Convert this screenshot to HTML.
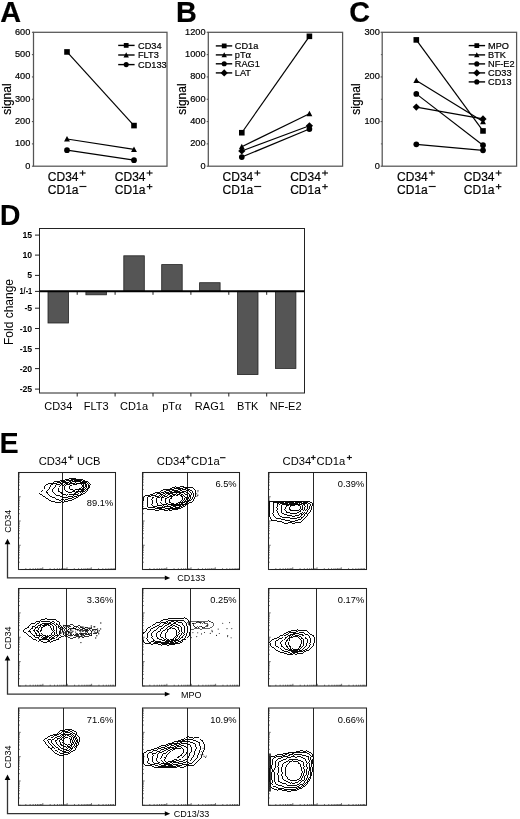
<!DOCTYPE html>
<html><head><meta charset="utf-8"><style>
html,body{margin:0;padding:0;background:#fff;}
body{width:520px;height:819px;overflow:hidden;font-family:"Liberation Sans",sans-serif;}
svg{display:block;filter:grayscale(1);}
svg text.st{stroke:#000;stroke-width:0.2px;paint-order:stroke;}
</style></head><body>
<svg width="520" height="819" viewBox="0 0 520 819">
<rect width="520" height="819" fill="#fff"/>
<text class="st" x="0.3" y="22.2" font-size="28.8" font-weight="bold" font-family="Liberation Sans, sans-serif">A</text>
<rect x="33.5" y="32.3" width="133.50" height="133.90" fill="none" stroke="#555" stroke-width="1.25"/>
<line x1="31.9" y1="166.20" x2="33.5" y2="166.20" stroke="#555" stroke-width="1.1"/>
<text class="st" x="30.3" y="168.60" font-size="9.2" text-anchor="end" font-family="Liberation Sans, sans-serif">0</text>
<line x1="31.9" y1="143.88" x2="33.5" y2="143.88" stroke="#555" stroke-width="1.1"/>
<text class="st" x="30.3" y="146.28" font-size="9.2" text-anchor="end" font-family="Liberation Sans, sans-serif">100</text>
<line x1="31.9" y1="121.57" x2="33.5" y2="121.57" stroke="#555" stroke-width="1.1"/>
<text class="st" x="30.3" y="123.97" font-size="9.2" text-anchor="end" font-family="Liberation Sans, sans-serif">200</text>
<line x1="31.9" y1="99.25" x2="33.5" y2="99.25" stroke="#555" stroke-width="1.1"/>
<text class="st" x="30.3" y="101.65" font-size="9.2" text-anchor="end" font-family="Liberation Sans, sans-serif">300</text>
<line x1="31.9" y1="76.93" x2="33.5" y2="76.93" stroke="#555" stroke-width="1.1"/>
<text class="st" x="30.3" y="79.33" font-size="9.2" text-anchor="end" font-family="Liberation Sans, sans-serif">400</text>
<line x1="31.9" y1="54.62" x2="33.5" y2="54.62" stroke="#555" stroke-width="1.1"/>
<text class="st" x="30.3" y="57.02" font-size="9.2" text-anchor="end" font-family="Liberation Sans, sans-serif">500</text>
<line x1="31.9" y1="32.30" x2="33.5" y2="32.30" stroke="#555" stroke-width="1.1"/>
<text class="st" x="30.3" y="34.70" font-size="9.2" text-anchor="end" font-family="Liberation Sans, sans-serif">600</text>
<text class="st" transform="translate(10.5,99.1) rotate(-90)" font-size="12" text-anchor="middle" font-family="Liberation Sans, sans-serif">signal</text>
<line x1="67.0" y1="51.94" x2="134.0" y2="125.58" stroke="#000" stroke-width="1.2"/>
<line x1="67.0" y1="138.97" x2="134.0" y2="149.46" stroke="#000" stroke-width="1.2"/>
<line x1="67.0" y1="150.13" x2="134.0" y2="160.17" stroke="#000" stroke-width="1.2"/>
<rect x="64.20" y="49.14" width="5.60" height="5.60" fill="#000"/>
<rect x="131.20" y="122.78" width="5.60" height="5.60" fill="#000"/>
<path d="M67.00,135.97 L69.95,141.57 L64.05,141.57Z" fill="#000"/>
<path d="M134.00,146.46 L136.95,152.06 L131.05,152.06Z" fill="#000"/>
<circle cx="67.00" cy="150.13" r="2.85" fill="#000"/>
<circle cx="134.00" cy="160.17" r="2.85" fill="#000"/>
<line x1="118.2" y1="45.4" x2="134.6" y2="45.4" stroke="#000" stroke-width="1.4"/>
<rect x="123.82" y="43.02" width="4.76" height="4.76" fill="#000"/>
<text class="st" x="138.0" y="48.60" font-size="9.2" font-family="Liberation Sans, sans-serif">CD34</text>
<line x1="118.2" y1="55.0" x2="134.6" y2="55.0" stroke="#000" stroke-width="1.4"/>
<path d="M126.20,52.24 L128.91,57.39 L123.49,57.39Z" fill="#000"/>
<text class="st" x="138.0" y="58.20" font-size="9.2" font-family="Liberation Sans, sans-serif">FLT3</text>
<line x1="118.2" y1="64.6" x2="134.6" y2="64.6" stroke="#000" stroke-width="1.4"/>
<circle cx="126.20" cy="64.60" r="2.56" fill="#000"/>
<text class="st" x="138.0" y="67.80" font-size="9.2" font-family="Liberation Sans, sans-serif">CD133</text>
<text class="st" x="47.80" y="180.8" font-size="12" font-family="Liberation Sans, sans-serif">CD34</text>
<rect x="79.60" y="172.43" width="6.00" height="1.15" fill="#111"/><rect x="82.02" y="170.40" width="1.15" height="5.20" fill="#111"/>
<text class="st" x="47.80" y="194.4" font-size="12" font-family="Liberation Sans, sans-serif">CD1a</text>
<rect x="79.40" y="185.93" width="7.00" height="1.15" fill="#111"/>
<text class="st" x="114.80" y="180.8" font-size="12" font-family="Liberation Sans, sans-serif">CD34</text>
<rect x="146.60" y="172.43" width="6.00" height="1.15" fill="#111"/><rect x="149.03" y="170.40" width="1.15" height="5.20" fill="#111"/>
<text class="st" x="114.80" y="194.4" font-size="12" font-family="Liberation Sans, sans-serif">CD1a</text>
<rect x="146.80" y="186.08" width="5.60" height="1.15" fill="#111"/><rect x="149.03" y="184.00" width="1.15" height="5.30" fill="#111"/>
<text class="st" x="175.9" y="22.2" font-size="28.8" font-weight="bold" font-family="Liberation Sans, sans-serif">B</text>
<rect x="208.3" y="32.3" width="134.30" height="133.90" fill="none" stroke="#555" stroke-width="1.25"/>
<line x1="206.70000000000002" y1="166.20" x2="208.3" y2="166.20" stroke="#555" stroke-width="1.1"/>
<text class="st" x="205.5" y="168.60" font-size="9.2" text-anchor="end" font-family="Liberation Sans, sans-serif">0</text>
<line x1="206.70000000000002" y1="143.88" x2="208.3" y2="143.88" stroke="#555" stroke-width="1.1"/>
<text class="st" x="205.5" y="146.28" font-size="9.2" text-anchor="end" font-family="Liberation Sans, sans-serif">200</text>
<line x1="206.70000000000002" y1="121.57" x2="208.3" y2="121.57" stroke="#555" stroke-width="1.1"/>
<text class="st" x="205.5" y="123.97" font-size="9.2" text-anchor="end" font-family="Liberation Sans, sans-serif">400</text>
<line x1="206.70000000000002" y1="99.25" x2="208.3" y2="99.25" stroke="#555" stroke-width="1.1"/>
<text class="st" x="205.5" y="101.65" font-size="9.2" text-anchor="end" font-family="Liberation Sans, sans-serif">600</text>
<line x1="206.70000000000002" y1="76.93" x2="208.3" y2="76.93" stroke="#555" stroke-width="1.1"/>
<text class="st" x="205.5" y="79.33" font-size="9.2" text-anchor="end" font-family="Liberation Sans, sans-serif">800</text>
<line x1="206.70000000000002" y1="54.62" x2="208.3" y2="54.62" stroke="#555" stroke-width="1.1"/>
<text class="st" x="205.5" y="57.02" font-size="9.2" text-anchor="end" font-family="Liberation Sans, sans-serif">1000</text>
<line x1="206.70000000000002" y1="32.30" x2="208.3" y2="32.30" stroke="#555" stroke-width="1.1"/>
<text class="st" x="205.5" y="34.70" font-size="9.2" text-anchor="end" font-family="Liberation Sans, sans-serif">1200</text>
<text class="st" transform="translate(185.6,99.1) rotate(-90)" font-size="12" text-anchor="middle" font-family="Liberation Sans, sans-serif">signal</text>
<line x1="241.8" y1="132.72" x2="309.4" y2="36.32" stroke="#000" stroke-width="1.2"/>
<line x1="241.8" y1="146.67" x2="309.4" y2="113.76" stroke="#000" stroke-width="1.2"/>
<line x1="241.8" y1="151.02" x2="309.4" y2="125.81" stroke="#000" stroke-width="1.2"/>
<line x1="241.8" y1="157.05" x2="309.4" y2="129.04" stroke="#000" stroke-width="1.2"/>
<rect x="239.00" y="129.92" width="5.60" height="5.60" fill="#000"/>
<rect x="306.60" y="33.52" width="5.60" height="5.60" fill="#000"/>
<path d="M241.80,143.67 L244.75,149.27 L238.85,149.27Z" fill="#000"/>
<path d="M309.40,110.76 L312.35,116.36 L306.45,116.36Z" fill="#000"/>
<path d="M241.80,147.42 L245.40,151.02 L241.80,154.62 L238.20,151.02Z" fill="#000"/>
<path d="M309.40,122.21 L313.00,125.81 L309.40,129.41 L305.80,125.81Z" fill="#000"/>
<circle cx="241.80" cy="157.05" r="2.85" fill="#000"/>
<circle cx="309.40" cy="129.04" r="2.85" fill="#000"/>
<line x1="215.8" y1="45.9" x2="232.2" y2="45.9" stroke="#000" stroke-width="1.4"/>
<rect x="221.82" y="43.52" width="4.76" height="4.76" fill="#000"/>
<text class="st" x="234.8" y="49.10" font-size="9.2" font-family="Liberation Sans, sans-serif">CD1a</text>
<line x1="215.8" y1="54.9" x2="232.2" y2="54.9" stroke="#000" stroke-width="1.4"/>
<path d="M224.20,52.14 L226.91,57.29 L221.49,57.29Z" fill="#000"/>
<text class="st" x="234.8" y="58.10" font-size="9.2" font-family="Liberation Sans, sans-serif">pT<tspan font-family="Liberation Serif, serif" font-size="10.5">α</tspan></text>
<line x1="215.8" y1="63.8" x2="232.2" y2="63.8" stroke="#000" stroke-width="1.4"/>
<circle cx="224.20" cy="63.80" r="2.56" fill="#000"/>
<text class="st" x="234.8" y="67.00" font-size="9.2" font-family="Liberation Sans, sans-serif">RAG1</text>
<line x1="215.8" y1="72.9" x2="232.2" y2="72.9" stroke="#000" stroke-width="1.4"/>
<path d="M224.20,69.30 L227.80,72.90 L224.20,76.50 L220.60,72.90Z" fill="#000"/>
<text class="st" x="234.8" y="76.10" font-size="9.2" font-family="Liberation Sans, sans-serif">LAT</text>
<text class="st" x="222.60" y="180.8" font-size="12" font-family="Liberation Sans, sans-serif">CD34</text>
<rect x="254.40" y="172.43" width="6.00" height="1.15" fill="#111"/><rect x="256.83" y="170.40" width="1.15" height="5.20" fill="#111"/>
<text class="st" x="222.60" y="194.4" font-size="12" font-family="Liberation Sans, sans-serif">CD1a</text>
<rect x="254.20" y="185.93" width="7.00" height="1.15" fill="#111"/>
<text class="st" x="290.20" y="180.8" font-size="12" font-family="Liberation Sans, sans-serif">CD34</text>
<rect x="322.00" y="172.43" width="6.00" height="1.15" fill="#111"/><rect x="324.43" y="170.40" width="1.15" height="5.20" fill="#111"/>
<text class="st" x="290.20" y="194.4" font-size="12" font-family="Liberation Sans, sans-serif">CD1a</text>
<rect x="322.20" y="186.08" width="5.60" height="1.15" fill="#111"/><rect x="324.43" y="184.00" width="1.15" height="5.30" fill="#111"/>
<text class="st" x="349.3" y="22.2" font-size="28.8" font-weight="bold" font-family="Liberation Sans, sans-serif">C</text>
<rect x="382.2" y="32.3" width="134.40" height="133.90" fill="none" stroke="#555" stroke-width="1.25"/>
<line x1="380.59999999999997" y1="166.20" x2="382.2" y2="166.20" stroke="#555" stroke-width="1.1"/>
<text class="st" x="379.8" y="168.60" font-size="9.2" text-anchor="end" font-family="Liberation Sans, sans-serif">0</text>
<line x1="380.59999999999997" y1="121.57" x2="382.2" y2="121.57" stroke="#555" stroke-width="1.1"/>
<text class="st" x="379.8" y="123.97" font-size="9.2" text-anchor="end" font-family="Liberation Sans, sans-serif">100</text>
<line x1="380.59999999999997" y1="76.93" x2="382.2" y2="76.93" stroke="#555" stroke-width="1.1"/>
<text class="st" x="379.8" y="79.33" font-size="9.2" text-anchor="end" font-family="Liberation Sans, sans-serif">200</text>
<line x1="380.59999999999997" y1="32.30" x2="382.2" y2="32.30" stroke="#555" stroke-width="1.1"/>
<text class="st" x="379.8" y="34.70" font-size="9.2" text-anchor="end" font-family="Liberation Sans, sans-serif">300</text>
<line x1="380.9" y1="143.88" x2="382.2" y2="143.88" stroke="#555" stroke-width="0.9"/>
<line x1="380.9" y1="99.25" x2="382.2" y2="99.25" stroke="#555" stroke-width="0.9"/>
<line x1="380.9" y1="54.62" x2="382.2" y2="54.62" stroke="#555" stroke-width="0.9"/>
<text class="st" transform="translate(359.6,99.1) rotate(-90)" font-size="12" text-anchor="middle" font-family="Liberation Sans, sans-serif">signal</text>
<line x1="416.3" y1="39.89" x2="483.0" y2="130.94" stroke="#000" stroke-width="1.2"/>
<line x1="416.3" y1="80.50" x2="483.0" y2="121.57" stroke="#000" stroke-width="1.2"/>
<line x1="416.3" y1="93.89" x2="483.0" y2="145.22" stroke="#000" stroke-width="1.2"/>
<line x1="416.3" y1="107.06" x2="483.0" y2="118.89" stroke="#000" stroke-width="1.2"/>
<line x1="416.3" y1="144.33" x2="483.0" y2="150.36" stroke="#000" stroke-width="1.2"/>
<rect x="413.50" y="37.09" width="5.60" height="5.60" fill="#000"/>
<rect x="480.20" y="128.14" width="5.60" height="5.60" fill="#000"/>
<path d="M416.30,77.50 L419.25,83.10 L413.35,83.10Z" fill="#000"/>
<path d="M483.00,118.57 L485.95,124.17 L480.05,124.17Z" fill="#000"/>
<circle cx="416.30" cy="93.89" r="2.85" fill="#000"/>
<circle cx="483.00" cy="145.22" r="2.85" fill="#000"/>
<path d="M416.30,103.46 L419.90,107.06 L416.30,110.66 L412.70,107.06Z" fill="#000"/>
<path d="M483.00,115.29 L486.60,118.89 L483.00,122.49 L479.40,118.89Z" fill="#000"/>
<circle cx="416.30" cy="144.33" r="2.85" fill="#000"/>
<circle cx="483.00" cy="150.36" r="2.85" fill="#000"/>
<line x1="468.7" y1="45.6" x2="485.1" y2="45.6" stroke="#000" stroke-width="1.4"/>
<rect x="474.42" y="43.22" width="4.76" height="4.76" fill="#000"/>
<text class="st" x="488.0" y="48.80" font-size="9.2" font-family="Liberation Sans, sans-serif">MPO</text>
<line x1="468.7" y1="54.9" x2="485.1" y2="54.9" stroke="#000" stroke-width="1.4"/>
<path d="M476.80,52.14 L479.51,57.29 L474.09,57.29Z" fill="#000"/>
<text class="st" x="488.0" y="58.10" font-size="9.2" font-family="Liberation Sans, sans-serif">BTK</text>
<line x1="468.7" y1="63.9" x2="485.1" y2="63.9" stroke="#000" stroke-width="1.4"/>
<circle cx="476.80" cy="63.90" r="2.56" fill="#000"/>
<text class="st" x="488.0" y="67.10" font-size="9.2" font-family="Liberation Sans, sans-serif">NF-E2</text>
<line x1="468.7" y1="72.9" x2="485.1" y2="72.9" stroke="#000" stroke-width="1.4"/>
<path d="M476.80,69.30 L480.40,72.90 L476.80,76.50 L473.20,72.90Z" fill="#000"/>
<text class="st" x="488.0" y="76.10" font-size="9.2" font-family="Liberation Sans, sans-serif">CD33</text>
<line x1="468.7" y1="81.9" x2="485.1" y2="81.9" stroke="#000" stroke-width="1.4"/>
<circle cx="476.80" cy="81.90" r="2.56" fill="#000"/>
<text class="st" x="488.0" y="85.10" font-size="9.2" font-family="Liberation Sans, sans-serif">CD13</text>
<text class="st" x="397.10" y="180.8" font-size="12" font-family="Liberation Sans, sans-serif">CD34</text>
<rect x="428.90" y="172.43" width="6.00" height="1.15" fill="#111"/><rect x="431.33" y="170.40" width="1.15" height="5.20" fill="#111"/>
<text class="st" x="397.10" y="194.4" font-size="12" font-family="Liberation Sans, sans-serif">CD1a</text>
<rect x="428.70" y="185.93" width="7.00" height="1.15" fill="#111"/>
<text class="st" x="463.80" y="180.8" font-size="12" font-family="Liberation Sans, sans-serif">CD34</text>
<rect x="495.60" y="172.43" width="6.00" height="1.15" fill="#111"/><rect x="498.03" y="170.40" width="1.15" height="5.20" fill="#111"/>
<text class="st" x="463.80" y="194.4" font-size="12" font-family="Liberation Sans, sans-serif">CD1a</text>
<rect x="495.80" y="186.08" width="5.60" height="1.15" fill="#111"/><rect x="498.03" y="184.00" width="1.15" height="5.30" fill="#111"/>
<text x="-0.2" y="224.8" font-size="28.8" font-weight="bold" font-family="Liberation Sans, sans-serif">D</text>
<rect x="39.5" y="228.5" width="265.0" height="164.5" fill="none" stroke="#222" stroke-width="1"/>
<line x1="35" y1="235.1" x2="39.5" y2="235.1" stroke="#222" stroke-width="1"/>
<text x="32.2" y="238.10" font-size="8.7" font-weight="bold" text-anchor="end" font-family="Liberation Sans, sans-serif">15</text>
<line x1="35" y1="255.1" x2="39.5" y2="255.1" stroke="#222" stroke-width="1"/>
<text x="32.2" y="258.10" font-size="8.7" font-weight="bold" text-anchor="end" font-family="Liberation Sans, sans-serif">10</text>
<line x1="35" y1="275.4" x2="39.5" y2="275.4" stroke="#222" stroke-width="1"/>
<text x="32.2" y="278.40" font-size="8.7" font-weight="bold" text-anchor="end" font-family="Liberation Sans, sans-serif">5</text>
<line x1="35" y1="291.4" x2="39.5" y2="291.4" stroke="#222" stroke-width="1"/>
<text x="32.2" y="294.40" font-size="8.7" font-weight="bold" text-anchor="end" textLength="12.7" lengthAdjust="spacingAndGlyphs" font-family="Liberation Sans, sans-serif">1/-1</text>
<line x1="35" y1="308.2" x2="39.5" y2="308.2" stroke="#222" stroke-width="1"/>
<text x="32.2" y="311.20" font-size="8.7" font-weight="bold" text-anchor="end" font-family="Liberation Sans, sans-serif">-5</text>
<line x1="35" y1="328.5" x2="39.5" y2="328.5" stroke="#222" stroke-width="1"/>
<text x="32.2" y="331.50" font-size="8.7" font-weight="bold" text-anchor="end" font-family="Liberation Sans, sans-serif">-10</text>
<line x1="35" y1="348.6" x2="39.5" y2="348.6" stroke="#222" stroke-width="1"/>
<text x="32.2" y="351.60" font-size="8.7" font-weight="bold" text-anchor="end" font-family="Liberation Sans, sans-serif">-15</text>
<line x1="35" y1="368.6" x2="39.5" y2="368.6" stroke="#222" stroke-width="1"/>
<text x="32.2" y="371.60" font-size="8.7" font-weight="bold" text-anchor="end" font-family="Liberation Sans, sans-serif">-20</text>
<line x1="35" y1="389.1" x2="39.5" y2="389.1" stroke="#222" stroke-width="1"/>
<text x="32.2" y="392.10" font-size="8.7" font-weight="bold" text-anchor="end" font-family="Liberation Sans, sans-serif">-25</text>
<text transform="translate(13.2,312) rotate(-90)" font-size="12" text-anchor="middle" font-family="Liberation Sans, sans-serif">Fold change</text>
<rect x="48.00" y="291.3" width="20.5" height="31.70" fill="#555" stroke="#222" stroke-width="0.8"/>
<text x="58.25" y="410.2" font-size="11" text-anchor="middle" font-family="Liberation Sans, sans-serif">CD34</text>
<rect x="85.90" y="291.3" width="20.5" height="3.50" fill="#555" stroke="#222" stroke-width="0.8"/>
<text x="96.15" y="410.2" font-size="11" text-anchor="middle" font-family="Liberation Sans, sans-serif">FLT3</text>
<rect x="123.80" y="255.8" width="20.5" height="35.50" fill="#555" stroke="#222" stroke-width="0.8"/>
<text x="134.05" y="410.2" font-size="11" text-anchor="middle" font-family="Liberation Sans, sans-serif">CD1a</text>
<rect x="161.70" y="264.6" width="20.5" height="26.70" fill="#555" stroke="#222" stroke-width="0.8"/>
<text x="171.95" y="410.2" font-size="11" text-anchor="middle" font-family="Liberation Sans, sans-serif">pT<tspan font-family="Liberation Serif, serif" font-size="12.5">α</tspan></text>
<rect x="199.60" y="282.7" width="20.5" height="8.60" fill="#555" stroke="#222" stroke-width="0.8"/>
<text x="209.85" y="410.2" font-size="11" text-anchor="middle" font-family="Liberation Sans, sans-serif">RAG1</text>
<rect x="237.50" y="291.3" width="20.5" height="83.30" fill="#555" stroke="#222" stroke-width="0.8"/>
<text x="247.75" y="410.2" font-size="11" text-anchor="middle" font-family="Liberation Sans, sans-serif">BTK</text>
<rect x="275.40" y="291.3" width="20.5" height="77.10" fill="#555" stroke="#222" stroke-width="0.8"/>
<text x="285.65" y="410.2" font-size="11" text-anchor="middle" font-family="Liberation Sans, sans-serif">NF-E2</text>
<line x1="77.20" y1="291.3" x2="77.20" y2="294.8" stroke="#222" stroke-width="1"/>
<line x1="77.20" y1="393.0" x2="77.20" y2="396.5" stroke="#222" stroke-width="1"/>
<line x1="115.10" y1="291.3" x2="115.10" y2="294.8" stroke="#222" stroke-width="1"/>
<line x1="115.10" y1="393.0" x2="115.10" y2="396.5" stroke="#222" stroke-width="1"/>
<line x1="153.00" y1="291.3" x2="153.00" y2="294.8" stroke="#222" stroke-width="1"/>
<line x1="153.00" y1="393.0" x2="153.00" y2="396.5" stroke="#222" stroke-width="1"/>
<line x1="190.90" y1="291.3" x2="190.90" y2="294.8" stroke="#222" stroke-width="1"/>
<line x1="190.90" y1="393.0" x2="190.90" y2="396.5" stroke="#222" stroke-width="1"/>
<line x1="228.80" y1="291.3" x2="228.80" y2="294.8" stroke="#222" stroke-width="1"/>
<line x1="228.80" y1="393.0" x2="228.80" y2="396.5" stroke="#222" stroke-width="1"/>
<line x1="266.70" y1="291.3" x2="266.70" y2="294.8" stroke="#222" stroke-width="1"/>
<line x1="266.70" y1="393.0" x2="266.70" y2="396.5" stroke="#222" stroke-width="1"/>
<line x1="39.5" y1="291.3" x2="304.5" y2="291.3" stroke="#000" stroke-width="2"/>
<text x="-0.5" y="452.8" font-size="28.8" font-weight="bold" font-family="Liberation Sans, sans-serif">E</text>
<text x="38.7" y="465.4" font-size="11.2" font-family="Liberation Sans, sans-serif">CD34</text>
<rect x="68.00" y="456.68" width="5.40" height="1.15" fill="#111"/><rect x="70.12" y="454.70" width="1.15" height="5.10" fill="#111"/>
<text x="76.9" y="465.4" font-size="11.2" font-family="Liberation Sans, sans-serif">UCB</text>
<text x="156.8" y="465.2" font-size="11.2" font-family="Liberation Sans, sans-serif">CD34</text>
<rect x="185.40" y="456.73" width="5.00" height="1.15" fill="#111"/><rect x="187.33" y="455.00" width="1.15" height="4.60" fill="#111"/>
<text x="191.1" y="465.2" font-size="11.2" font-family="Liberation Sans, sans-serif">CD1a</text>
<rect x="220.00" y="457.12" width="5.50" height="1.15" fill="#111"/>
<text x="282.6" y="465.2" font-size="11.2" font-family="Liberation Sans, sans-serif">CD34</text>
<rect x="310.90" y="456.97" width="4.80" height="1.15" fill="#111"/><rect x="312.72" y="455.20" width="1.15" height="4.70" fill="#111"/>
<text x="316.6" y="465.2" font-size="11.2" font-family="Liberation Sans, sans-serif">CD1a</text>
<rect x="346.90" y="456.97" width="5.00" height="1.15" fill="#111"/><rect x="348.82" y="455.20" width="1.15" height="4.70" fill="#111"/>
<rect x="18.5" y="472.5" width="97.00" height="97.00" fill="none" stroke="#222" stroke-width="1.05"/>
<line x1="62.5" y1="472.5" x2="62.5" y2="569.5" stroke="#1a1a1a" stroke-width="0.95"/>
<text x="113.2" y="506.4" font-size="9.3" text-anchor="end" font-family="Liberation Sans, sans-serif">89.1%</text>
<path d="M18.50,569.50h2.2 M18.50,569.50v-2.2 M18.50,562.20h1.3 M25.80,569.50v-1.3 M18.50,557.93h1.3 M30.07,569.50v-1.3 M18.50,554.90h1.3 M33.10,569.50v-1.3 M18.50,552.55h1.3 M35.45,569.50v-1.3 M18.50,550.63h1.3 M37.37,569.50v-1.3 M18.50,549.01h1.3 M38.99,569.50v-1.3 M18.50,547.60h1.3 M40.40,569.50v-1.3 M18.50,546.36h1.3 M41.64,569.50v-1.3 M18.50,545.25h2.2 M42.75,569.50v-2.2 M18.50,537.95h1.3 M50.05,569.50v-1.3 M18.50,533.68h1.3 M54.32,569.50v-1.3 M18.50,530.65h1.3 M57.35,569.50v-1.3 M18.50,528.30h1.3 M59.70,569.50v-1.3 M18.50,526.38h1.3 M61.62,569.50v-1.3 M18.50,524.76h1.3 M63.24,569.50v-1.3 M18.50,523.35h1.3 M64.65,569.50v-1.3 M18.50,522.11h1.3 M65.89,569.50v-1.3 M18.50,521.00h2.2 M67.00,569.50v-2.2 M18.50,513.70h1.3 M74.30,569.50v-1.3 M18.50,509.43h1.3 M78.57,569.50v-1.3 M18.50,506.40h1.3 M81.60,569.50v-1.3 M18.50,504.05h1.3 M83.95,569.50v-1.3 M18.50,502.13h1.3 M85.87,569.50v-1.3 M18.50,500.51h1.3 M87.49,569.50v-1.3 M18.50,499.10h1.3 M88.90,569.50v-1.3 M18.50,497.86h1.3 M90.14,569.50v-1.3 M18.50,496.75h2.2 M91.25,569.50v-2.2 M18.50,489.45h1.3 M98.55,569.50v-1.3 M18.50,485.18h1.3 M102.82,569.50v-1.3 M18.50,482.15h1.3 M105.85,569.50v-1.3 M18.50,479.80h1.3 M108.20,569.50v-1.3 M18.50,477.88h1.3 M110.12,569.50v-1.3 M18.50,476.26h1.3 M111.74,569.50v-1.3 M18.50,474.85h1.3 M113.15,569.50v-1.3 M18.50,473.61h1.3 M114.39,569.50v-1.3" stroke="#333" stroke-width="0.7" fill="none"/>
<rect x="142.5" y="472.5" width="97.00" height="97.00" fill="none" stroke="#222" stroke-width="1.05"/>
<line x1="187.5" y1="472.5" x2="187.5" y2="569.5" stroke="#1a1a1a" stroke-width="0.95"/>
<text x="236.6" y="487.4" font-size="9.3" text-anchor="end" font-family="Liberation Sans, sans-serif">6.5%</text>
<path d="M142.50,569.50h2.2 M142.50,569.50v-2.2 M142.50,562.20h1.3 M149.80,569.50v-1.3 M142.50,557.93h1.3 M154.07,569.50v-1.3 M142.50,554.90h1.3 M157.10,569.50v-1.3 M142.50,552.55h1.3 M159.45,569.50v-1.3 M142.50,550.63h1.3 M161.37,569.50v-1.3 M142.50,549.01h1.3 M162.99,569.50v-1.3 M142.50,547.60h1.3 M164.40,569.50v-1.3 M142.50,546.36h1.3 M165.64,569.50v-1.3 M142.50,545.25h2.2 M166.75,569.50v-2.2 M142.50,537.95h1.3 M174.05,569.50v-1.3 M142.50,533.68h1.3 M178.32,569.50v-1.3 M142.50,530.65h1.3 M181.35,569.50v-1.3 M142.50,528.30h1.3 M183.70,569.50v-1.3 M142.50,526.38h1.3 M185.62,569.50v-1.3 M142.50,524.76h1.3 M187.24,569.50v-1.3 M142.50,523.35h1.3 M188.65,569.50v-1.3 M142.50,522.11h1.3 M189.89,569.50v-1.3 M142.50,521.00h2.2 M191.00,569.50v-2.2 M142.50,513.70h1.3 M198.30,569.50v-1.3 M142.50,509.43h1.3 M202.57,569.50v-1.3 M142.50,506.40h1.3 M205.60,569.50v-1.3 M142.50,504.05h1.3 M207.95,569.50v-1.3 M142.50,502.13h1.3 M209.87,569.50v-1.3 M142.50,500.51h1.3 M211.49,569.50v-1.3 M142.50,499.10h1.3 M212.90,569.50v-1.3 M142.50,497.86h1.3 M214.14,569.50v-1.3 M142.50,496.75h2.2 M215.25,569.50v-2.2 M142.50,489.45h1.3 M222.55,569.50v-1.3 M142.50,485.18h1.3 M226.82,569.50v-1.3 M142.50,482.15h1.3 M229.85,569.50v-1.3 M142.50,479.80h1.3 M232.20,569.50v-1.3 M142.50,477.88h1.3 M234.12,569.50v-1.3 M142.50,476.26h1.3 M235.74,569.50v-1.3 M142.50,474.85h1.3 M237.15,569.50v-1.3 M142.50,473.61h1.3 M238.39,569.50v-1.3" stroke="#333" stroke-width="0.7" fill="none"/>
<rect x="268.5" y="472.5" width="98.00" height="97.00" fill="none" stroke="#222" stroke-width="1.05"/>
<line x1="313.5" y1="472.5" x2="313.5" y2="569.5" stroke="#1a1a1a" stroke-width="0.95"/>
<text x="364.2" y="487.4" font-size="9.3" text-anchor="end" font-family="Liberation Sans, sans-serif">0.39%</text>
<path d="M268.50,569.50h2.2 M268.50,569.50v-2.2 M268.50,562.20h1.3 M275.80,569.50v-1.3 M268.50,557.93h1.3 M280.07,569.50v-1.3 M268.50,554.90h1.3 M283.10,569.50v-1.3 M268.50,552.55h1.3 M285.45,569.50v-1.3 M268.50,550.63h1.3 M287.37,569.50v-1.3 M268.50,549.01h1.3 M288.99,569.50v-1.3 M268.50,547.60h1.3 M290.40,569.50v-1.3 M268.50,546.36h1.3 M291.64,569.50v-1.3 M268.50,545.25h2.2 M292.75,569.50v-2.2 M268.50,537.95h1.3 M300.05,569.50v-1.3 M268.50,533.68h1.3 M304.32,569.50v-1.3 M268.50,530.65h1.3 M307.35,569.50v-1.3 M268.50,528.30h1.3 M309.70,569.50v-1.3 M268.50,526.38h1.3 M311.62,569.50v-1.3 M268.50,524.76h1.3 M313.24,569.50v-1.3 M268.50,523.35h1.3 M314.65,569.50v-1.3 M268.50,522.11h1.3 M315.89,569.50v-1.3 M268.50,521.00h2.2 M317.00,569.50v-2.2 M268.50,513.70h1.3 M324.30,569.50v-1.3 M268.50,509.43h1.3 M328.57,569.50v-1.3 M268.50,506.40h1.3 M331.60,569.50v-1.3 M268.50,504.05h1.3 M333.95,569.50v-1.3 M268.50,502.13h1.3 M335.87,569.50v-1.3 M268.50,500.51h1.3 M337.49,569.50v-1.3 M268.50,499.10h1.3 M338.90,569.50v-1.3 M268.50,497.86h1.3 M340.14,569.50v-1.3 M268.50,496.75h2.2 M341.25,569.50v-2.2 M268.50,489.45h1.3 M348.55,569.50v-1.3 M268.50,485.18h1.3 M352.82,569.50v-1.3 M268.50,482.15h1.3 M355.85,569.50v-1.3 M268.50,479.80h1.3 M358.20,569.50v-1.3 M268.50,477.88h1.3 M360.12,569.50v-1.3 M268.50,476.26h1.3 M361.74,569.50v-1.3 M268.50,474.85h1.3 M363.15,569.50v-1.3 M268.50,473.61h1.3 M364.39,569.50v-1.3" stroke="#333" stroke-width="0.7" fill="none"/>
<rect x="18.5" y="588.5" width="97.00" height="97.50" fill="none" stroke="#222" stroke-width="1.05"/>
<line x1="66.5" y1="588.5" x2="66.5" y2="686.0" stroke="#1a1a1a" stroke-width="0.95"/>
<text x="113.2" y="603.0" font-size="9.3" text-anchor="end" font-family="Liberation Sans, sans-serif">3.36%</text>
<path d="M18.50,686.00h2.2 M18.50,686.00v-2.2 M18.50,678.66h1.3 M25.84,686.00v-1.3 M18.50,674.37h1.3 M30.13,686.00v-1.3 M18.50,671.32h1.3 M33.18,686.00v-1.3 M18.50,668.96h1.3 M35.54,686.00v-1.3 M18.50,667.03h1.3 M37.47,686.00v-1.3 M18.50,665.40h1.3 M39.10,686.00v-1.3 M18.50,663.99h1.3 M40.51,686.00v-1.3 M18.50,662.74h1.3 M41.76,686.00v-1.3 M18.50,661.62h2.2 M42.88,686.00v-2.2 M18.50,654.29h1.3 M50.21,686.00v-1.3 M18.50,650.00h1.3 M54.50,686.00v-1.3 M18.50,646.95h1.3 M57.55,686.00v-1.3 M18.50,644.59h1.3 M59.91,686.00v-1.3 M18.50,642.66h1.3 M61.84,686.00v-1.3 M18.50,641.03h1.3 M63.47,686.00v-1.3 M18.50,639.61h1.3 M64.89,686.00v-1.3 M18.50,638.37h1.3 M66.13,686.00v-1.3 M18.50,637.25h2.2 M67.25,686.00v-2.2 M18.50,629.91h1.3 M74.59,686.00v-1.3 M18.50,625.62h1.3 M78.88,686.00v-1.3 M18.50,622.57h1.3 M81.93,686.00v-1.3 M18.50,620.21h1.3 M84.29,686.00v-1.3 M18.50,618.28h1.3 M86.22,686.00v-1.3 M18.50,616.65h1.3 M87.85,686.00v-1.3 M18.50,615.24h1.3 M89.26,686.00v-1.3 M18.50,613.99h1.3 M90.51,686.00v-1.3 M18.50,612.88h2.2 M91.62,686.00v-2.2 M18.50,605.54h1.3 M98.96,686.00v-1.3 M18.50,601.25h1.3 M103.25,686.00v-1.3 M18.50,598.20h1.3 M106.30,686.00v-1.3 M18.50,595.84h1.3 M108.66,686.00v-1.3 M18.50,593.91h1.3 M110.59,686.00v-1.3 M18.50,592.28h1.3 M112.22,686.00v-1.3 M18.50,590.86h1.3 M113.64,686.00v-1.3 M18.50,589.62h1.3" stroke="#333" stroke-width="0.7" fill="none"/>
<rect x="142.5" y="588.5" width="97.00" height="97.50" fill="none" stroke="#222" stroke-width="1.05"/>
<line x1="190.5" y1="588.5" x2="190.5" y2="686.0" stroke="#1a1a1a" stroke-width="0.95"/>
<text x="236.6" y="603.0" font-size="9.3" text-anchor="end" font-family="Liberation Sans, sans-serif">0.25%</text>
<path d="M142.50,686.00h2.2 M142.50,686.00v-2.2 M142.50,678.66h1.3 M149.84,686.00v-1.3 M142.50,674.37h1.3 M154.13,686.00v-1.3 M142.50,671.32h1.3 M157.18,686.00v-1.3 M142.50,668.96h1.3 M159.54,686.00v-1.3 M142.50,667.03h1.3 M161.47,686.00v-1.3 M142.50,665.40h1.3 M163.10,686.00v-1.3 M142.50,663.99h1.3 M164.51,686.00v-1.3 M142.50,662.74h1.3 M165.76,686.00v-1.3 M142.50,661.62h2.2 M166.88,686.00v-2.2 M142.50,654.29h1.3 M174.21,686.00v-1.3 M142.50,650.00h1.3 M178.50,686.00v-1.3 M142.50,646.95h1.3 M181.55,686.00v-1.3 M142.50,644.59h1.3 M183.91,686.00v-1.3 M142.50,642.66h1.3 M185.84,686.00v-1.3 M142.50,641.03h1.3 M187.47,686.00v-1.3 M142.50,639.61h1.3 M188.89,686.00v-1.3 M142.50,638.37h1.3 M190.13,686.00v-1.3 M142.50,637.25h2.2 M191.25,686.00v-2.2 M142.50,629.91h1.3 M198.59,686.00v-1.3 M142.50,625.62h1.3 M202.88,686.00v-1.3 M142.50,622.57h1.3 M205.93,686.00v-1.3 M142.50,620.21h1.3 M208.29,686.00v-1.3 M142.50,618.28h1.3 M210.22,686.00v-1.3 M142.50,616.65h1.3 M211.85,686.00v-1.3 M142.50,615.24h1.3 M213.26,686.00v-1.3 M142.50,613.99h1.3 M214.51,686.00v-1.3 M142.50,612.88h2.2 M215.62,686.00v-2.2 M142.50,605.54h1.3 M222.96,686.00v-1.3 M142.50,601.25h1.3 M227.25,686.00v-1.3 M142.50,598.20h1.3 M230.30,686.00v-1.3 M142.50,595.84h1.3 M232.66,686.00v-1.3 M142.50,593.91h1.3 M234.59,686.00v-1.3 M142.50,592.28h1.3 M236.22,686.00v-1.3 M142.50,590.86h1.3 M237.64,686.00v-1.3 M142.50,589.62h1.3" stroke="#333" stroke-width="0.7" fill="none"/>
<rect x="268.5" y="588.5" width="98.00" height="97.50" fill="none" stroke="#222" stroke-width="1.05"/>
<line x1="316.5" y1="588.5" x2="316.5" y2="686.0" stroke="#1a1a1a" stroke-width="0.95"/>
<text x="364.2" y="603.0" font-size="9.3" text-anchor="end" font-family="Liberation Sans, sans-serif">0.17%</text>
<path d="M268.50,686.00h2.2 M268.50,686.00v-2.2 M268.50,678.66h1.3 M275.84,686.00v-1.3 M268.50,674.37h1.3 M280.13,686.00v-1.3 M268.50,671.32h1.3 M283.18,686.00v-1.3 M268.50,668.96h1.3 M285.54,686.00v-1.3 M268.50,667.03h1.3 M287.47,686.00v-1.3 M268.50,665.40h1.3 M289.10,686.00v-1.3 M268.50,663.99h1.3 M290.51,686.00v-1.3 M268.50,662.74h1.3 M291.76,686.00v-1.3 M268.50,661.62h2.2 M292.88,686.00v-2.2 M268.50,654.29h1.3 M300.21,686.00v-1.3 M268.50,650.00h1.3 M304.50,686.00v-1.3 M268.50,646.95h1.3 M307.55,686.00v-1.3 M268.50,644.59h1.3 M309.91,686.00v-1.3 M268.50,642.66h1.3 M311.84,686.00v-1.3 M268.50,641.03h1.3 M313.47,686.00v-1.3 M268.50,639.61h1.3 M314.89,686.00v-1.3 M268.50,638.37h1.3 M316.13,686.00v-1.3 M268.50,637.25h2.2 M317.25,686.00v-2.2 M268.50,629.91h1.3 M324.59,686.00v-1.3 M268.50,625.62h1.3 M328.88,686.00v-1.3 M268.50,622.57h1.3 M331.93,686.00v-1.3 M268.50,620.21h1.3 M334.29,686.00v-1.3 M268.50,618.28h1.3 M336.22,686.00v-1.3 M268.50,616.65h1.3 M337.85,686.00v-1.3 M268.50,615.24h1.3 M339.26,686.00v-1.3 M268.50,613.99h1.3 M340.51,686.00v-1.3 M268.50,612.88h2.2 M341.62,686.00v-2.2 M268.50,605.54h1.3 M348.96,686.00v-1.3 M268.50,601.25h1.3 M353.25,686.00v-1.3 M268.50,598.20h1.3 M356.30,686.00v-1.3 M268.50,595.84h1.3 M358.66,686.00v-1.3 M268.50,593.91h1.3 M360.59,686.00v-1.3 M268.50,592.28h1.3 M362.22,686.00v-1.3 M268.50,590.86h1.3 M363.64,686.00v-1.3 M268.50,589.62h1.3 M364.88,686.00v-1.3" stroke="#333" stroke-width="0.7" fill="none"/>
<rect x="18.5" y="708.0" width="97.00" height="97.30" fill="none" stroke="#222" stroke-width="1.05"/>
<line x1="63.5" y1="708.0" x2="63.5" y2="805.3" stroke="#1a1a1a" stroke-width="0.95"/>
<text x="113.2" y="722.9" font-size="9.3" text-anchor="end" font-family="Liberation Sans, sans-serif">71.6%</text>
<path d="M18.50,805.30h2.2 M18.50,805.30v-2.2 M18.50,797.98h1.3 M25.82,805.30v-1.3 M18.50,793.69h1.3 M30.11,805.30v-1.3 M18.50,790.65h1.3 M33.15,805.30v-1.3 M18.50,788.30h1.3 M35.50,805.30v-1.3 M18.50,786.37h1.3 M37.43,805.30v-1.3 M18.50,784.74h1.3 M39.06,805.30v-1.3 M18.50,783.33h1.3 M40.47,805.30v-1.3 M18.50,782.09h1.3 M41.71,805.30v-1.3 M18.50,780.97h2.2 M42.82,805.30v-2.2 M18.50,773.65h1.3 M50.15,805.30v-1.3 M18.50,769.37h1.3 M54.43,805.30v-1.3 M18.50,766.33h1.3 M57.47,805.30v-1.3 M18.50,763.97h1.3 M59.83,805.30v-1.3 M18.50,762.05h1.3 M61.75,805.30v-1.3 M18.50,760.42h1.3 M63.38,805.30v-1.3 M18.50,759.01h1.3 M64.79,805.30v-1.3 M18.50,757.76h1.3 M66.04,805.30v-1.3 M18.50,756.65h2.2 M67.15,805.30v-2.2 M18.50,749.33h1.3 M74.47,805.30v-1.3 M18.50,745.04h1.3 M78.76,805.30v-1.3 M18.50,742.00h1.3 M81.80,805.30v-1.3 M18.50,739.65h1.3 M84.15,805.30v-1.3 M18.50,737.72h1.3 M86.08,805.30v-1.3 M18.50,736.09h1.3 M87.71,805.30v-1.3 M18.50,734.68h1.3 M89.12,805.30v-1.3 M18.50,733.44h1.3 M90.36,805.30v-1.3 M18.50,732.33h2.2 M91.47,805.30v-2.2 M18.50,725.00h1.3 M98.80,805.30v-1.3 M18.50,720.72h1.3 M103.08,805.30v-1.3 M18.50,717.68h1.3 M106.12,805.30v-1.3 M18.50,715.32h1.3 M108.48,805.30v-1.3 M18.50,713.40h1.3 M110.40,805.30v-1.3 M18.50,711.77h1.3 M112.03,805.30v-1.3 M18.50,710.36h1.3 M113.44,805.30v-1.3 M18.50,709.11h1.3" stroke="#333" stroke-width="0.7" fill="none"/>
<rect x="142.5" y="708.0" width="97.00" height="97.30" fill="none" stroke="#222" stroke-width="1.05"/>
<line x1="187.5" y1="708.0" x2="187.5" y2="805.3" stroke="#1a1a1a" stroke-width="0.95"/>
<text x="236.6" y="722.9" font-size="9.3" text-anchor="end" font-family="Liberation Sans, sans-serif">10.9%</text>
<path d="M142.50,805.30h2.2 M142.50,805.30v-2.2 M142.50,797.98h1.3 M149.82,805.30v-1.3 M142.50,793.69h1.3 M154.11,805.30v-1.3 M142.50,790.65h1.3 M157.15,805.30v-1.3 M142.50,788.30h1.3 M159.50,805.30v-1.3 M142.50,786.37h1.3 M161.43,805.30v-1.3 M142.50,784.74h1.3 M163.06,805.30v-1.3 M142.50,783.33h1.3 M164.47,805.30v-1.3 M142.50,782.09h1.3 M165.71,805.30v-1.3 M142.50,780.97h2.2 M166.82,805.30v-2.2 M142.50,773.65h1.3 M174.15,805.30v-1.3 M142.50,769.37h1.3 M178.43,805.30v-1.3 M142.50,766.33h1.3 M181.47,805.30v-1.3 M142.50,763.97h1.3 M183.83,805.30v-1.3 M142.50,762.05h1.3 M185.75,805.30v-1.3 M142.50,760.42h1.3 M187.38,805.30v-1.3 M142.50,759.01h1.3 M188.79,805.30v-1.3 M142.50,757.76h1.3 M190.04,805.30v-1.3 M142.50,756.65h2.2 M191.15,805.30v-2.2 M142.50,749.33h1.3 M198.47,805.30v-1.3 M142.50,745.04h1.3 M202.76,805.30v-1.3 M142.50,742.00h1.3 M205.80,805.30v-1.3 M142.50,739.65h1.3 M208.15,805.30v-1.3 M142.50,737.72h1.3 M210.08,805.30v-1.3 M142.50,736.09h1.3 M211.71,805.30v-1.3 M142.50,734.68h1.3 M213.12,805.30v-1.3 M142.50,733.44h1.3 M214.36,805.30v-1.3 M142.50,732.33h2.2 M215.47,805.30v-2.2 M142.50,725.00h1.3 M222.80,805.30v-1.3 M142.50,720.72h1.3 M227.08,805.30v-1.3 M142.50,717.68h1.3 M230.12,805.30v-1.3 M142.50,715.32h1.3 M232.48,805.30v-1.3 M142.50,713.40h1.3 M234.40,805.30v-1.3 M142.50,711.77h1.3 M236.03,805.30v-1.3 M142.50,710.36h1.3 M237.44,805.30v-1.3 M142.50,709.11h1.3" stroke="#333" stroke-width="0.7" fill="none"/>
<rect x="268.5" y="708.0" width="98.00" height="97.30" fill="none" stroke="#222" stroke-width="1.05"/>
<line x1="313.5" y1="708.0" x2="313.5" y2="805.3" stroke="#1a1a1a" stroke-width="0.95"/>
<text x="364.2" y="722.9" font-size="9.3" text-anchor="end" font-family="Liberation Sans, sans-serif">0.66%</text>
<path d="M268.50,805.30h2.2 M268.50,805.30v-2.2 M268.50,797.98h1.3 M275.82,805.30v-1.3 M268.50,793.69h1.3 M280.11,805.30v-1.3 M268.50,790.65h1.3 M283.15,805.30v-1.3 M268.50,788.30h1.3 M285.50,805.30v-1.3 M268.50,786.37h1.3 M287.43,805.30v-1.3 M268.50,784.74h1.3 M289.06,805.30v-1.3 M268.50,783.33h1.3 M290.47,805.30v-1.3 M268.50,782.09h1.3 M291.71,805.30v-1.3 M268.50,780.97h2.2 M292.82,805.30v-2.2 M268.50,773.65h1.3 M300.15,805.30v-1.3 M268.50,769.37h1.3 M304.43,805.30v-1.3 M268.50,766.33h1.3 M307.47,805.30v-1.3 M268.50,763.97h1.3 M309.83,805.30v-1.3 M268.50,762.05h1.3 M311.75,805.30v-1.3 M268.50,760.42h1.3 M313.38,805.30v-1.3 M268.50,759.01h1.3 M314.79,805.30v-1.3 M268.50,757.76h1.3 M316.04,805.30v-1.3 M268.50,756.65h2.2 M317.15,805.30v-2.2 M268.50,749.33h1.3 M324.47,805.30v-1.3 M268.50,745.04h1.3 M328.76,805.30v-1.3 M268.50,742.00h1.3 M331.80,805.30v-1.3 M268.50,739.65h1.3 M334.15,805.30v-1.3 M268.50,737.72h1.3 M336.08,805.30v-1.3 M268.50,736.09h1.3 M337.71,805.30v-1.3 M268.50,734.68h1.3 M339.12,805.30v-1.3 M268.50,733.44h1.3 M340.36,805.30v-1.3 M268.50,732.33h2.2 M341.47,805.30v-2.2 M268.50,725.00h1.3 M348.80,805.30v-1.3 M268.50,720.72h1.3 M353.08,805.30v-1.3 M268.50,717.68h1.3 M356.12,805.30v-1.3 M268.50,715.32h1.3 M358.48,805.30v-1.3 M268.50,713.40h1.3 M360.40,805.30v-1.3 M268.50,711.77h1.3 M362.03,805.30v-1.3 M268.50,710.36h1.3 M363.44,805.30v-1.3 M268.50,709.11h1.3 M364.69,805.30v-1.3" stroke="#333" stroke-width="0.7" fill="none"/>
<path d="M7.5,542.8 L7.5,577.9 L165,577.9" fill="none" stroke="#333" stroke-width="1.3"/>
<path d="M7.5,538.8 L4.7,544.1999999999999 L10.3,544.1999999999999Z" fill="#000"/>
<path d="M170.2,577.9 L164.8,575.5 L164.8,580.3Z" fill="#000"/>
<text x="177.3" y="581.4" font-size="9" font-family="Liberation Sans, sans-serif">CD133</text>
<text transform="translate(10.6,521.2) rotate(-90)" font-size="9" text-anchor="middle" font-family="Liberation Sans, sans-serif">CD34</text>
<path d="M7.5,659.2 L7.5,694.1 L165,694.1" fill="none" stroke="#333" stroke-width="1.3"/>
<path d="M7.5,655.2 L4.7,660.6 L10.3,660.6Z" fill="#000"/>
<path d="M170.2,694.1 L164.8,691.7 L164.8,696.5Z" fill="#000"/>
<text x="180.9" y="697.9" font-size="9" font-family="Liberation Sans, sans-serif">MPO</text>
<text transform="translate(10.6,637.9) rotate(-90)" font-size="9" text-anchor="middle" font-family="Liberation Sans, sans-serif">CD34</text>
<path d="M7.5,778.5 L7.5,813.7 L165,813.7" fill="none" stroke="#333" stroke-width="1.3"/>
<path d="M7.5,774.5 L4.7,779.9 L10.3,779.9Z" fill="#000"/>
<path d="M170.2,813.7 L164.8,811.3000000000001 L164.8,816.1Z" fill="#000"/>
<text x="173.7" y="817.0" font-size="9" font-family="Liberation Sans, sans-serif">CD13/33</text>
<text transform="translate(10.6,756.9) rotate(-90)" font-size="9" text-anchor="middle" font-family="Liberation Sans, sans-serif">CD34</text>
<path d="M39.83,493.65 C39.80,493.10 41.23,492.00 41.70,491.37 C42.17,490.74 42.28,490.34 42.67,489.87 C43.06,489.40 43.72,489.15 44.06,488.52 C44.41,487.89 44.30,486.69 44.74,486.07 C45.19,485.45 46.08,485.19 46.72,484.79 C47.36,484.38 47.99,483.81 48.58,483.64 C49.17,483.47 49.69,483.79 50.27,483.74 C50.84,483.69 51.31,483.67 52.05,483.35 C52.79,483.03 54.08,482.05 54.72,481.82 C55.37,481.58 55.21,481.99 55.90,481.92 C56.59,481.84 58.16,481.53 58.87,481.38 C59.59,481.23 59.68,481.20 60.21,481.04 C60.75,480.89 61.36,480.59 62.08,480.47 C62.80,480.34 63.82,480.45 64.54,480.30 C65.26,480.15 65.73,479.74 66.38,479.59 C67.03,479.43 67.72,479.55 68.41,479.36 C69.10,479.18 69.74,478.57 70.53,478.48 C71.32,478.39 72.39,478.81 73.14,478.83 C73.89,478.86 74.31,478.53 75.03,478.64 C75.75,478.75 76.86,479.41 77.47,479.50 C78.07,479.58 78.03,479.11 78.68,479.15 C79.33,479.18 80.55,479.55 81.37,479.71 C82.18,479.86 82.89,479.86 83.57,480.08 C84.25,480.29 84.89,480.74 85.45,481.00 C86.00,481.25 86.28,481.26 86.90,481.58 C87.53,481.91 88.63,482.52 89.21,482.94 C89.78,483.37 90.22,483.73 90.33,484.14 C90.45,484.55 90.02,484.87 89.87,485.40 C89.72,485.92 89.82,486.66 89.44,487.29 C89.07,487.91 88.04,488.53 87.63,489.14 C87.21,489.76 87.34,490.45 86.96,490.99 C86.58,491.53 85.87,491.89 85.33,492.36 C84.79,492.84 84.27,493.48 83.72,493.85 C83.16,494.23 82.56,494.36 81.98,494.62 C81.39,494.88 80.86,494.98 80.20,495.41 C79.53,495.83 78.50,496.75 77.97,497.17 C77.43,497.58 77.57,497.70 76.99,497.89 C76.40,498.08 75.20,497.96 74.48,498.30 C73.76,498.65 73.24,499.61 72.66,499.95 C72.09,500.29 71.60,500.22 71.01,500.34 C70.42,500.47 69.84,500.45 69.13,500.70 C68.41,500.95 67.46,501.66 66.73,501.84 C66.00,502.01 65.47,501.69 64.74,501.76 C64.01,501.83 63.01,502.24 62.38,502.25 C61.75,502.27 61.59,501.75 60.97,501.83 C60.36,501.92 59.42,502.61 58.71,502.77 C58.00,502.93 57.40,502.93 56.72,502.81 C56.05,502.69 55.38,502.30 54.67,502.02 C53.96,501.74 53.26,501.34 52.49,501.13 C51.72,500.92 50.69,501.08 50.05,500.77 C49.41,500.46 49.18,499.65 48.65,499.25 C48.12,498.85 47.47,498.72 46.86,498.35 C46.25,497.97 45.56,497.39 44.99,497.02 C44.42,496.65 43.97,496.51 43.45,496.11 C42.94,495.71 42.51,495.03 41.90,494.62 C41.30,494.21 39.87,494.19 39.83,493.65Z" fill="none" stroke="#000" stroke-width="0.95" shape-rendering="crispEdges"/>
<path d="M45.57,491.96 C45.40,491.60 46.23,491.29 46.70,490.91 C47.17,490.54 47.94,490.15 48.37,489.72 C48.81,489.28 49.07,488.78 49.31,488.32 C49.55,487.85 49.46,487.52 49.78,486.93 C50.11,486.33 50.84,485.22 51.24,484.75 C51.63,484.27 51.60,484.23 52.15,484.07 C52.70,483.91 53.96,483.85 54.52,483.78 C55.08,483.70 55.04,483.83 55.52,483.62 C55.99,483.42 56.83,482.70 57.40,482.53 C57.96,482.37 58.36,482.71 58.90,482.63 C59.44,482.55 59.95,482.16 60.61,482.04 C61.27,481.91 62.27,481.96 62.87,481.88 C63.47,481.80 63.74,481.69 64.20,481.55 C64.67,481.42 65.04,481.25 65.64,481.07 C66.24,480.89 67.19,480.52 67.79,480.47 C68.39,480.42 68.63,480.91 69.24,480.78 C69.84,480.65 70.73,479.80 71.41,479.69 C72.09,479.58 72.77,480.17 73.29,480.13 C73.81,480.09 73.99,479.42 74.52,479.45 C75.05,479.47 75.84,480.12 76.48,480.27 C77.12,480.43 77.63,480.38 78.34,480.40 C79.04,480.41 80.09,480.22 80.71,480.38 C81.32,480.55 81.42,481.18 82.04,481.37 C82.66,481.55 83.81,481.35 84.40,481.49 C85.00,481.63 85.11,481.95 85.59,482.22 C86.07,482.50 86.80,482.76 87.29,483.13 C87.78,483.51 88.35,484.08 88.52,484.49 C88.68,484.90 88.33,485.05 88.28,485.58 C88.22,486.11 88.48,487.08 88.17,487.69 C87.86,488.29 86.90,488.68 86.42,489.20 C85.93,489.72 85.60,490.38 85.28,490.78 C84.96,491.19 84.97,491.40 84.49,491.64 C84.02,491.88 82.94,491.95 82.44,492.21 C81.94,492.47 81.93,492.73 81.51,493.21 C81.09,493.69 80.48,494.75 79.92,495.08 C79.35,495.41 78.64,494.92 78.12,495.19 C77.59,495.45 77.29,496.39 76.77,496.67 C76.24,496.96 75.59,496.77 74.97,496.89 C74.34,497.01 73.64,497.15 73.01,497.40 C72.39,497.65 71.76,498.22 71.23,498.40 C70.69,498.57 70.38,498.31 69.80,498.45 C69.22,498.59 68.35,499.09 67.75,499.25 C67.16,499.41 66.76,499.27 66.23,499.42 C65.70,499.56 65.02,500.12 64.55,500.11 C64.07,500.09 63.98,499.40 63.38,499.34 C62.78,499.28 61.51,499.58 60.94,499.74 C60.38,499.89 60.54,500.36 60.00,500.28 C59.46,500.20 58.29,499.42 57.69,499.24 C57.09,499.06 56.84,499.40 56.40,499.20 C55.96,499.00 55.54,498.29 55.03,498.04 C54.53,497.78 53.97,497.85 53.38,497.67 C52.80,497.49 52.12,497.30 51.53,496.97 C50.94,496.65 50.39,496.19 49.84,495.72 C49.30,495.25 48.61,494.60 48.26,494.16 C47.92,493.72 48.20,493.46 47.75,493.09 C47.31,492.73 45.75,492.33 45.57,491.96Z" fill="none" stroke="#000" stroke-width="0.95" shape-rendering="crispEdges"/>
<path d="M52.15,491.27 C52.11,490.97 52.78,490.34 52.95,489.91 C53.12,489.49 52.93,489.05 53.19,488.71 C53.44,488.37 54.12,488.16 54.48,487.88 C54.84,487.60 55.21,487.40 55.36,487.01 C55.51,486.62 55.17,485.94 55.37,485.52 C55.57,485.11 56.15,484.62 56.56,484.51 C56.96,484.41 57.25,484.92 57.79,484.90 C58.32,484.89 59.31,484.61 59.78,484.42 C60.25,484.23 60.19,483.96 60.62,483.76 C61.06,483.56 61.91,483.37 62.39,483.21 C62.87,483.04 63.19,482.87 63.52,482.75 C63.86,482.63 63.88,482.54 64.40,482.49 C64.91,482.45 65.99,482.56 66.60,482.48 C67.21,482.40 67.68,482.10 68.06,482.02 C68.43,481.94 68.39,482.18 68.86,481.99 C69.33,481.80 70.33,481.09 70.89,480.86 C71.45,480.63 71.85,480.54 72.23,480.60 C72.61,480.66 72.78,481.22 73.19,481.23 C73.59,481.23 73.99,480.70 74.65,480.64 C75.32,480.59 76.64,480.88 77.18,480.90 C77.72,480.91 77.50,480.65 77.91,480.73 C78.32,480.82 79.12,481.21 79.65,481.43 C80.18,481.65 80.56,481.84 81.11,482.04 C81.67,482.23 82.32,482.52 82.98,482.59 C83.63,482.66 84.58,482.30 85.04,482.45 C85.49,482.60 85.45,483.10 85.72,483.50 C85.99,483.89 86.51,484.50 86.66,484.82 C86.81,485.14 86.62,485.05 86.64,485.42 C86.65,485.79 86.95,486.53 86.74,487.05 C86.53,487.57 85.82,488.14 85.36,488.54 C84.91,488.94 84.32,488.94 84.00,489.44 C83.68,489.93 83.76,491.15 83.45,491.49 C83.14,491.82 82.71,491.23 82.14,491.44 C81.57,491.65 80.47,492.40 80.03,492.73 C79.58,493.06 79.83,493.16 79.47,493.41 C79.11,493.66 78.43,494.02 77.86,494.23 C77.29,494.43 76.58,494.53 76.06,494.64 C75.54,494.75 75.23,494.74 74.75,494.87 C74.27,495.00 73.52,495.21 73.19,495.42 C72.86,495.62 73.13,495.88 72.78,496.09 C72.44,496.30 71.58,496.59 71.12,496.69 C70.65,496.79 70.54,496.65 70.02,496.68 C69.50,496.71 68.57,496.70 68.01,496.86 C67.45,497.01 67.02,497.57 66.66,497.61 C66.29,497.65 66.30,497.16 65.84,497.12 C65.38,497.09 64.41,497.35 63.89,497.42 C63.38,497.48 63.23,497.66 62.77,497.52 C62.30,497.38 61.59,496.81 61.09,496.57 C60.59,496.33 60.16,496.26 59.77,496.09 C59.38,495.93 59.22,495.65 58.76,495.56 C58.30,495.46 57.45,495.65 57.00,495.55 C56.54,495.44 56.35,495.14 56.03,494.91 C55.71,494.68 55.48,494.49 55.07,494.17 C54.67,493.85 53.92,493.41 53.60,493.00 C53.29,492.58 53.43,491.96 53.19,491.67 C52.95,491.38 52.19,491.56 52.15,491.27Z" fill="none" stroke="#000" stroke-width="0.95" shape-rendering="crispEdges"/>
<path d="M58.18,489.77 C58.20,489.52 58.33,490.01 58.47,489.75 C58.61,489.49 58.95,488.60 59.00,488.23 C59.06,487.87 58.62,487.85 58.82,487.56 C59.02,487.26 59.88,486.81 60.21,486.46 C60.54,486.10 60.56,485.68 60.81,485.42 C61.05,485.17 61.48,484.92 61.68,484.92 C61.87,484.93 61.69,485.42 61.98,485.45 C62.26,485.48 62.98,485.24 63.38,485.09 C63.77,484.95 64.06,484.80 64.35,484.57 C64.65,484.34 64.91,483.92 65.16,483.73 C65.42,483.55 65.55,483.46 65.89,483.45 C66.23,483.45 66.88,483.80 67.19,483.69 C67.51,483.59 67.39,482.89 67.79,482.82 C68.19,482.74 69.18,483.27 69.61,483.25 C70.04,483.22 69.98,482.83 70.35,482.67 C70.72,482.51 71.47,482.41 71.85,482.28 C72.23,482.14 72.31,482.02 72.62,481.87 C72.93,481.72 73.26,481.41 73.72,481.40 C74.17,481.38 74.89,481.78 75.37,481.79 C75.86,481.80 76.22,481.49 76.62,481.46 C77.02,481.42 77.39,481.53 77.77,481.58 C78.15,481.64 78.37,481.68 78.92,481.79 C79.46,481.90 80.51,482.08 81.03,482.26 C81.54,482.44 81.64,482.80 81.99,482.88 C82.34,482.96 82.70,482.56 83.13,482.74 C83.55,482.93 84.15,483.62 84.56,483.98 C84.97,484.34 85.39,484.54 85.58,484.92 C85.76,485.30 85.83,485.89 85.66,486.27 C85.49,486.65 84.85,486.88 84.56,487.18 C84.26,487.48 84.19,487.68 83.90,488.06 C83.61,488.44 83.09,489.02 82.81,489.46 C82.53,489.91 82.64,490.46 82.24,490.73 C81.84,491.00 80.96,491.04 80.43,491.10 C79.89,491.17 79.38,490.89 79.04,491.13 C78.70,491.36 78.74,492.20 78.39,492.49 C78.04,492.78 77.26,492.83 76.96,492.88 C76.66,492.94 76.85,492.67 76.58,492.81 C76.30,492.95 75.75,493.53 75.32,493.72 C74.88,493.90 74.29,493.85 73.96,493.92 C73.62,493.99 73.57,494.02 73.32,494.16 C73.06,494.29 72.73,494.66 72.42,494.73 C72.11,494.80 71.93,494.62 71.47,494.56 C71.01,494.51 70.12,494.35 69.65,494.40 C69.18,494.45 68.92,494.87 68.67,494.86 C68.43,494.86 68.44,494.34 68.17,494.37 C67.90,494.40 67.47,494.97 67.06,495.05 C66.65,495.14 66.14,494.91 65.71,494.87 C65.28,494.83 64.90,494.84 64.50,494.80 C64.11,494.77 63.59,494.81 63.36,494.66 C63.13,494.51 63.42,494.06 63.12,493.91 C62.83,493.75 61.90,494.01 61.61,493.75 C61.32,493.50 61.60,492.59 61.39,492.38 C61.18,492.17 60.67,492.58 60.33,492.47 C59.99,492.36 59.70,491.91 59.37,491.70 C59.05,491.50 58.59,491.56 58.39,491.24 C58.20,490.91 58.17,490.02 58.18,489.77Z" fill="none" stroke="#000" stroke-width="0.95" shape-rendering="crispEdges"/>
<path d="M64.05,488.91 C64.06,488.79 64.14,488.61 64.08,488.42 C64.02,488.22 63.71,487.85 63.68,487.74 C63.66,487.62 63.70,487.96 63.94,487.72 C64.18,487.49 64.92,486.61 65.13,486.33 C65.34,486.04 65.18,486.12 65.19,486.00 C65.20,485.88 65.09,485.64 65.20,485.61 C65.31,485.57 65.69,485.91 65.85,485.80 C66.01,485.70 65.94,485.19 66.16,484.97 C66.38,484.76 66.88,484.54 67.18,484.52 C67.48,484.51 67.70,484.93 67.97,484.89 C68.24,484.84 68.64,484.35 68.80,484.27 C68.96,484.18 68.78,484.39 68.92,484.37 C69.06,484.35 69.39,484.23 69.64,484.17 C69.89,484.11 70.05,484.05 70.41,484.00 C70.77,483.95 71.40,483.97 71.81,483.86 C72.23,483.75 72.64,483.42 72.91,483.34 C73.17,483.27 73.09,483.47 73.38,483.41 C73.66,483.35 74.30,483.11 74.61,482.98 C74.92,482.84 74.99,482.61 75.22,482.63 C75.46,482.66 75.70,483.05 76.02,483.12 C76.34,483.19 76.70,483.03 77.15,483.07 C77.60,483.10 78.22,483.26 78.72,483.34 C79.22,483.42 79.81,483.56 80.15,483.57 C80.48,483.58 80.37,483.41 80.71,483.42 C81.06,483.43 81.83,483.48 82.23,483.63 C82.63,483.78 82.84,484.11 83.11,484.30 C83.37,484.49 83.71,484.49 83.82,484.79 C83.94,485.09 83.91,485.74 83.80,486.11 C83.69,486.49 83.33,486.67 83.18,487.03 C83.02,487.38 83.13,487.92 82.86,488.26 C82.60,488.61 82.00,488.90 81.60,489.08 C81.21,489.25 80.91,489.18 80.50,489.31 C80.09,489.44 79.42,489.60 79.14,489.86 C78.85,490.12 78.94,490.71 78.77,490.88 C78.60,491.05 78.33,490.83 78.10,490.87 C77.87,490.91 77.69,491.06 77.41,491.13 C77.14,491.20 76.74,491.15 76.43,491.31 C76.12,491.47 75.89,492.07 75.55,492.10 C75.21,492.12 74.63,491.49 74.37,491.47 C74.10,491.46 74.20,491.99 73.98,492.01 C73.75,492.04 73.29,491.60 73.02,491.62 C72.74,491.64 72.56,491.95 72.33,492.12 C72.10,492.29 71.84,492.55 71.65,492.62 C71.45,492.70 71.30,492.57 71.16,492.56 C71.01,492.55 71.01,492.57 70.77,492.56 C70.53,492.56 69.95,492.57 69.69,492.55 C69.42,492.52 69.38,492.52 69.18,492.43 C68.97,492.34 68.70,492.08 68.46,492.00 C68.22,491.93 67.93,492.00 67.75,491.97 C67.56,491.95 67.55,491.92 67.36,491.85 C67.17,491.78 66.84,491.68 66.60,491.54 C66.37,491.39 66.22,491.19 65.94,490.97 C65.65,490.75 65.08,490.31 64.88,490.21 C64.67,490.11 64.83,490.55 64.69,490.38 C64.55,490.21 64.15,489.42 64.05,489.18 C63.94,488.93 64.05,489.04 64.05,488.91Z" fill="none" stroke="#000" stroke-width="0.95" shape-rendering="crispEdges"/>
<path d="M69.76,487.95 C69.68,487.84 69.40,487.30 69.33,487.25 C69.26,487.20 69.36,487.70 69.36,487.65 C69.36,487.60 69.28,487.17 69.33,486.94 C69.39,486.71 69.63,486.28 69.70,486.27 C69.78,486.25 69.71,486.87 69.77,486.85 C69.83,486.82 70.01,486.24 70.09,486.13 C70.17,486.02 70.26,486.26 70.24,486.17 C70.22,486.07 69.85,485.70 69.95,485.59 C70.05,485.47 70.81,485.41 70.86,485.45 C70.92,485.49 70.26,485.88 70.28,485.84 C70.30,485.80 70.82,485.27 71.00,485.19 C71.17,485.12 71.25,485.39 71.31,485.37 C71.37,485.35 71.18,485.13 71.36,485.07 C71.54,485.02 72.20,485.09 72.39,485.01 C72.58,484.93 72.39,484.70 72.51,484.59 C72.63,484.47 72.90,484.36 73.10,484.33 C73.30,484.29 73.39,484.47 73.72,484.37 C74.05,484.28 74.85,483.78 75.10,483.77 C75.34,483.75 74.95,484.23 75.18,484.28 C75.41,484.34 76.23,484.11 76.48,484.08 C76.73,484.05 76.40,484.18 76.68,484.09 C76.97,484.00 77.79,483.54 78.18,483.54 C78.56,483.54 78.64,484.06 79.00,484.10 C79.37,484.13 80.01,483.76 80.35,483.75 C80.69,483.75 80.75,483.88 81.05,484.06 C81.34,484.25 81.89,484.55 82.15,484.85 C82.40,485.14 82.54,485.62 82.57,485.82 C82.61,486.03 82.44,485.91 82.34,486.05 C82.24,486.20 82.20,486.37 81.96,486.70 C81.71,487.03 81.17,487.71 80.88,488.04 C80.58,488.38 80.47,488.53 80.18,488.71 C79.90,488.89 79.38,489.07 79.16,489.12 C78.93,489.18 79.11,488.98 78.83,489.02 C78.55,489.05 77.74,489.31 77.46,489.34 C77.18,489.37 77.36,489.22 77.15,489.20 C76.95,489.19 76.42,489.11 76.24,489.27 C76.06,489.44 76.26,490.17 76.09,490.19 C75.92,490.21 75.34,489.39 75.20,489.39 C75.06,489.39 75.26,490.10 75.24,490.20 C75.22,490.31 75.29,490.01 75.10,490.01 C74.91,490.02 74.37,490.23 74.10,490.24 C73.83,490.26 73.65,490.17 73.49,490.09 C73.32,490.01 73.16,489.84 73.11,489.78 C73.06,489.72 73.28,489.77 73.18,489.73 C73.08,489.69 72.56,489.54 72.50,489.54 C72.45,489.54 72.87,489.75 72.83,489.73 C72.80,489.70 72.42,489.47 72.29,489.42 C72.16,489.37 72.17,489.37 72.04,489.45 C71.91,489.53 71.60,490.00 71.51,489.91 C71.43,489.82 71.62,488.97 71.53,488.91 C71.44,488.85 71.21,489.56 70.97,489.56 C70.74,489.55 70.28,488.94 70.13,488.88 C69.98,488.81 70.16,489.18 70.08,489.18 C70.00,489.18 69.70,489.11 69.65,488.90 C69.61,488.68 69.80,488.05 69.81,487.90 C69.83,487.74 69.84,488.06 69.76,487.95Z" fill="none" stroke="#000" stroke-width="0.95" shape-rendering="crispEdges"/>
<path d="M143.50,497.49 C143.73,496.99 144.02,496.16 144.74,495.91 C145.46,495.66 146.97,496.16 147.83,495.99 C148.68,495.81 149.18,495.14 149.88,494.88 C150.57,494.62 151.28,494.71 151.98,494.42 C152.69,494.12 153.44,493.42 154.13,493.11 C154.82,492.80 155.38,492.67 156.13,492.55 C156.88,492.44 157.81,492.64 158.63,492.42 C159.46,492.20 160.41,491.60 161.10,491.24 C161.78,490.87 162.18,490.57 162.75,490.24 C163.32,489.92 163.77,489.49 164.52,489.28 C165.26,489.08 166.42,489.04 167.23,489.02 C168.04,489.00 168.64,489.27 169.40,489.15 C170.17,489.02 171.10,488.61 171.82,488.28 C172.55,487.95 173.05,487.41 173.77,487.19 C174.49,486.96 175.34,486.87 176.16,486.95 C176.97,487.03 177.83,487.72 178.66,487.64 C179.50,487.57 180.31,486.61 181.15,486.49 C181.99,486.37 182.92,486.79 183.69,486.91 C184.47,487.02 185.08,487.09 185.82,487.17 C186.56,487.25 187.45,487.25 188.14,487.37 C188.84,487.49 189.23,487.81 189.99,487.91 C190.75,488.00 191.98,487.62 192.72,487.94 C193.46,488.26 193.96,489.29 194.42,489.83 C194.89,490.38 195.30,490.53 195.53,491.22 C195.77,491.91 195.81,493.15 195.82,493.96 C195.84,494.77 195.86,495.37 195.62,496.07 C195.37,496.77 194.64,497.55 194.35,498.16 C194.05,498.77 194.25,499.12 193.84,499.73 C193.42,500.34 192.48,501.33 191.86,501.83 C191.25,502.32 190.84,502.36 190.15,502.70 C189.45,503.04 188.34,503.48 187.71,503.87 C187.07,504.26 186.89,504.67 186.35,505.04 C185.81,505.42 185.14,505.78 184.47,506.12 C183.81,506.47 183.05,506.72 182.36,507.11 C181.66,507.51 181.07,508.14 180.29,508.49 C179.51,508.84 178.46,509.01 177.67,509.22 C176.89,509.43 176.38,509.70 175.59,509.75 C174.79,509.81 173.70,509.43 172.90,509.57 C172.11,509.71 171.53,510.54 170.82,510.60 C170.11,510.65 169.35,509.86 168.63,509.88 C167.92,509.90 167.26,510.69 166.54,510.71 C165.82,510.73 165.10,510.16 164.32,510.00 C163.53,509.84 162.64,509.77 161.82,509.74 C161.01,509.72 160.27,509.75 159.41,509.86 C158.54,509.97 157.49,510.43 156.62,510.40 C155.75,510.38 154.84,509.94 154.19,509.73 C153.54,509.52 153.46,509.16 152.71,509.13 C151.96,509.10 150.55,509.55 149.70,509.55 C148.86,509.55 148.43,509.30 147.63,509.13 C146.83,508.97 145.68,508.62 144.89,508.55 C144.10,508.48 143.23,508.99 142.90,508.70 C142.57,508.40 142.90,507.52 142.90,506.77 C142.90,506.03 142.90,505.11 142.90,504.21 C142.90,503.31 142.83,502.25 142.90,501.37 C142.97,500.49 143.24,499.59 143.34,498.94 C143.44,498.30 143.27,498.00 143.50,497.49Z" fill="none" stroke="#000" stroke-width="0.95" shape-rendering="crispEdges"/>
<path d="M147.49,497.58 C147.84,497.06 148.80,496.60 149.56,496.31 C150.32,496.03 151.52,496.01 152.07,495.88 C152.62,495.75 152.33,495.64 152.87,495.54 C153.42,495.44 154.71,495.52 155.33,495.29 C155.95,495.05 156.10,494.42 156.60,494.12 C157.10,493.83 157.61,493.69 158.34,493.53 C159.07,493.36 160.21,493.31 160.99,493.14 C161.77,492.98 162.38,492.75 163.02,492.54 C163.67,492.32 164.32,492.16 164.87,491.86 C165.43,491.55 165.75,490.97 166.36,490.70 C166.96,490.44 167.92,490.39 168.51,490.26 C169.09,490.14 169.16,490.13 169.86,489.94 C170.56,489.75 171.95,489.29 172.70,489.13 C173.45,488.96 173.78,489.09 174.38,488.96 C174.98,488.84 175.58,488.48 176.32,488.36 C177.07,488.24 178.16,488.28 178.85,488.26 C179.55,488.23 179.99,488.23 180.50,488.22 C181.00,488.20 181.29,488.24 181.88,488.16 C182.47,488.08 183.36,487.75 184.03,487.75 C184.71,487.74 185.27,487.95 185.93,488.16 C186.59,488.37 187.27,488.65 187.99,488.99 C188.71,489.33 189.52,489.81 190.25,490.20 C190.99,490.60 191.96,491.03 192.40,491.35 C192.84,491.68 192.75,491.65 192.88,492.15 C193.00,492.64 193.07,493.59 193.16,494.32 C193.25,495.04 193.51,495.93 193.41,496.49 C193.31,497.05 192.93,497.13 192.58,497.68 C192.23,498.22 191.83,499.28 191.31,499.77 C190.79,500.27 189.98,500.29 189.47,500.65 C188.97,501.01 188.71,501.50 188.29,501.94 C187.88,502.38 187.60,502.88 186.99,503.30 C186.38,503.71 185.31,504.10 184.63,504.44 C183.95,504.79 183.46,505.03 182.91,505.37 C182.36,505.71 181.96,506.14 181.34,506.50 C180.72,506.86 179.89,507.18 179.20,507.54 C178.50,507.90 177.71,508.43 177.18,508.65 C176.64,508.88 176.63,508.84 175.99,508.87 C175.35,508.90 174.09,508.90 173.33,508.84 C172.57,508.78 172.12,508.46 171.43,508.53 C170.74,508.59 169.96,509.17 169.21,509.22 C168.45,509.27 167.52,508.85 166.91,508.81 C166.31,508.77 166.18,508.87 165.58,508.97 C164.97,509.07 163.96,509.50 163.27,509.44 C162.57,509.37 161.96,508.74 161.39,508.59 C160.82,508.44 160.60,508.54 159.85,508.54 C159.09,508.53 157.66,508.70 156.85,508.59 C156.05,508.48 155.51,507.98 155.02,507.89 C154.53,507.79 154.58,508.07 153.93,508.01 C153.27,507.95 151.83,507.64 151.11,507.53 C150.40,507.43 150.24,507.42 149.64,507.38 C149.04,507.34 147.91,507.69 147.52,507.31 C147.12,506.92 147.27,505.65 147.28,505.06 C147.30,504.48 147.61,504.37 147.62,503.79 C147.62,503.22 147.33,502.34 147.31,501.61 C147.28,500.88 147.43,500.10 147.47,499.42 C147.50,498.75 147.14,498.10 147.49,497.58Z" fill="none" stroke="#000" stroke-width="0.95" shape-rendering="crispEdges"/>
<path d="M152.29,497.67 C152.66,497.24 153.73,497.35 154.17,497.13 C154.62,496.91 154.59,496.43 154.96,496.36 C155.34,496.28 155.82,496.70 156.41,496.68 C157.00,496.65 157.90,496.56 158.51,496.20 C159.12,495.85 159.55,494.79 160.06,494.55 C160.56,494.31 161.01,494.87 161.53,494.75 C162.04,494.63 162.67,494.08 163.13,493.82 C163.59,493.57 163.75,493.45 164.29,493.22 C164.84,492.99 165.81,492.63 166.37,492.45 C166.94,492.26 167.12,492.19 167.70,492.11 C168.27,492.03 169.19,492.07 169.83,491.98 C170.46,491.89 171.05,491.83 171.50,491.58 C171.95,491.33 172.03,490.73 172.53,490.49 C173.03,490.24 173.88,490.15 174.49,490.11 C175.10,490.07 175.52,490.30 176.19,490.28 C176.86,490.25 177.85,490.14 178.52,489.97 C179.19,489.79 179.70,489.23 180.19,489.25 C180.68,489.26 180.98,490.03 181.44,490.08 C181.91,490.13 182.44,489.67 182.97,489.57 C183.51,489.47 183.92,489.28 184.63,489.48 C185.35,489.68 186.60,490.59 187.26,490.77 C187.91,490.95 188.15,490.40 188.54,490.55 C188.93,490.70 189.18,491.19 189.60,491.66 C190.03,492.13 190.84,492.82 191.09,493.37 C191.34,493.92 191.18,494.39 191.10,494.93 C191.02,495.47 190.68,496.05 190.63,496.63 C190.58,497.21 191.07,497.90 190.81,498.42 C190.55,498.94 189.43,499.35 189.06,499.73 C188.69,500.11 188.86,500.32 188.58,500.69 C188.31,501.07 187.88,501.61 187.41,501.99 C186.94,502.38 186.24,502.60 185.77,503.02 C185.31,503.44 185.16,504.25 184.62,504.52 C184.07,504.79 183.17,504.50 182.52,504.63 C181.86,504.76 181.25,504.89 180.69,505.28 C180.13,505.67 179.77,506.64 179.15,506.97 C178.53,507.30 177.59,507.18 176.98,507.28 C176.38,507.37 176.03,507.36 175.52,507.53 C175.00,507.70 174.49,508.24 173.92,508.31 C173.34,508.38 172.64,508.01 172.08,507.95 C171.52,507.88 171.15,507.86 170.56,507.92 C169.97,507.97 169.18,508.22 168.55,508.29 C167.93,508.36 167.49,508.41 166.83,508.35 C166.16,508.28 165.16,508.01 164.54,507.92 C163.91,507.83 163.49,507.85 163.08,507.80 C162.67,507.74 162.70,507.70 162.10,507.58 C161.49,507.47 160.02,507.15 159.45,507.10 C158.88,507.05 159.06,507.31 158.66,507.28 C158.26,507.25 157.69,507.00 157.05,506.93 C156.41,506.86 155.32,506.95 154.82,506.84 C154.33,506.73 154.43,506.36 154.09,506.28 C153.74,506.21 153.15,506.67 152.77,506.41 C152.38,506.15 151.84,505.40 151.80,504.72 C151.77,504.05 152.42,502.98 152.54,502.38 C152.67,501.78 152.64,501.58 152.55,501.13 C152.46,500.69 152.04,500.28 152.00,499.70 C151.96,499.13 151.93,498.10 152.29,497.67Z" fill="none" stroke="#000" stroke-width="0.95" shape-rendering="crispEdges"/>
<path d="M156.59,498.18 C156.75,497.88 157.58,497.56 158.03,497.40 C158.48,497.25 158.96,497.25 159.30,497.25 C159.64,497.24 159.75,497.63 160.04,497.39 C160.33,497.16 160.60,496.03 161.03,495.83 C161.47,495.63 162.15,496.26 162.65,496.22 C163.15,496.18 163.62,495.80 164.02,495.59 C164.42,495.38 164.69,495.22 165.05,494.96 C165.40,494.70 165.71,494.30 166.14,494.02 C166.57,493.73 167.23,493.33 167.62,493.25 C168.01,493.18 168.09,493.57 168.49,493.55 C168.88,493.52 169.37,493.30 169.97,493.10 C170.57,492.89 171.49,492.44 172.07,492.32 C172.64,492.19 172.90,492.52 173.41,492.35 C173.92,492.18 174.70,491.45 175.11,491.27 C175.52,491.09 175.42,491.32 175.86,491.27 C176.30,491.23 177.25,491.02 177.73,491.00 C178.21,490.97 178.16,491.17 178.76,491.14 C179.36,491.11 180.71,490.85 181.31,490.82 C181.91,490.79 181.94,490.80 182.34,490.95 C182.74,491.11 183.27,491.60 183.71,491.74 C184.16,491.88 184.53,491.69 184.99,491.78 C185.46,491.87 185.97,492.14 186.50,492.28 C187.03,492.43 187.77,492.36 188.19,492.63 C188.60,492.90 188.84,493.37 188.99,493.92 C189.13,494.47 189.06,495.42 189.06,495.92 C189.07,496.41 189.08,496.57 189.01,496.90 C188.95,497.22 188.86,497.44 188.65,497.88 C188.44,498.33 188.09,499.02 187.77,499.56 C187.44,500.11 187.02,500.77 186.71,501.15 C186.40,501.53 186.31,501.65 185.88,501.85 C185.45,502.06 184.61,502.13 184.14,502.38 C183.66,502.62 183.48,502.92 183.03,503.33 C182.58,503.75 181.97,504.52 181.42,504.86 C180.88,505.21 180.25,505.29 179.77,505.41 C179.29,505.52 179.02,505.49 178.55,505.57 C178.09,505.64 177.47,505.74 176.97,505.86 C176.47,505.98 176.06,506.16 175.54,506.28 C175.03,506.41 174.36,506.41 173.90,506.59 C173.44,506.78 173.32,507.31 172.79,507.40 C172.27,507.50 171.25,507.27 170.74,507.16 C170.24,507.06 170.33,506.90 169.78,506.79 C169.22,506.68 168.01,506.51 167.39,506.51 C166.78,506.51 166.50,506.84 166.09,506.80 C165.69,506.75 165.29,506.39 164.97,506.24 C164.64,506.09 164.49,505.93 164.15,505.90 C163.81,505.87 163.41,506.03 162.93,506.05 C162.45,506.06 161.76,506.02 161.28,505.97 C160.80,505.93 160.34,505.91 160.05,505.76 C159.75,505.62 159.85,505.18 159.54,505.13 C159.22,505.07 158.55,505.44 158.14,505.43 C157.73,505.41 157.23,505.28 157.07,505.03 C156.90,504.78 157.14,504.34 157.14,503.94 C157.13,503.53 157.12,503.14 157.02,502.63 C156.93,502.12 156.56,501.44 156.56,500.88 C156.57,500.32 157.06,499.70 157.06,499.25 C157.07,498.80 156.43,498.49 156.59,498.18Z" fill="none" stroke="#000" stroke-width="0.95" shape-rendering="crispEdges"/>
<path d="M161.17,498.03 C161.37,497.78 162.29,497.89 162.57,497.92 C162.84,497.95 162.70,498.19 162.82,498.19 C162.95,498.20 163.10,498.22 163.30,497.94 C163.51,497.65 163.75,496.75 164.06,496.50 C164.37,496.24 164.72,496.41 165.15,496.42 C165.59,496.43 166.28,496.68 166.66,496.54 C167.03,496.40 167.16,495.85 167.41,495.59 C167.65,495.32 167.79,495.09 168.13,494.93 C168.47,494.78 169.16,494.74 169.46,494.66 C169.76,494.59 169.68,494.64 169.92,494.49 C170.16,494.33 170.39,493.95 170.88,493.73 C171.38,493.50 172.51,493.26 172.91,493.11 C173.30,492.97 172.98,492.94 173.26,492.88 C173.55,492.83 174.20,492.87 174.64,492.80 C175.08,492.73 175.49,492.58 175.92,492.48 C176.35,492.38 176.72,492.25 177.22,492.21 C177.72,492.16 178.46,492.13 178.91,492.20 C179.36,492.27 179.58,492.64 179.90,492.61 C180.22,492.58 180.31,492.04 180.81,492.03 C181.31,492.03 182.38,492.49 182.91,492.57 C183.44,492.65 183.68,492.31 183.99,492.51 C184.30,492.72 184.53,493.51 184.79,493.83 C185.06,494.16 185.28,494.29 185.58,494.47 C185.88,494.65 186.33,494.65 186.62,494.93 C186.91,495.20 187.30,495.68 187.32,496.12 C187.34,496.55 186.93,497.09 186.73,497.55 C186.54,498.01 186.29,498.52 186.16,498.88 C186.03,499.25 186.12,499.38 185.95,499.75 C185.78,500.12 185.35,500.77 185.15,501.11 C184.95,501.45 185.08,501.60 184.75,501.77 C184.42,501.95 183.61,502.01 183.17,502.15 C182.74,502.28 182.61,502.23 182.16,502.58 C181.72,502.94 181.00,503.91 180.51,504.28 C180.03,504.66 179.59,504.66 179.26,504.84 C178.93,505.03 179.00,505.33 178.54,505.39 C178.09,505.45 176.98,505.26 176.55,505.22 C176.13,505.19 176.43,505.10 175.97,505.19 C175.51,505.27 174.37,505.65 173.79,505.72 C173.21,505.78 172.83,505.60 172.48,505.57 C172.13,505.54 171.99,505.45 171.70,505.53 C171.42,505.62 171.30,505.97 170.78,506.07 C170.26,506.18 169.08,506.25 168.56,506.15 C168.04,506.05 167.92,505.68 167.65,505.47 C167.39,505.25 167.26,505.01 166.98,504.86 C166.69,504.70 166.33,504.49 165.96,504.54 C165.58,504.60 164.95,505.20 164.71,505.19 C164.48,505.18 164.73,504.57 164.54,504.47 C164.34,504.38 163.95,504.69 163.56,504.60 C163.16,504.51 162.53,504.16 162.16,503.95 C161.80,503.75 161.64,503.47 161.38,503.35 C161.11,503.24 160.74,503.46 160.59,503.28 C160.43,503.10 160.42,502.55 160.46,502.28 C160.51,502.01 160.68,501.89 160.84,501.66 C161.00,501.44 161.34,501.29 161.43,500.91 C161.52,500.54 161.43,499.91 161.39,499.43 C161.34,498.95 160.98,498.28 161.17,498.03Z" fill="none" stroke="#000" stroke-width="0.95" shape-rendering="crispEdges"/>
<path d="M166.05,498.34 C166.14,498.22 165.50,498.90 165.59,498.83 C165.68,498.76 166.41,498.10 166.61,497.92 C166.81,497.74 166.67,497.82 166.80,497.76 C166.92,497.70 167.18,497.60 167.36,497.57 C167.54,497.55 167.60,497.72 167.86,497.63 C168.12,497.53 168.68,497.22 168.89,497.00 C169.11,496.78 168.94,496.36 169.14,496.31 C169.35,496.26 169.94,496.76 170.13,496.71 C170.32,496.66 170.03,496.20 170.27,496.01 C170.51,495.82 171.34,495.73 171.58,495.57 C171.82,495.42 171.49,495.30 171.69,495.09 C171.90,494.89 172.38,494.46 172.79,494.36 C173.21,494.27 173.77,494.54 174.18,494.55 C174.59,494.55 174.88,494.49 175.25,494.37 C175.62,494.26 176.14,493.92 176.38,493.87 C176.63,493.82 176.35,494.03 176.73,494.06 C177.10,494.09 178.19,494.20 178.63,494.05 C179.08,493.90 179.17,493.27 179.39,493.16 C179.61,493.04 179.62,493.19 179.95,493.34 C180.29,493.48 181.11,493.79 181.42,494.02 C181.73,494.25 181.46,494.54 181.82,494.72 C182.17,494.90 183.22,495.05 183.54,495.10 C183.86,495.15 183.66,494.82 183.74,495.02 C183.83,495.22 183.85,496.04 184.04,496.31 C184.22,496.58 184.68,496.37 184.86,496.64 C185.04,496.90 185.21,497.57 185.12,497.90 C185.04,498.22 184.48,498.32 184.35,498.60 C184.21,498.88 184.41,499.35 184.31,499.58 C184.20,499.81 183.91,499.76 183.71,499.97 C183.51,500.19 183.29,500.59 183.10,500.84 C182.91,501.09 182.90,501.21 182.55,501.50 C182.20,501.79 181.42,502.30 181.01,502.57 C180.61,502.85 180.34,503.02 180.10,503.15 C179.87,503.27 179.91,503.13 179.61,503.34 C179.31,503.54 178.71,504.17 178.31,504.36 C177.90,504.56 177.63,504.45 177.18,504.49 C176.74,504.54 176.10,504.60 175.65,504.63 C175.19,504.66 174.90,504.61 174.46,504.67 C174.01,504.72 173.40,504.92 172.98,504.96 C172.55,505.00 172.17,504.98 171.89,504.92 C171.61,504.87 171.63,504.66 171.30,504.63 C170.97,504.60 170.15,504.83 169.91,504.74 C169.66,504.64 170.01,504.14 169.84,504.07 C169.66,503.99 169.07,504.29 168.84,504.29 C168.62,504.28 168.76,504.23 168.50,504.06 C168.24,503.88 167.48,503.40 167.28,503.24 C167.09,503.07 167.56,503.03 167.34,503.06 C167.12,503.09 166.23,503.51 165.96,503.43 C165.69,503.35 165.81,502.78 165.72,502.60 C165.63,502.42 165.48,502.40 165.44,502.35 C165.40,502.29 165.54,502.39 165.48,502.27 C165.43,502.15 165.10,501.94 165.11,501.63 C165.13,501.33 165.53,500.74 165.57,500.43 C165.61,500.12 165.46,499.93 165.37,499.79 C165.28,499.64 164.92,499.80 165.03,499.56 C165.15,499.32 165.96,498.46 166.05,498.34Z" fill="none" stroke="#000" stroke-width="0.95" shape-rendering="crispEdges"/>
<path d="M169.76,498.56 C169.81,498.62 170.00,499.32 170.08,499.34 C170.16,499.37 170.17,498.77 170.25,498.71 C170.33,498.65 170.59,499.10 170.55,498.99 C170.51,498.88 169.92,498.15 170.02,498.07 C170.11,497.99 171.04,498.51 171.14,498.50 C171.23,498.48 170.49,498.12 170.57,497.96 C170.66,497.80 171.43,497.67 171.64,497.53 C171.85,497.40 171.80,497.33 171.82,497.15 C171.84,496.98 171.71,496.57 171.75,496.48 C171.80,496.40 171.92,496.68 172.09,496.65 C172.25,496.61 172.49,496.43 172.75,496.28 C173.02,496.13 173.30,495.91 173.69,495.77 C174.07,495.63 174.78,495.54 175.05,495.44 C175.32,495.35 175.16,495.29 175.29,495.19 C175.41,495.09 175.53,494.81 175.81,494.84 C176.10,494.87 176.74,495.27 176.99,495.38 C177.24,495.49 177.03,495.62 177.32,495.48 C177.60,495.33 178.35,494.60 178.71,494.52 C179.08,494.44 179.29,494.95 179.51,495.00 C179.73,495.06 179.84,494.76 180.03,494.85 C180.22,494.94 180.39,495.36 180.65,495.55 C180.91,495.73 181.34,495.79 181.57,495.96 C181.80,496.13 181.98,496.52 182.04,496.59 C182.09,496.65 181.84,496.25 181.91,496.34 C181.99,496.42 182.43,496.84 182.48,497.12 C182.53,497.40 182.19,497.71 182.20,498.03 C182.22,498.34 182.52,498.66 182.57,499.01 C182.61,499.35 182.62,499.88 182.45,500.09 C182.27,500.30 181.75,500.12 181.52,500.27 C181.29,500.42 181.19,500.85 181.08,500.97 C180.98,501.09 181.07,500.79 180.90,500.99 C180.73,501.19 180.29,501.83 180.05,502.16 C179.81,502.49 179.73,502.88 179.47,502.99 C179.20,503.09 178.68,502.71 178.46,502.79 C178.24,502.88 178.50,503.28 178.14,503.48 C177.77,503.68 176.71,503.83 176.28,503.98 C175.86,504.13 175.83,504.31 175.60,504.37 C175.37,504.43 175.13,504.39 174.90,504.33 C174.67,504.27 174.47,504.17 174.23,504.02 C173.99,503.86 173.82,503.38 173.45,503.40 C173.08,503.43 172.42,504.09 172.00,504.14 C171.59,504.19 171.04,503.83 170.95,503.72 C170.86,503.61 171.50,503.70 171.49,503.49 C171.49,503.29 171.13,502.62 170.92,502.50 C170.71,502.39 170.42,502.84 170.25,502.81 C170.07,502.77 169.90,502.48 169.88,502.30 C169.85,502.12 170.21,501.80 170.08,501.74 C169.96,501.68 169.14,501.92 169.13,501.96 C169.13,502.01 169.97,502.12 170.06,502.00 C170.15,501.88 169.71,501.43 169.68,501.23 C169.65,501.03 169.99,500.80 169.90,500.79 C169.81,500.78 169.13,501.26 169.13,501.17 C169.12,501.09 169.72,500.56 169.86,500.28 C170.01,500.00 169.99,499.71 169.98,499.49 C169.96,499.28 169.83,499.15 169.79,498.99 C169.76,498.83 169.71,498.50 169.76,498.56Z" fill="none" stroke="#000" stroke-width="0.95" shape-rendering="crispEdges"/>
<circle cx="196.7" cy="493.7" r="0.55" fill="#222"/>
<circle cx="197.9" cy="491.7" r="0.55" fill="#222"/>
<circle cx="196.9" cy="496.2" r="0.55" fill="#222"/>
<circle cx="198.0" cy="490.6" r="0.55" fill="#222"/>
<circle cx="198.0" cy="495.0" r="0.55" fill="#222"/>
<circle cx="197.5" cy="495.2" r="0.55" fill="#222"/>
<path d="M269.30,502.04 C269.54,501.69 270.43,502.05 271.12,501.97 C271.81,501.90 272.80,501.61 273.42,501.60 C274.05,501.59 274.24,501.94 274.86,501.94 C275.48,501.94 276.31,501.66 277.16,501.60 C278.00,501.54 279.16,501.60 279.94,501.60 C280.72,501.60 281.21,501.60 281.83,501.60 C282.46,501.60 283.04,501.59 283.69,501.60 C284.34,501.61 285.07,501.63 285.74,501.63 C286.41,501.63 286.99,501.61 287.68,501.60 C288.37,501.59 289.16,501.60 289.88,501.60 C290.61,501.60 291.40,501.60 292.02,501.60 C292.65,501.60 292.92,501.60 293.62,501.60 C294.32,501.60 295.48,501.59 296.24,501.60 C296.99,501.61 297.48,501.64 298.14,501.67 C298.80,501.70 299.56,501.77 300.19,501.78 C300.82,501.79 301.29,501.70 301.92,501.73 C302.56,501.75 303.26,501.95 304.03,501.93 C304.79,501.91 305.89,501.66 306.51,501.60 C307.14,501.54 307.11,501.49 307.79,501.60 C308.48,501.71 309.86,502.11 310.61,502.29 C311.35,502.47 311.97,502.32 312.26,502.68 C312.54,503.03 312.39,503.76 312.31,504.42 C312.23,505.08 311.88,505.88 311.77,506.64 C311.65,507.40 311.80,508.29 311.61,508.97 C311.42,509.66 310.94,510.14 310.62,510.73 C310.29,511.31 310.03,512.06 309.65,512.50 C309.27,512.94 308.71,512.82 308.33,513.38 C307.94,513.94 307.71,515.25 307.34,515.86 C306.96,516.47 306.53,516.64 306.07,517.04 C305.61,517.45 305.02,517.74 304.57,518.27 C304.12,518.79 303.91,519.74 303.38,520.21 C302.85,520.68 301.95,520.68 301.39,521.08 C300.82,521.48 300.68,522.28 299.99,522.59 C299.30,522.91 297.98,522.93 297.25,522.99 C296.52,523.04 296.24,522.79 295.61,522.92 C294.98,523.06 294.09,523.80 293.49,523.81 C292.89,523.81 292.65,523.11 292.02,522.94 C291.39,522.77 290.42,522.80 289.71,522.80 C289.00,522.80 288.40,522.84 287.77,522.94 C287.13,523.04 286.60,523.37 285.89,523.39 C285.18,523.40 284.26,523.30 283.50,523.01 C282.73,522.73 281.94,522.00 281.28,521.70 C280.63,521.41 280.25,521.35 279.56,521.27 C278.87,521.19 277.81,521.37 277.14,521.25 C276.47,521.12 276.25,520.61 275.56,520.53 C274.86,520.45 273.70,520.79 272.99,520.77 C272.27,520.75 271.60,520.85 271.26,520.39 C270.92,519.94 271.21,518.71 270.95,518.03 C270.69,517.34 269.97,516.89 269.70,516.28 C269.43,515.68 269.41,515.07 269.34,514.42 C269.28,513.77 269.25,513.09 269.30,512.39 C269.35,511.69 269.64,510.89 269.64,510.22 C269.64,509.55 269.36,509.10 269.30,508.38 C269.24,507.66 269.24,506.63 269.30,505.91 C269.36,505.19 269.68,504.72 269.68,504.07 C269.68,503.43 269.06,502.39 269.30,502.04Z" fill="none" stroke="#000" stroke-width="0.95" shape-rendering="crispEdges"/>
<path d="M273.40,502.48 C273.68,502.14 274.46,502.86 274.93,502.92 C275.40,502.98 275.61,502.96 276.20,502.83 C276.79,502.70 277.83,502.21 278.48,502.14 C279.14,502.07 279.59,502.41 280.16,502.41 C280.73,502.42 281.32,502.15 281.90,502.16 C282.47,502.17 283.16,502.55 283.62,502.48 C284.08,502.41 284.08,501.74 284.64,501.76 C285.21,501.78 286.40,502.56 287.02,502.61 C287.63,502.66 287.77,502.18 288.34,502.06 C288.91,501.93 289.83,501.91 290.44,501.87 C291.06,501.83 291.44,501.79 292.01,501.82 C292.57,501.85 293.23,502.06 293.82,502.07 C294.42,502.07 294.90,501.93 295.58,501.85 C296.25,501.78 297.22,501.52 297.87,501.60 C298.53,501.68 298.96,502.29 299.49,502.34 C300.01,502.39 300.39,501.96 301.03,501.91 C301.66,501.86 302.73,501.95 303.29,502.02 C303.86,502.08 303.86,502.27 304.42,502.31 C304.98,502.35 306.05,502.13 306.64,502.23 C307.22,502.34 307.36,502.73 307.93,502.94 C308.51,503.16 309.69,503.23 310.09,503.52 C310.49,503.81 310.41,504.11 310.32,504.68 C310.22,505.24 309.62,506.27 309.52,506.89 C309.43,507.52 309.97,507.99 309.74,508.45 C309.51,508.90 308.53,509.17 308.14,509.62 C307.76,510.07 307.68,510.56 307.43,511.17 C307.18,511.78 307.08,512.78 306.67,513.27 C306.26,513.77 305.34,513.70 304.97,514.13 C304.59,514.55 304.70,515.36 304.42,515.81 C304.13,516.25 303.75,516.44 303.25,516.81 C302.76,517.19 301.83,517.66 301.43,518.05 C301.03,518.44 301.30,518.86 300.85,519.15 C300.41,519.44 299.36,519.60 298.74,519.78 C298.13,519.96 297.62,520.14 297.16,520.25 C296.70,520.37 296.63,520.27 296.01,520.47 C295.38,520.68 293.98,521.32 293.41,521.48 C292.84,521.63 293.07,521.45 292.56,521.41 C292.06,521.37 290.96,521.42 290.40,521.26 C289.83,521.09 289.69,520.48 289.17,520.41 C288.65,520.34 287.89,520.89 287.27,520.85 C286.66,520.82 286.14,520.40 285.50,520.21 C284.85,520.02 284.06,519.89 283.43,519.71 C282.79,519.53 282.19,519.23 281.67,519.11 C281.16,518.99 280.81,519.11 280.35,518.99 C279.89,518.86 279.41,518.41 278.90,518.34 C278.40,518.28 277.87,518.58 277.34,518.59 C276.80,518.60 276.11,518.72 275.70,518.39 C275.29,518.06 275.29,517.13 274.88,516.60 C274.48,516.06 273.60,515.77 273.27,515.19 C272.95,514.62 272.92,513.72 272.94,513.12 C272.96,512.53 273.36,512.10 273.39,511.63 C273.42,511.16 273.13,510.92 273.12,510.31 C273.11,509.70 273.34,508.57 273.32,507.98 C273.30,507.39 273.00,507.27 272.99,506.77 C272.99,506.26 273.20,505.68 273.27,504.96 C273.34,504.25 273.13,502.82 273.40,502.48Z" fill="none" stroke="#000" stroke-width="0.95" shape-rendering="crispEdges"/>
<path d="M277.36,503.63 C277.56,503.45 278.42,504.07 278.82,504.13 C279.21,504.19 279.24,504.02 279.74,503.98 C280.23,503.94 281.24,504.04 281.78,503.86 C282.32,503.69 282.60,502.97 282.99,502.93 C283.38,502.89 283.80,503.64 284.12,503.64 C284.43,503.65 284.49,503.05 284.88,502.96 C285.27,502.88 285.93,503.14 286.46,503.15 C286.98,503.15 287.45,503.13 288.00,503.01 C288.56,502.90 289.37,502.54 289.79,502.46 C290.21,502.37 290.15,502.51 290.55,502.50 C290.94,502.48 291.47,502.27 292.14,502.37 C292.81,502.47 294.04,503.03 294.56,503.09 C295.08,503.15 294.84,502.81 295.27,502.73 C295.69,502.64 296.52,502.54 297.10,502.59 C297.67,502.63 298.15,502.96 298.71,502.99 C299.28,503.03 300.01,502.83 300.49,502.81 C300.97,502.79 301.17,502.82 301.58,502.89 C301.99,502.96 302.39,503.17 302.95,503.24 C303.51,503.31 304.48,503.27 304.94,503.32 C305.39,503.37 305.27,503.37 305.65,503.55 C306.04,503.73 306.88,504.10 307.26,504.40 C307.63,504.70 307.82,504.91 307.90,505.35 C307.99,505.80 307.89,506.57 307.76,507.06 C307.63,507.55 307.35,507.82 307.12,508.29 C306.89,508.77 306.68,509.43 306.40,509.90 C306.12,510.38 305.74,510.81 305.43,511.14 C305.11,511.47 304.83,511.51 304.53,511.90 C304.22,512.29 304.02,513.10 303.62,513.50 C303.22,513.89 302.48,513.90 302.12,514.28 C301.76,514.66 301.65,515.43 301.46,515.76 C301.28,516.09 301.25,515.96 300.99,516.25 C300.73,516.55 300.42,517.31 299.91,517.53 C299.40,517.76 298.50,517.46 297.92,517.59 C297.35,517.72 296.82,518.12 296.44,518.31 C296.06,518.50 295.97,518.69 295.64,518.75 C295.30,518.82 294.85,518.74 294.41,518.70 C293.96,518.66 293.54,518.55 292.96,518.51 C292.38,518.47 291.52,518.55 290.93,518.45 C290.35,518.35 289.79,518.04 289.44,517.91 C289.09,517.78 289.27,517.75 288.82,517.67 C288.38,517.60 287.21,517.54 286.76,517.47 C286.32,517.41 286.65,517.25 286.18,517.29 C285.71,517.32 284.54,517.66 283.96,517.68 C283.38,517.70 283.04,517.50 282.70,517.40 C282.36,517.30 282.22,517.22 281.92,517.06 C281.61,516.91 281.29,516.72 280.87,516.47 C280.45,516.22 279.77,515.85 279.40,515.59 C279.04,515.33 278.92,515.29 278.68,514.90 C278.45,514.51 278.18,513.60 278.00,513.24 C277.81,512.88 277.78,513.18 277.58,512.76 C277.39,512.35 276.86,511.24 276.81,510.76 C276.76,510.28 277.25,510.35 277.27,509.85 C277.30,509.36 277.00,508.30 276.96,507.79 C276.92,507.28 276.92,507.25 277.03,506.82 C277.15,506.38 277.58,505.73 277.64,505.20 C277.69,504.67 277.17,503.81 277.36,503.63Z" fill="none" stroke="#000" stroke-width="0.95" shape-rendering="crispEdges"/>
<path d="M281.53,504.80 C281.73,504.55 282.15,504.73 282.40,504.70 C282.65,504.68 282.62,504.71 283.03,504.66 C283.44,504.62 284.42,504.55 284.83,504.45 C285.25,504.35 285.27,504.05 285.54,504.06 C285.81,504.07 286.14,504.49 286.45,504.51 C286.76,504.53 287.12,504.22 287.41,504.16 C287.71,504.11 287.86,504.28 288.24,504.18 C288.62,504.08 289.42,503.60 289.72,503.57 C290.02,503.55 289.65,504.03 290.04,504.06 C290.43,504.08 291.58,503.75 292.05,503.71 C292.51,503.67 292.53,503.88 292.84,503.80 C293.15,503.73 293.50,503.31 293.90,503.27 C294.31,503.23 294.80,503.57 295.28,503.56 C295.76,503.56 296.24,503.16 296.77,503.24 C297.31,503.32 298.06,503.93 298.50,504.04 C298.93,504.16 299.02,503.89 299.39,503.91 C299.76,503.94 300.27,504.23 300.71,504.20 C301.15,504.18 301.67,503.84 302.01,503.77 C302.34,503.69 302.38,503.65 302.72,503.77 C303.05,503.89 303.69,504.33 304.02,504.51 C304.35,504.69 304.51,504.58 304.69,504.86 C304.87,505.15 305.07,505.76 305.10,506.22 C305.13,506.68 304.89,507.24 304.88,507.62 C304.86,507.99 305.09,508.09 305.00,508.44 C304.91,508.80 304.53,509.39 304.35,509.73 C304.18,510.07 304.20,510.16 303.93,510.47 C303.67,510.78 303.03,511.31 302.75,511.60 C302.47,511.88 302.51,511.84 302.25,512.16 C302.00,512.48 301.59,513.28 301.23,513.50 C300.87,513.73 300.46,513.32 300.10,513.52 C299.73,513.72 299.28,514.38 299.04,514.72 C298.80,515.06 298.86,515.50 298.65,515.57 C298.44,515.63 298.21,515.15 297.78,515.13 C297.35,515.10 296.53,515.25 296.08,515.41 C295.62,515.57 295.28,515.94 295.05,516.11 C294.82,516.28 295.02,516.39 294.68,516.43 C294.35,516.47 293.46,516.44 293.02,516.34 C292.57,516.24 292.29,515.99 292.01,515.84 C291.73,515.69 291.75,515.39 291.36,515.43 C290.97,515.47 290.09,516.08 289.66,516.07 C289.24,516.07 289.08,515.50 288.81,515.41 C288.54,515.32 288.44,515.60 288.04,515.53 C287.65,515.45 286.80,515.08 286.43,514.97 C286.06,514.87 286.14,514.94 285.84,514.90 C285.53,514.86 284.85,514.84 284.60,514.74 C284.36,514.63 284.63,514.44 284.36,514.28 C284.09,514.11 283.35,513.87 282.98,513.73 C282.61,513.59 282.38,513.59 282.12,513.42 C281.86,513.25 281.46,513.12 281.41,512.71 C281.36,512.29 281.76,511.36 281.81,510.93 C281.86,510.50 281.77,510.39 281.72,510.14 C281.66,509.90 281.60,509.75 281.49,509.44 C281.37,509.13 281.03,508.62 281.03,508.26 C281.03,507.91 281.44,507.65 281.48,507.30 C281.51,506.96 281.23,506.60 281.24,506.19 C281.25,505.77 281.34,505.04 281.53,504.80Z" fill="none" stroke="#000" stroke-width="0.95" shape-rendering="crispEdges"/>
<path d="M286.28,506.04 C286.35,505.82 286.26,505.46 286.35,505.37 C286.44,505.28 286.62,505.44 286.82,505.49 C287.03,505.55 287.39,505.77 287.58,505.69 C287.78,505.62 287.81,505.11 288.00,505.06 C288.18,505.00 288.54,505.29 288.67,505.36 C288.81,505.43 288.62,505.61 288.83,505.48 C289.05,505.36 289.62,504.75 289.98,504.58 C290.34,504.41 290.78,504.40 290.99,504.45 C291.19,504.50 290.97,504.86 291.20,504.88 C291.43,504.90 292.00,504.66 292.37,504.56 C292.74,504.47 293.12,504.43 293.42,504.33 C293.72,504.23 293.89,503.93 294.16,503.95 C294.44,503.97 294.60,504.38 295.05,504.44 C295.51,504.50 296.40,504.33 296.89,504.29 C297.38,504.25 297.71,504.18 297.99,504.19 C298.26,504.20 298.20,504.35 298.54,504.35 C298.89,504.35 299.74,504.14 300.07,504.17 C300.40,504.21 300.28,504.44 300.52,504.56 C300.77,504.68 301.33,504.78 301.55,504.91 C301.77,505.03 301.65,505.11 301.84,505.29 C302.03,505.47 302.52,505.74 302.68,505.99 C302.84,506.23 302.80,506.58 302.79,506.76 C302.78,506.94 302.67,506.90 302.62,507.09 C302.56,507.27 302.45,507.51 302.45,507.88 C302.46,508.26 302.82,509.04 302.65,509.32 C302.47,509.61 301.70,509.32 301.40,509.57 C301.11,509.82 301.04,510.52 300.89,510.84 C300.74,511.15 300.74,511.37 300.52,511.46 C300.29,511.55 299.85,511.31 299.53,511.38 C299.21,511.45 298.86,511.67 298.62,511.89 C298.38,512.11 298.34,512.55 298.09,512.69 C297.84,512.83 297.32,512.72 297.13,512.72 C296.94,512.72 297.12,512.51 296.97,512.68 C296.83,512.84 296.48,513.59 296.27,513.70 C296.05,513.81 295.98,513.35 295.70,513.34 C295.42,513.32 294.88,513.50 294.59,513.61 C294.29,513.72 294.16,514.04 293.93,513.98 C293.71,513.92 293.46,513.36 293.25,513.27 C293.04,513.17 292.94,513.36 292.68,513.41 C292.43,513.46 292.08,513.56 291.69,513.58 C291.30,513.59 290.59,513.58 290.36,513.50 C290.12,513.42 290.44,513.18 290.29,513.08 C290.14,512.98 289.75,512.95 289.44,512.90 C289.12,512.85 288.72,512.86 288.41,512.80 C288.10,512.75 287.72,512.66 287.58,512.58 C287.43,512.50 287.66,512.31 287.54,512.32 C287.41,512.33 286.98,512.81 286.83,512.63 C286.69,512.45 286.79,511.51 286.67,511.26 C286.55,511.01 286.39,511.30 286.11,511.13 C285.84,510.95 285.20,510.52 285.02,510.19 C284.84,509.87 284.99,509.34 285.03,509.18 C285.07,509.03 285.25,509.39 285.26,509.27 C285.26,509.14 285.01,508.82 285.06,508.43 C285.12,508.04 285.42,507.22 285.56,506.93 C285.70,506.63 285.81,506.81 285.93,506.66 C286.05,506.51 286.21,506.25 286.28,506.04Z" fill="none" stroke="#000" stroke-width="0.95" shape-rendering="crispEdges"/>
<path d="M290.40,507.05 C290.44,506.97 290.30,506.57 290.32,506.57 C290.34,506.57 290.45,507.07 290.52,507.05 C290.59,507.03 290.68,506.55 290.73,506.43 C290.78,506.31 290.87,506.45 290.82,506.34 C290.77,506.22 290.44,505.84 290.41,505.74 C290.38,505.64 290.54,505.72 290.65,505.75 C290.75,505.77 290.83,505.88 291.05,505.88 C291.28,505.88 291.80,505.77 291.99,505.74 C292.19,505.70 292.10,505.74 292.22,505.66 C292.34,505.59 292.44,505.39 292.72,505.29 C293.00,505.19 293.66,505.04 293.90,505.06 C294.14,505.09 293.88,505.47 294.17,505.44 C294.45,505.40 295.27,504.91 295.61,504.84 C295.95,504.77 295.91,505.02 296.19,505.02 C296.47,505.01 297.07,504.81 297.29,504.80 C297.50,504.79 297.20,504.89 297.47,504.94 C297.74,504.98 298.62,505.00 298.89,505.06 C299.16,505.12 299.01,505.24 299.07,505.32 C299.14,505.40 299.14,505.45 299.27,505.53 C299.41,505.61 299.79,505.73 299.88,505.81 C299.96,505.90 299.73,505.86 299.80,506.03 C299.86,506.21 300.17,506.70 300.26,506.87 C300.35,507.04 300.28,506.82 300.34,507.03 C300.40,507.23 300.59,507.88 300.63,508.10 C300.67,508.32 300.71,508.16 300.56,508.35 C300.41,508.54 300.04,508.93 299.73,509.25 C299.42,509.57 298.95,510.19 298.70,510.28 C298.45,510.37 298.37,509.79 298.23,509.76 C298.09,509.73 297.99,509.97 297.86,510.09 C297.72,510.20 297.67,510.42 297.44,510.46 C297.20,510.49 296.58,510.27 296.44,510.29 C296.30,510.32 296.64,510.51 296.61,510.61 C296.58,510.70 296.35,510.85 296.24,510.87 C296.14,510.90 296.20,510.78 295.97,510.76 C295.74,510.74 295.04,510.70 294.89,510.76 C294.74,510.83 295.18,511.17 295.06,511.15 C294.94,511.13 294.34,510.57 294.18,510.62 C294.03,510.68 294.21,511.51 294.11,511.49 C294.02,511.47 293.86,510.66 293.61,510.51 C293.37,510.35 292.85,510.57 292.64,510.55 C292.43,510.54 292.50,510.37 292.37,510.44 C292.23,510.52 291.85,510.99 291.84,510.99 C291.83,510.98 292.27,510.50 292.30,510.44 C292.33,510.38 292.15,510.53 292.01,510.61 C291.88,510.69 291.61,511.04 291.49,510.92 C291.38,510.81 291.50,510.00 291.32,509.91 C291.13,509.81 290.51,510.39 290.40,510.34 C290.29,510.28 290.78,509.63 290.65,509.58 C290.53,509.53 289.88,510.10 289.63,510.04 C289.38,509.98 289.23,509.38 289.15,509.23 C289.07,509.07 289.07,509.30 289.16,509.12 C289.24,508.94 289.59,508.31 289.65,508.17 C289.71,508.03 289.48,508.36 289.49,508.27 C289.51,508.18 289.64,507.85 289.74,507.64 C289.84,507.44 289.98,507.15 290.09,507.05 C290.20,506.95 290.36,507.13 290.40,507.05Z" fill="none" stroke="#000" stroke-width="0.95" shape-rendering="crispEdges"/>
<path d="M23.43,630.24 C23.54,629.75 24.56,629.46 24.95,629.14 C25.34,628.81 25.22,628.54 25.78,628.30 C26.33,628.06 27.67,628.11 28.26,627.68 C28.86,627.24 28.98,626.18 29.34,625.69 C29.70,625.20 30.08,625.08 30.42,624.74 C30.77,624.39 31.00,623.76 31.43,623.62 C31.86,623.47 32.33,624.00 33.00,623.88 C33.66,623.76 34.74,623.32 35.40,622.90 C36.06,622.48 36.56,621.62 36.97,621.35 C37.39,621.08 37.37,621.35 37.90,621.27 C38.42,621.20 39.42,621.25 40.10,620.91 C40.77,620.56 41.40,619.37 41.93,619.21 C42.46,619.04 42.80,619.93 43.29,619.91 C43.79,619.90 44.35,619.28 44.90,619.11 C45.45,618.93 45.92,618.75 46.60,618.87 C47.28,618.99 48.39,619.80 48.99,619.84 C49.59,619.88 49.62,619.15 50.20,619.12 C50.77,619.08 51.79,619.46 52.45,619.63 C53.11,619.80 53.67,620.14 54.16,620.14 C54.64,620.15 54.91,619.58 55.38,619.66 C55.84,619.74 56.55,620.32 56.94,620.62 C57.33,620.93 57.22,621.23 57.72,621.51 C58.22,621.78 59.62,621.75 59.94,622.27 C60.27,622.79 59.53,624.01 59.67,624.65 C59.81,625.28 60.42,625.62 60.79,626.08 C61.15,626.53 61.46,626.92 61.85,627.37 C62.24,627.82 63.01,628.28 63.14,628.80 C63.27,629.33 62.60,629.94 62.62,630.54 C62.63,631.13 63.16,631.67 63.22,632.37 C63.28,633.06 63.20,634.13 62.97,634.71 C62.75,635.29 62.09,635.52 61.86,635.84 C61.64,636.15 62.07,636.25 61.62,636.59 C61.17,636.93 59.68,637.47 59.16,637.89 C58.65,638.31 59.04,638.87 58.54,639.13 C58.05,639.38 56.87,639.23 56.20,639.42 C55.53,639.62 55.09,640.00 54.51,640.30 C53.92,640.60 53.08,640.97 52.68,641.22 C52.29,641.48 52.56,641.67 52.14,641.81 C51.73,641.95 50.97,642.12 50.18,642.04 C49.40,641.96 47.97,641.30 47.44,641.33 C46.92,641.36 47.52,642.07 47.03,642.24 C46.55,642.40 45.18,642.39 44.52,642.34 C43.86,642.30 43.68,642.19 43.08,641.94 C42.47,641.69 41.51,641.08 40.89,640.84 C40.27,640.61 39.91,640.45 39.36,640.54 C38.81,640.63 38.15,641.54 37.56,641.36 C36.97,641.18 36.46,639.85 35.83,639.48 C35.20,639.11 34.21,639.26 33.76,639.16 C33.32,639.06 33.59,639.16 33.14,638.89 C32.68,638.61 31.45,637.84 31.03,637.50 C30.61,637.17 31.10,637.25 30.63,636.88 C30.15,636.51 28.83,635.71 28.17,635.28 C27.51,634.84 26.96,634.66 26.66,634.27 C26.36,633.87 26.76,633.29 26.37,632.93 C25.98,632.57 24.81,632.54 24.32,632.10 C23.83,631.65 23.33,630.74 23.43,630.24Z" fill="none" stroke="#000" stroke-width="0.95" shape-rendering="crispEdges"/>
<path d="M28.79,631.50 C28.65,631.28 29.09,630.37 29.52,629.93 C29.94,629.49 30.84,629.16 31.34,628.84 C31.85,628.52 32.38,628.31 32.56,628.00 C32.75,627.69 32.35,627.27 32.45,626.96 C32.55,626.65 32.83,626.29 33.18,626.14 C33.54,625.99 34.03,626.29 34.58,626.06 C35.14,625.83 36.19,625.16 36.52,624.76 C36.85,624.37 36.31,624.00 36.57,623.72 C36.83,623.43 37.63,623.10 38.10,623.03 C38.56,622.97 38.94,623.58 39.34,623.34 C39.75,623.10 39.91,621.85 40.51,621.59 C41.11,621.32 42.28,621.80 42.94,621.76 C43.59,621.72 43.98,621.40 44.45,621.37 C44.92,621.34 45.33,621.54 45.77,621.58 C46.21,621.62 46.69,621.76 47.09,621.60 C47.48,621.44 47.78,620.59 48.13,620.62 C48.48,620.66 48.61,621.57 49.19,621.81 C49.76,622.05 51.08,622.04 51.58,622.05 C52.08,622.06 51.76,621.86 52.20,621.86 C52.63,621.85 53.68,621.89 54.21,622.03 C54.75,622.16 55.05,622.36 55.39,622.65 C55.73,622.94 56.04,623.36 56.27,623.76 C56.49,624.15 56.40,624.80 56.75,625.03 C57.10,625.25 57.98,624.66 58.36,625.09 C58.73,625.52 58.87,627.19 59.00,627.60 C59.14,628.02 59.03,627.35 59.18,627.58 C59.34,627.82 59.75,628.42 59.92,629.02 C60.10,629.62 60.36,630.69 60.23,631.16 C60.11,631.63 59.19,631.40 59.16,631.83 C59.13,632.26 59.99,633.14 60.03,633.73 C60.08,634.32 59.77,635.12 59.41,635.36 C59.04,635.60 58.12,635.07 57.86,635.20 C57.61,635.33 58.09,635.86 57.88,636.14 C57.67,636.43 57.04,636.52 56.60,636.91 C56.17,637.30 55.69,638.16 55.27,638.47 C54.85,638.78 54.51,638.72 54.10,638.77 C53.68,638.83 53.28,638.75 52.78,638.83 C52.27,638.91 51.55,639.06 51.08,639.27 C50.60,639.49 50.47,640.01 49.94,640.13 C49.41,640.25 48.58,640.11 47.89,639.99 C47.20,639.88 46.26,639.47 45.80,639.47 C45.34,639.47 45.42,639.91 45.13,639.99 C44.84,640.06 44.65,640.04 44.06,639.93 C43.48,639.82 42.11,639.44 41.62,639.33 C41.13,639.23 41.60,639.28 41.12,639.29 C40.63,639.30 39.14,639.62 38.71,639.38 C38.29,639.13 38.87,638.09 38.57,637.82 C38.27,637.54 37.34,637.84 36.91,637.73 C36.49,637.61 36.47,637.33 36.02,637.13 C35.56,636.94 34.49,636.88 34.18,636.54 C33.88,636.20 34.56,635.37 34.20,635.11 C33.83,634.84 32.35,635.17 32.00,634.96 C31.66,634.76 32.37,634.15 32.15,633.88 C31.93,633.61 30.99,633.78 30.69,633.33 C30.38,632.89 30.66,631.51 30.34,631.21 C30.03,630.90 28.93,631.71 28.79,631.50Z" fill="none" stroke="#000" stroke-width="0.95" shape-rendering="crispEdges"/>
<path d="M34.12,630.37 C34.06,630.25 33.81,630.67 33.90,630.58 C33.99,630.49 34.49,630.05 34.66,629.82 C34.83,629.59 34.77,629.60 34.92,629.20 C35.07,628.81 35.26,627.80 35.56,627.44 C35.86,627.08 36.37,627.07 36.70,627.03 C37.03,626.99 37.22,627.49 37.54,627.20 C37.85,626.92 38.35,625.60 38.57,625.31 C38.79,625.02 38.62,625.48 38.86,625.45 C39.11,625.42 39.67,625.42 40.03,625.13 C40.38,624.83 40.72,623.83 41.00,623.67 C41.27,623.52 41.37,624.22 41.69,624.21 C42.01,624.20 42.38,623.78 42.92,623.61 C43.47,623.44 44.49,623.31 44.96,623.21 C45.43,623.11 45.48,623.00 45.73,623.02 C45.98,623.05 46.09,623.30 46.45,623.35 C46.81,623.40 47.49,623.32 47.89,623.32 C48.30,623.33 48.40,623.40 48.88,623.38 C49.35,623.36 50.30,623.32 50.72,623.22 C51.13,623.12 50.99,622.77 51.35,622.79 C51.71,622.81 52.49,623.19 52.87,623.34 C53.24,623.49 53.49,623.49 53.63,623.67 C53.76,623.85 53.37,624.16 53.68,624.42 C53.99,624.69 55.07,624.90 55.48,625.25 C55.89,625.60 56.02,626.15 56.13,626.53 C56.24,626.90 56.07,627.24 56.16,627.52 C56.25,627.79 56.58,627.69 56.66,628.18 C56.75,628.66 56.69,629.92 56.66,630.41 C56.63,630.90 56.47,630.90 56.49,631.11 C56.52,631.33 56.83,631.50 56.81,631.70 C56.80,631.91 56.35,631.91 56.40,632.36 C56.46,632.80 57.16,633.91 57.15,634.39 C57.14,634.88 56.56,635.15 56.35,635.28 C56.13,635.40 56.17,635.00 55.85,635.15 C55.53,635.30 54.84,635.81 54.45,636.18 C54.06,636.55 53.78,637.07 53.50,637.37 C53.22,637.67 53.22,637.87 52.77,637.98 C52.32,638.10 51.20,637.96 50.81,638.04 C50.43,638.12 50.73,638.33 50.46,638.47 C50.18,638.60 49.67,638.73 49.18,638.84 C48.68,638.96 47.96,639.17 47.50,639.17 C47.03,639.16 46.67,638.87 46.40,638.82 C46.12,638.77 46.28,639.00 45.85,638.86 C45.42,638.71 44.35,638.07 43.82,637.97 C43.29,637.87 42.90,638.19 42.68,638.25 C42.47,638.31 42.86,638.49 42.52,638.33 C42.18,638.16 41.03,637.55 40.65,637.26 C40.28,636.98 40.58,636.87 40.26,636.62 C39.95,636.37 39.22,635.86 38.77,635.77 C38.32,635.68 37.78,636.10 37.57,636.05 C37.36,636.00 37.72,635.60 37.52,635.46 C37.32,635.32 36.59,635.56 36.34,635.21 C36.09,634.87 36.31,633.63 36.02,633.39 C35.73,633.16 34.72,633.88 34.61,633.80 C34.50,633.73 35.40,633.35 35.34,632.93 C35.28,632.51 34.47,631.73 34.26,631.30 C34.06,630.87 34.18,630.49 34.12,630.37Z" fill="none" stroke="#000" stroke-width="0.95" shape-rendering="crispEdges"/>
<path d="M36.58,630.46 C36.41,630.31 36.79,630.94 37.09,630.89 C37.39,630.84 38.27,630.49 38.37,630.14 C38.47,629.80 37.71,628.98 37.69,628.83 C37.68,628.68 38.15,629.29 38.29,629.23 C38.43,629.17 38.30,628.73 38.54,628.46 C38.79,628.19 39.40,627.90 39.76,627.60 C40.12,627.30 40.54,626.93 40.69,626.66 C40.85,626.38 40.67,626.20 40.68,625.97 C40.69,625.74 40.57,625.46 40.75,625.28 C40.94,625.10 41.55,624.83 41.80,624.89 C42.05,624.95 41.98,625.59 42.25,625.61 C42.53,625.64 43.00,625.21 43.45,625.04 C43.90,624.86 44.56,624.63 44.97,624.58 C45.38,624.52 45.53,624.76 45.92,624.71 C46.30,624.66 46.95,624.37 47.27,624.29 C47.60,624.22 47.56,624.28 47.86,624.26 C48.17,624.24 48.79,624.26 49.10,624.20 C49.42,624.13 49.42,623.80 49.75,623.86 C50.09,623.93 50.93,624.49 51.11,624.59 C51.29,624.68 50.57,624.34 50.83,624.43 C51.10,624.51 52.38,624.79 52.69,625.10 C52.99,625.42 52.47,626.09 52.68,626.32 C52.89,626.55 53.76,626.30 53.93,626.48 C54.10,626.66 53.75,627.01 53.69,627.41 C53.62,627.81 53.53,628.47 53.56,628.87 C53.58,629.27 53.74,629.70 53.86,629.81 C53.98,629.92 54.01,629.27 54.25,629.53 C54.50,629.78 55.28,630.95 55.32,631.33 C55.37,631.71 54.59,631.55 54.51,631.80 C54.42,632.06 54.90,632.53 54.82,632.85 C54.74,633.17 54.05,633.48 54.04,633.73 C54.03,633.97 54.74,634.04 54.76,634.30 C54.78,634.56 54.48,635.05 54.15,635.27 C53.82,635.50 53.01,635.57 52.77,635.66 C52.53,635.75 53.02,635.70 52.71,635.82 C52.41,635.95 51.18,636.29 50.93,636.39 C50.68,636.49 51.38,636.23 51.21,636.42 C51.04,636.62 50.31,637.54 49.92,637.57 C49.52,637.61 49.19,636.71 48.85,636.63 C48.50,636.55 48.13,636.93 47.83,637.11 C47.54,637.30 47.51,637.62 47.09,637.76 C46.66,637.90 45.66,638.11 45.26,637.98 C44.86,637.85 44.89,637.06 44.69,636.97 C44.48,636.89 44.27,637.43 44.03,637.45 C43.79,637.48 43.56,637.28 43.25,637.11 C42.93,636.95 42.45,636.70 42.13,636.47 C41.81,636.25 41.48,636.01 41.33,635.78 C41.18,635.55 41.54,635.19 41.21,635.09 C40.88,634.99 39.64,635.30 39.34,635.17 C39.04,635.05 39.45,634.66 39.40,634.36 C39.36,634.06 39.29,633.66 39.07,633.36 C38.84,633.05 38.17,632.58 38.07,632.54 C37.98,632.50 38.50,633.32 38.49,633.13 C38.49,632.95 38.10,631.63 38.04,631.42 C37.97,631.20 38.36,631.98 38.12,631.82 C37.87,631.66 36.75,630.62 36.58,630.46Z" fill="none" stroke="#000" stroke-width="0.95" shape-rendering="crispEdges"/>
<path d="M40.72,630.10 C40.77,630.05 41.21,630.75 41.26,630.64 C41.32,630.53 41.04,629.70 41.04,629.43 C41.05,629.17 41.30,629.17 41.31,629.06 C41.32,628.95 41.14,628.73 41.10,628.78 C41.07,628.84 40.99,629.39 41.12,629.40 C41.25,629.42 41.82,629.14 41.89,628.88 C41.96,628.61 41.47,628.16 41.54,627.82 C41.61,627.48 42.16,626.87 42.32,626.85 C42.47,626.83 42.28,627.67 42.46,627.71 C42.65,627.74 43.29,627.30 43.45,627.08 C43.61,626.86 43.19,626.57 43.41,626.40 C43.64,626.22 44.51,626.26 44.78,626.03 C45.05,625.80 44.94,625.05 45.01,625.02 C45.09,624.98 44.85,625.85 45.24,625.82 C45.63,625.80 46.92,625.00 47.37,624.88 C47.83,624.76 47.77,624.94 47.98,625.10 C48.18,625.27 48.45,625.75 48.61,625.86 C48.77,625.98 48.78,625.78 48.93,625.80 C49.08,625.81 49.36,625.93 49.49,625.95 C49.63,625.97 49.54,625.70 49.73,625.93 C49.92,626.15 50.43,627.01 50.63,627.28 C50.82,627.56 50.79,627.38 50.88,627.57 C50.98,627.76 51.09,628.38 51.22,628.42 C51.35,628.45 51.53,627.57 51.66,627.76 C51.78,627.95 51.79,629.17 51.98,629.56 C52.17,629.96 52.69,630.11 52.81,630.13 C52.93,630.15 52.74,629.56 52.69,629.67 C52.63,629.79 52.39,630.57 52.50,630.79 C52.62,631.02 53.43,630.72 53.39,631.01 C53.36,631.30 52.52,632.16 52.27,632.54 C52.03,632.91 51.97,633.14 51.91,633.27 C51.85,633.39 51.88,633.11 51.92,633.27 C51.95,633.44 52.29,634.04 52.12,634.27 C51.96,634.50 51.19,634.53 50.95,634.65 C50.70,634.76 50.82,634.81 50.65,634.95 C50.47,635.09 50.08,635.47 49.89,635.50 C49.69,635.53 49.69,635.12 49.47,635.15 C49.25,635.18 48.78,635.38 48.56,635.66 C48.34,635.95 48.31,636.77 48.16,636.86 C48.01,636.94 47.81,636.31 47.67,636.15 C47.53,636.00 47.71,635.80 47.32,635.92 C46.94,636.05 45.66,636.85 45.37,636.92 C45.08,636.98 45.66,636.61 45.57,636.31 C45.49,636.01 45.11,635.23 44.87,635.12 C44.63,635.02 44.40,635.61 44.13,635.67 C43.86,635.73 43.61,635.73 43.26,635.47 C42.90,635.22 42.26,634.37 42.00,634.14 C41.73,633.91 41.67,634.17 41.65,634.12 C41.64,634.06 41.96,633.89 41.91,633.81 C41.86,633.73 41.38,633.74 41.37,633.63 C41.35,633.53 41.94,633.48 41.80,633.20 C41.65,632.91 40.69,632.18 40.49,631.92 C40.28,631.66 40.51,631.75 40.59,631.62 C40.67,631.49 40.91,631.25 40.97,631.13 C41.03,631.02 40.99,631.12 40.95,630.95 C40.91,630.78 40.67,630.15 40.72,630.10Z" fill="none" stroke="#000" stroke-width="0.95" shape-rendering="crispEdges"/>
<path d="M59.74,626.41 C59.67,626.11 60.21,627.55 60.80,627.62 C61.38,627.70 62.58,627.13 63.23,626.84 C63.89,626.55 64.14,626.02 64.71,625.88 C65.28,625.75 66.04,626.01 66.63,626.02 C67.23,626.03 67.72,626.02 68.27,625.92 C68.83,625.82 69.66,625.61 69.95,625.44 C70.24,625.27 69.53,624.97 70.00,624.90 C70.48,624.83 72.10,624.83 72.81,625.04 C73.51,625.24 73.93,625.87 74.21,626.13 C74.48,626.39 74.17,626.46 74.45,626.59 C74.74,626.72 75.14,627.08 75.95,626.93 C76.75,626.78 78.50,625.67 79.27,625.69 C80.04,625.70 80.31,626.79 80.56,627.02 C80.81,627.25 80.49,626.94 80.79,627.08 C81.08,627.21 81.61,627.62 82.33,627.80 C83.05,627.99 84.62,628.32 85.11,628.19 C85.60,628.06 84.76,627.06 85.24,627.02 C85.73,626.98 87.46,627.64 88.02,627.94 C88.58,628.25 88.00,628.86 88.59,628.84 C89.18,628.83 91.09,627.82 91.58,627.84 C92.08,627.86 91.22,628.71 91.56,628.98 C91.90,629.25 92.99,629.40 93.61,629.46 C94.23,629.53 94.93,629.40 95.28,629.37 C95.63,629.34 95.30,628.98 95.72,629.29 C96.14,629.60 97.58,630.68 97.78,631.23 C97.98,631.79 97.16,632.11 96.93,632.62 C96.71,633.13 96.66,634.07 96.41,634.27 C96.17,634.47 96.06,633.93 95.46,633.83 C94.86,633.72 93.55,633.32 92.82,633.64 C92.09,633.97 91.32,635.40 91.09,635.77 C90.85,636.15 91.89,635.85 91.41,635.91 C90.93,635.96 89.00,635.92 88.22,636.08 C87.44,636.25 87.05,636.79 86.74,636.90 C86.42,637.01 86.69,636.87 86.35,636.75 C86.01,636.63 85.14,636.05 84.69,636.18 C84.25,636.30 84.32,637.47 83.67,637.53 C83.02,637.58 81.34,636.58 80.79,636.53 C80.23,636.48 80.77,637.16 80.32,637.22 C79.86,637.27 78.49,636.97 78.06,636.86 C77.63,636.76 78.32,636.46 77.73,636.57 C77.14,636.69 75.28,637.30 74.51,637.55 C73.74,637.81 73.57,637.98 73.10,638.10 C72.62,638.21 72.13,638.21 71.65,638.23 C71.17,638.25 70.57,638.27 70.21,638.22 C69.85,638.18 70.05,638.23 69.47,637.96 C68.90,637.70 67.52,636.90 66.75,636.63 C65.97,636.36 65.16,636.48 64.82,636.34 C64.48,636.19 65.13,635.72 64.70,635.76 C64.27,635.79 62.93,636.55 62.23,636.53 C61.53,636.52 60.85,635.92 60.53,635.68 C60.20,635.45 60.38,635.36 60.26,635.13 C60.15,634.90 59.77,634.79 59.85,634.29 C59.93,633.78 60.63,632.81 60.73,632.11 C60.84,631.41 60.38,630.54 60.46,630.09 C60.54,629.64 61.33,630.03 61.21,629.41 C61.09,628.80 59.81,626.71 59.74,626.41Z" fill="none" stroke="#000" stroke-width="0.8" shape-rendering="crispEdges"/>
<path d="M64.71,627.09 C64.97,627.14 65.03,628.78 65.35,628.88 C65.66,628.99 66.20,628.08 66.60,627.72 C67.01,627.37 67.36,626.74 67.77,626.77 C68.19,626.80 68.92,627.84 69.09,627.89 C69.27,627.94 68.46,627.26 68.80,627.07 C69.14,626.88 70.50,626.57 71.11,626.73 C71.72,626.90 71.97,628.05 72.47,628.06 C72.97,628.07 73.94,626.78 74.13,626.78 C74.32,626.78 73.35,627.84 73.64,628.05 C73.92,628.27 75.16,628.25 75.81,628.07 C76.47,627.89 77.16,627.13 77.54,626.98 C77.92,626.83 77.72,626.98 78.08,627.18 C78.44,627.38 79.44,628.06 79.70,628.18 C79.96,628.30 79.32,628.02 79.63,627.90 C79.95,627.78 81.21,627.41 81.57,627.46 C81.94,627.50 81.63,628.00 81.82,628.17 C82.02,628.33 82.07,628.23 82.73,628.43 C83.39,628.63 85.41,629.18 85.79,629.37 C86.16,629.56 84.68,629.56 84.99,629.59 C85.29,629.61 87.22,629.49 87.59,629.54 C87.96,629.60 87.03,629.77 87.21,629.91 C87.40,630.04 88.21,630.39 88.69,630.37 C89.17,630.35 89.72,629.63 90.08,629.78 C90.44,629.93 90.57,630.92 90.86,631.25 C91.14,631.58 91.62,631.76 91.79,631.74 C91.96,631.73 91.89,630.95 91.85,631.16 C91.82,631.38 92.01,632.50 91.58,633.02 C91.16,633.53 89.78,634.29 89.30,634.25 C88.82,634.21 88.81,632.72 88.70,632.78 C88.60,632.83 89.00,634.45 88.66,634.61 C88.32,634.76 87.16,633.66 86.69,633.70 C86.22,633.74 86.13,634.67 85.87,634.86 C85.60,635.06 85.45,634.78 85.08,634.89 C84.71,634.99 84.22,635.58 83.65,635.51 C83.08,635.44 82.08,634.39 81.66,634.44 C81.24,634.49 81.31,635.53 81.14,635.82 C80.98,636.10 81.09,636.13 80.68,636.15 C80.28,636.17 79.36,636.09 78.72,635.96 C78.08,635.83 77.35,635.29 76.82,635.36 C76.30,635.44 75.63,636.29 75.57,636.41 C75.51,636.54 76.59,636.26 76.46,636.11 C76.32,635.96 75.21,635.70 74.75,635.51 C74.28,635.31 74.20,634.92 73.67,634.94 C73.14,634.95 71.94,635.53 71.57,635.58 C71.21,635.63 71.96,635.34 71.49,635.25 C71.03,635.15 69.17,635.00 68.78,635.00 C68.39,635.00 69.25,635.25 69.15,635.25 C69.04,635.25 68.52,635.12 68.14,635.00 C67.75,634.87 67.23,634.33 66.85,634.49 C66.47,634.66 66.08,635.99 65.85,635.96 C65.62,635.94 65.55,634.73 65.48,634.35 C65.40,633.97 65.40,634.22 65.39,633.68 C65.38,633.14 65.47,631.55 65.41,631.11 C65.35,630.68 65.30,631.49 65.03,631.06 C64.76,630.64 63.84,629.22 63.79,628.56 C63.74,627.89 64.45,627.04 64.71,627.09Z" fill="none" stroke="#000" stroke-width="0.8" shape-rendering="crispEdges"/>
<path d="M68.88,629.19 C69.15,629.00 68.73,630.09 68.83,629.96 C68.93,629.83 69.18,628.60 69.50,628.42 C69.81,628.24 70.53,628.78 70.71,628.89 C70.88,629.00 70.23,629.25 70.56,629.10 C70.90,628.95 72.26,627.97 72.72,627.97 C73.17,627.97 73.17,629.11 73.29,629.10 C73.41,629.09 73.22,628.07 73.43,627.91 C73.63,627.75 74.36,627.90 74.52,628.15 C74.68,628.41 74.27,629.51 74.39,629.46 C74.50,629.41 74.73,627.76 75.21,627.84 C75.68,627.91 76.98,629.76 77.25,629.90 C77.52,630.04 76.68,628.75 76.83,628.70 C76.98,628.64 77.98,629.44 78.13,629.56 C78.28,629.68 77.59,629.33 77.73,629.43 C77.88,629.52 78.59,630.00 78.99,630.14 C79.40,630.29 79.82,630.35 80.16,630.29 C80.49,630.24 80.89,630.02 81.00,629.80 C81.12,629.58 80.66,629.01 80.86,628.95 C81.06,628.89 81.89,629.33 82.20,629.46 C82.50,629.59 82.51,629.59 82.69,629.72 C82.87,629.84 82.72,629.97 83.26,630.20 C83.80,630.43 85.48,630.85 85.93,631.09 C86.37,631.32 85.75,631.61 85.92,631.61 C86.08,631.61 86.73,631.33 86.89,631.09 C87.04,630.85 86.75,629.93 86.84,630.20 C86.93,630.46 87.41,632.21 87.41,632.66 C87.41,633.11 87.03,632.68 86.83,632.88 C86.64,633.08 86.41,633.74 86.25,633.87 C86.08,634.00 86.39,633.58 85.84,633.64 C85.30,633.70 83.39,634.28 82.99,634.22 C82.59,634.17 83.54,633.51 83.44,633.32 C83.34,633.14 82.84,632.99 82.39,633.11 C81.94,633.23 80.94,634.06 80.75,634.03 C80.56,634.00 81.19,632.81 81.26,632.94 C81.33,633.07 81.33,634.62 81.16,634.81 C80.99,635.01 80.71,634.22 80.25,634.09 C79.80,633.95 78.86,633.84 78.42,634.02 C77.98,634.20 77.68,634.98 77.62,635.16 C77.55,635.34 78.25,635.26 78.05,635.11 C77.85,634.97 76.74,634.52 76.39,634.31 C76.05,634.10 76.37,633.67 75.98,633.86 C75.60,634.04 74.51,635.42 74.10,635.43 C73.69,635.43 73.66,634.21 73.51,633.89 C73.36,633.58 73.39,633.56 73.22,633.53 C73.05,633.50 72.65,633.73 72.51,633.73 C72.38,633.73 72.57,633.51 72.41,633.51 C72.26,633.52 71.86,633.55 71.59,633.76 C71.32,633.97 71.00,634.86 70.80,634.77 C70.60,634.68 70.59,633.52 70.41,633.23 C70.22,632.93 70.09,633.20 69.71,633.01 C69.32,632.81 68.33,632.30 68.10,632.04 C67.87,631.77 68.28,631.35 68.33,631.43 C68.38,631.51 68.30,632.58 68.38,632.53 C68.46,632.47 68.99,631.36 68.79,631.12 C68.59,630.88 67.17,631.42 67.19,631.09 C67.20,630.77 68.60,629.38 68.88,629.19Z" fill="none" stroke="#000" stroke-width="0.8" shape-rendering="crispEdges"/>
<circle cx="86.2" cy="634.1" r="0.7" fill="#222"/>
<circle cx="69.2" cy="631.9" r="0.7" fill="#222"/>
<circle cx="90.2" cy="628.5" r="0.7" fill="#222"/>
<circle cx="63.6" cy="625.4" r="0.7" fill="#222"/>
<circle cx="77.3" cy="633.7" r="0.7" fill="#222"/>
<circle cx="80.7" cy="631.9" r="0.7" fill="#222"/>
<circle cx="61.1" cy="633.0" r="0.7" fill="#222"/>
<circle cx="82.3" cy="636.0" r="0.7" fill="#222"/>
<circle cx="69.0" cy="626.5" r="0.7" fill="#222"/>
<circle cx="60.3" cy="628.4" r="0.7" fill="#222"/>
<circle cx="93.0" cy="630.6" r="0.7" fill="#222"/>
<circle cx="66.4" cy="628.7" r="0.7" fill="#222"/>
<circle cx="99.2" cy="630.8" r="0.7" fill="#222"/>
<circle cx="64.0" cy="632.7" r="0.7" fill="#222"/>
<circle cx="94.7" cy="626.8" r="0.7" fill="#222"/>
<circle cx="89.9" cy="627.9" r="0.7" fill="#222"/>
<circle cx="82.0" cy="634.6" r="0.7" fill="#222"/>
<circle cx="82.6" cy="631.0" r="0.7" fill="#222"/>
<circle cx="94.0" cy="626.7" r="0.7" fill="#222"/>
<circle cx="83.7" cy="627.1" r="0.7" fill="#222"/>
<circle cx="88.9" cy="633.7" r="0.7" fill="#222"/>
<circle cx="71.9" cy="632.2" r="0.7" fill="#222"/>
<circle cx="63.3" cy="631.7" r="0.7" fill="#222"/>
<circle cx="71.4" cy="633.0" r="0.7" fill="#222"/>
<circle cx="86.1" cy="629.4" r="0.7" fill="#222"/>
<circle cx="68.6" cy="633.8" r="0.7" fill="#222"/>
<circle cx="70.9" cy="635.8" r="0.7" fill="#222"/>
<circle cx="85.0" cy="629.7" r="0.7" fill="#222"/>
<circle cx="67.0" cy="631.2" r="0.7" fill="#222"/>
<circle cx="75.6" cy="629.6" r="0.7" fill="#222"/>
<circle cx="100.6" cy="628.9" r="0.7" fill="#222"/>
<circle cx="88.1" cy="628.3" r="0.7" fill="#222"/>
<circle cx="94.6" cy="631.9" r="0.7" fill="#222"/>
<circle cx="61.3" cy="629.2" r="0.7" fill="#222"/>
<circle cx="72.9" cy="631.3" r="0.7" fill="#222"/>
<circle cx="98.7" cy="633.7" r="0.7" fill="#222"/>
<circle cx="95.9" cy="629.6" r="0.7" fill="#222"/>
<circle cx="76.2" cy="635.9" r="0.7" fill="#222"/>
<circle cx="97.5" cy="629.0" r="0.7" fill="#222"/>
<circle cx="70.1" cy="632.2" r="0.7" fill="#222"/>
<circle cx="83.0" cy="631.2" r="0.7" fill="#222"/>
<circle cx="96.8" cy="635.8" r="0.7" fill="#222"/>
<circle cx="76.4" cy="633.7" r="0.7" fill="#222"/>
<circle cx="80.9" cy="642.6" r="0.7" fill="#222"/>
<circle cx="63.7" cy="633.0" r="0.7" fill="#222"/>
<circle cx="85.7" cy="632.0" r="0.7" fill="#222"/>
<circle cx="92.5" cy="630.5" r="0.7" fill="#222"/>
<circle cx="75.6" cy="632.1" r="0.7" fill="#222"/>
<circle cx="100.8" cy="623.0" r="0.7" fill="#222"/>
<circle cx="95.3" cy="629.9" r="0.7" fill="#222"/>
<circle cx="60.5" cy="630.6" r="0.7" fill="#222"/>
<circle cx="82.0" cy="626.7" r="0.7" fill="#222"/>
<circle cx="70.9" cy="630.5" r="0.7" fill="#222"/>
<circle cx="77.8" cy="630.3" r="0.7" fill="#222"/>
<circle cx="78.6" cy="637.9" r="0.7" fill="#222"/>
<circle cx="70.8" cy="629.6" r="0.7" fill="#222"/>
<circle cx="80.5" cy="634.6" r="0.7" fill="#222"/>
<circle cx="95.7" cy="638.0" r="0.7" fill="#222"/>
<circle cx="72.2" cy="628.6" r="0.7" fill="#222"/>
<circle cx="66.3" cy="628.1" r="0.7" fill="#222"/>
<circle cx="91.3" cy="626.0" r="0.7" fill="#222"/>
<circle cx="81.7" cy="630.1" r="0.7" fill="#222"/>
<circle cx="60.0" cy="631.2" r="0.7" fill="#222"/>
<circle cx="98.1" cy="632.1" r="0.7" fill="#222"/>
<circle cx="96.0" cy="632.9" r="0.7" fill="#222"/>
<circle cx="62.4" cy="629.1" r="0.7" fill="#222"/>
<circle cx="96.0" cy="632.8" r="0.7" fill="#222"/>
<circle cx="79.9" cy="631.0" r="0.7" fill="#222"/>
<circle cx="62.8" cy="631.9" r="0.7" fill="#222"/>
<circle cx="65.3" cy="626.0" r="0.7" fill="#222"/>
<path d="M143.15,633.29 C143.48,632.75 144.38,632.45 144.92,631.96 C145.47,631.48 146.06,630.99 146.43,630.37 C146.80,629.75 146.53,628.77 147.14,628.25 C147.75,627.74 149.29,627.74 150.10,627.28 C150.90,626.83 151.43,625.99 151.97,625.54 C152.52,625.09 152.81,624.87 153.38,624.60 C153.95,624.33 154.85,624.26 155.41,623.91 C155.97,623.56 156.15,622.75 156.75,622.49 C157.36,622.23 158.25,622.68 159.06,622.34 C159.87,622.00 160.84,620.87 161.63,620.44 C162.41,620.00 163.08,619.93 163.76,619.72 C164.44,619.50 165.14,619.20 165.70,619.16 C166.25,619.13 166.47,619.68 167.11,619.52 C167.74,619.36 168.59,618.32 169.51,618.19 C170.43,618.07 171.89,618.69 172.64,618.77 C173.40,618.85 173.37,618.78 174.02,618.68 C174.67,618.58 175.81,618.19 176.53,618.15 C177.25,618.10 177.57,618.31 178.34,618.39 C179.11,618.47 180.26,618.68 181.13,618.61 C182.01,618.55 182.92,618.10 183.59,618.01 C184.26,617.91 184.63,617.88 185.16,618.04 C185.68,618.20 186.16,618.48 186.74,618.99 C187.31,619.50 188.14,620.45 188.59,621.10 C189.04,621.75 189.21,622.28 189.45,622.88 C189.68,623.47 189.78,623.95 189.99,624.65 C190.19,625.35 190.66,626.30 190.70,627.07 C190.74,627.84 190.31,628.64 190.24,629.28 C190.16,629.92 190.30,630.29 190.23,630.90 C190.16,631.51 190.05,632.10 189.81,632.95 C189.57,633.80 189.29,635.21 188.80,636.03 C188.30,636.84 187.39,637.33 186.85,637.82 C186.31,638.32 186.13,638.67 185.56,638.99 C184.99,639.32 184.03,639.23 183.43,639.77 C182.82,640.32 182.52,641.78 181.93,642.28 C181.34,642.79 180.44,642.57 179.89,642.79 C179.34,643.01 179.32,643.49 178.63,643.61 C177.95,643.73 176.59,643.33 175.79,643.50 C175.00,643.66 174.64,644.38 173.87,644.60 C173.11,644.81 171.87,644.74 171.19,644.80 C170.51,644.85 170.55,644.89 169.79,644.93 C169.04,644.97 167.54,645.14 166.66,645.03 C165.78,644.93 165.14,644.32 164.51,644.31 C163.89,644.30 163.60,644.89 162.92,644.99 C162.23,645.09 161.13,645.05 160.37,644.89 C159.62,644.73 159.15,644.23 158.41,644.04 C157.66,643.86 156.75,643.84 155.92,643.77 C155.08,643.70 154.08,643.50 153.41,643.62 C152.75,643.75 152.65,644.58 151.93,644.52 C151.21,644.45 149.76,643.38 149.08,643.24 C148.41,643.10 148.55,643.69 147.86,643.68 C147.17,643.67 145.58,643.47 144.95,643.19 C144.31,642.91 144.38,642.62 144.04,642.02 C143.71,641.41 143.14,640.24 142.95,639.56 C142.76,638.88 142.91,638.66 142.90,637.94 C142.89,637.21 142.86,635.99 142.90,635.21 C142.94,634.44 142.81,633.83 143.15,633.29Z" fill="none" stroke="#000" stroke-width="0.95" shape-rendering="crispEdges"/>
<path d="M147.96,632.72 C148.30,632.21 148.72,632.69 149.10,632.38 C149.48,632.08 149.95,631.41 150.25,630.87 C150.56,630.32 150.54,629.49 150.91,629.11 C151.28,628.73 151.92,628.91 152.47,628.59 C153.02,628.26 153.52,627.48 154.22,627.17 C154.91,626.85 155.98,627.00 156.65,626.69 C157.31,626.37 157.78,625.59 158.22,625.26 C158.66,624.93 158.83,625.03 159.28,624.70 C159.73,624.38 160.39,623.70 160.93,623.29 C161.47,622.87 161.96,622.34 162.52,622.22 C163.07,622.10 163.55,622.68 164.26,622.58 C164.98,622.48 166.17,621.92 166.81,621.62 C167.45,621.32 167.67,621.00 168.12,620.76 C168.57,620.52 168.82,620.19 169.51,620.18 C170.20,620.17 171.57,620.64 172.27,620.68 C172.97,620.72 173.06,620.50 173.71,620.41 C174.35,620.33 175.43,620.20 176.13,620.16 C176.83,620.13 177.36,620.19 177.91,620.23 C178.46,620.27 178.90,620.36 179.45,620.38 C180.00,620.41 180.52,620.28 181.22,620.36 C181.92,620.43 183.08,620.55 183.65,620.84 C184.22,621.13 184.15,621.76 184.62,622.11 C185.08,622.46 186.09,622.57 186.44,622.95 C186.78,623.33 186.57,623.80 186.68,624.37 C186.79,624.95 186.97,625.72 187.11,626.40 C187.24,627.09 187.37,627.81 187.49,628.47 C187.61,629.12 187.89,629.76 187.82,630.34 C187.76,630.92 187.23,631.37 187.08,631.97 C186.94,632.58 187.14,633.35 186.94,633.98 C186.73,634.62 186.08,635.26 185.85,635.80 C185.62,636.34 185.84,636.72 185.58,637.22 C185.33,637.72 184.85,638.40 184.31,638.78 C183.77,639.17 182.98,639.13 182.34,639.53 C181.70,639.92 180.92,640.84 180.48,641.16 C180.03,641.48 180.16,641.25 179.67,641.44 C179.19,641.64 178.21,642.19 177.56,642.34 C176.91,642.48 176.36,642.12 175.75,642.29 C175.14,642.47 174.57,643.19 173.91,643.39 C173.25,643.59 172.50,643.39 171.80,643.48 C171.10,643.58 170.40,643.89 169.72,643.96 C169.03,644.02 168.49,644.01 167.70,643.87 C166.92,643.73 165.68,643.17 164.99,643.12 C164.30,643.07 164.15,643.54 163.56,643.59 C162.96,643.64 162.00,643.61 161.42,643.42 C160.83,643.23 160.63,642.61 160.07,642.45 C159.51,642.29 158.78,642.53 158.06,642.49 C157.35,642.45 156.39,642.27 155.76,642.21 C155.13,642.14 154.86,642.17 154.29,642.10 C153.72,642.02 152.92,641.77 152.36,641.75 C151.79,641.74 151.42,641.95 150.91,642.01 C150.40,642.07 149.80,642.29 149.31,642.11 C148.81,641.92 148.34,641.47 147.95,640.89 C147.55,640.31 147.03,639.32 146.92,638.63 C146.80,637.94 147.23,637.31 147.26,636.77 C147.28,636.24 146.96,636.09 147.07,635.42 C147.19,634.74 147.62,633.23 147.96,632.72Z" fill="none" stroke="#000" stroke-width="0.95" shape-rendering="crispEdges"/>
<path d="M151.95,632.77 C152.21,632.24 152.85,632.07 153.21,631.77 C153.57,631.48 153.79,631.18 154.11,630.99 C154.43,630.80 154.73,630.95 155.15,630.64 C155.56,630.34 156.16,629.49 156.60,629.15 C157.04,628.81 157.49,628.94 157.81,628.61 C158.13,628.29 158.14,627.48 158.52,627.19 C158.89,626.90 159.50,626.98 160.05,626.88 C160.60,626.78 161.35,626.89 161.80,626.59 C162.24,626.28 162.28,625.52 162.72,625.06 C163.16,624.60 164.06,624.03 164.43,623.84 C164.80,623.65 164.51,624.07 164.95,623.91 C165.40,623.75 166.47,622.99 167.10,622.89 C167.72,622.79 168.21,623.40 168.69,623.30 C169.17,623.20 169.53,622.52 169.99,622.29 C170.46,622.06 170.80,621.98 171.48,621.91 C172.15,621.83 173.34,621.78 174.04,621.87 C174.74,621.95 175.21,622.46 175.67,622.43 C176.14,622.40 176.31,621.72 176.85,621.69 C177.39,621.65 178.41,622.12 178.89,622.22 C179.37,622.32 179.24,622.19 179.74,622.28 C180.25,622.37 181.48,622.55 181.91,622.77 C182.34,622.99 182.09,623.25 182.31,623.60 C182.54,623.95 182.88,624.53 183.23,624.88 C183.59,625.23 184.14,625.21 184.43,625.72 C184.72,626.22 185.01,627.34 184.97,627.91 C184.93,628.48 184.23,628.58 184.16,629.12 C184.10,629.67 184.45,630.73 184.57,631.18 C184.69,631.64 185.01,631.52 184.88,631.86 C184.75,632.21 183.91,632.74 183.79,633.24 C183.66,633.75 184.28,634.37 184.15,634.91 C184.02,635.45 183.35,636.01 182.98,636.48 C182.61,636.94 182.27,637.41 181.92,637.70 C181.57,637.99 181.27,637.90 180.90,638.21 C180.54,638.51 180.22,639.19 179.75,639.53 C179.28,639.88 178.66,640.00 178.08,640.26 C177.51,640.52 176.82,640.89 176.30,641.10 C175.77,641.32 175.37,641.31 174.92,641.53 C174.47,641.75 174.25,642.29 173.60,642.42 C172.94,642.56 171.64,642.22 170.99,642.36 C170.33,642.50 170.09,643.19 169.64,643.26 C169.20,643.33 169.01,642.84 168.33,642.77 C167.64,642.71 166.18,642.95 165.53,642.89 C164.87,642.83 164.78,642.54 164.39,642.42 C164.00,642.30 163.68,642.21 163.19,642.18 C162.70,642.15 162.00,642.36 161.45,642.23 C160.91,642.09 160.32,641.57 159.92,641.34 C159.53,641.12 159.58,640.87 159.10,640.88 C158.62,640.90 157.68,641.37 157.07,641.43 C156.46,641.49 155.81,641.38 155.44,641.24 C155.07,641.10 155.26,640.65 154.85,640.58 C154.45,640.51 153.32,641.13 153.03,640.83 C152.73,640.53 153.25,639.25 153.09,638.76 C152.92,638.27 152.18,638.33 152.01,637.89 C151.84,637.45 152.11,636.62 152.05,636.12 C151.99,635.63 151.67,635.49 151.66,634.93 C151.64,634.37 151.69,633.29 151.95,632.77Z" fill="none" stroke="#000" stroke-width="0.95" shape-rendering="crispEdges"/>
<path d="M157.03,632.97 C157.07,632.72 156.78,633.21 157.01,633.06 C157.23,632.90 158.18,632.34 158.37,632.04 C158.56,631.74 157.86,631.45 158.15,631.26 C158.44,631.07 159.70,631.27 160.12,630.91 C160.54,630.56 160.39,629.50 160.65,629.12 C160.92,628.74 161.42,628.69 161.71,628.65 C162.00,628.60 162.11,629.08 162.40,628.83 C162.69,628.59 163.19,627.42 163.46,627.18 C163.72,626.95 163.73,627.57 163.97,627.44 C164.20,627.30 164.47,626.73 164.86,626.37 C165.26,626.01 165.84,625.56 166.33,625.27 C166.82,624.97 167.45,624.75 167.81,624.63 C168.17,624.51 168.15,624.71 168.48,624.56 C168.81,624.42 169.22,623.79 169.77,623.76 C170.32,623.73 171.14,624.40 171.76,624.36 C172.39,624.32 173.09,623.63 173.53,623.52 C173.96,623.41 173.97,623.62 174.36,623.71 C174.75,623.79 175.34,623.94 175.87,624.02 C176.41,624.09 177.25,624.02 177.55,624.16 C177.85,624.30 177.45,624.70 177.68,624.86 C177.90,625.02 178.48,624.89 178.91,625.11 C179.35,625.33 179.90,625.90 180.28,626.18 C180.66,626.45 180.99,626.51 181.18,626.75 C181.38,627.00 181.37,627.28 181.44,627.68 C181.50,628.08 181.47,628.81 181.56,629.14 C181.65,629.46 181.96,629.30 181.98,629.64 C182.01,629.98 181.69,630.77 181.71,631.18 C181.73,631.60 182.11,631.70 182.11,632.15 C182.11,632.61 181.99,633.42 181.73,633.91 C181.48,634.41 180.88,634.86 180.60,635.13 C180.32,635.41 180.20,635.33 180.07,635.57 C179.95,635.82 179.99,636.23 179.87,636.60 C179.75,636.97 179.71,637.39 179.36,637.81 C179.01,638.24 178.29,638.83 177.79,639.15 C177.29,639.46 176.80,639.63 176.37,639.71 C175.94,639.79 175.45,639.44 175.22,639.64 C174.99,639.85 175.42,640.72 175.00,640.93 C174.58,641.13 173.19,640.71 172.70,640.88 C172.21,641.05 172.47,641.84 172.05,641.94 C171.64,642.03 170.83,641.50 170.21,641.46 C169.59,641.41 168.97,641.67 168.33,641.66 C167.69,641.64 166.83,641.48 166.35,641.39 C165.87,641.29 165.85,641.23 165.46,641.06 C165.07,640.90 164.33,640.47 163.99,640.40 C163.65,640.33 163.70,640.70 163.43,640.64 C163.17,640.58 162.72,640.18 162.39,640.05 C162.06,639.92 161.84,639.93 161.48,639.87 C161.12,639.81 160.56,639.79 160.23,639.68 C159.90,639.58 159.89,639.42 159.49,639.24 C159.08,639.06 158.22,638.74 157.81,638.60 C157.40,638.47 157.10,638.54 157.04,638.43 C156.97,638.32 157.42,638.30 157.39,637.94 C157.36,637.59 157.01,636.60 156.87,636.32 C156.73,636.03 156.56,636.53 156.54,636.24 C156.52,635.94 156.67,635.09 156.75,634.54 C156.83,634.00 156.99,633.22 157.03,632.97Z" fill="none" stroke="#000" stroke-width="0.95" shape-rendering="crispEdges"/>
<path d="M161.17,633.17 C161.13,632.97 161.06,632.81 161.17,632.68 C161.28,632.54 161.55,632.56 161.83,632.36 C162.11,632.16 162.72,631.68 162.85,631.47 C162.97,631.27 162.55,631.26 162.58,631.12 C162.60,630.98 162.80,630.76 162.98,630.62 C163.15,630.49 163.45,630.38 163.61,630.32 C163.77,630.27 163.72,630.39 163.95,630.29 C164.19,630.20 164.64,629.99 165.00,629.75 C165.35,629.50 165.81,629.04 166.07,628.84 C166.34,628.65 166.42,628.76 166.57,628.57 C166.72,628.38 166.73,627.94 166.98,627.72 C167.24,627.49 167.67,627.50 168.11,627.24 C168.55,626.99 169.31,626.45 169.64,626.18 C169.96,625.91 169.80,625.75 170.07,625.64 C170.33,625.52 170.81,625.35 171.22,625.49 C171.64,625.62 172.16,626.43 172.55,626.47 C172.95,626.50 173.23,625.81 173.59,625.70 C173.96,625.60 174.33,625.67 174.73,625.83 C175.14,625.99 175.76,626.55 176.00,626.66 C176.24,626.76 175.91,626.27 176.17,626.44 C176.43,626.61 177.21,627.45 177.54,627.65 C177.87,627.86 177.89,627.62 178.16,627.66 C178.42,627.70 179.07,627.57 179.12,627.90 C179.16,628.22 178.45,629.32 178.42,629.60 C178.40,629.89 178.84,629.27 178.98,629.61 C179.11,629.95 179.19,631.29 179.23,631.66 C179.28,632.03 179.35,631.72 179.25,631.84 C179.14,631.96 178.60,632.07 178.62,632.39 C178.64,632.71 179.28,633.49 179.37,633.78 C179.46,634.08 179.39,633.97 179.16,634.17 C178.92,634.37 178.22,634.74 177.97,635.00 C177.72,635.26 177.82,635.41 177.65,635.72 C177.47,636.04 177.13,636.64 176.91,636.90 C176.69,637.16 176.61,636.92 176.34,637.27 C176.06,637.62 175.57,638.69 175.27,638.99 C174.98,639.29 174.82,638.94 174.58,639.07 C174.34,639.20 174.22,639.58 173.83,639.76 C173.44,639.94 172.74,639.96 172.26,640.14 C171.79,640.33 171.26,640.70 170.96,640.87 C170.66,641.03 170.80,641.18 170.46,641.14 C170.12,641.09 169.57,640.68 168.93,640.60 C168.29,640.52 167.10,640.72 166.64,640.66 C166.18,640.60 166.40,640.39 166.16,640.25 C165.91,640.11 165.38,639.90 165.16,639.81 C164.95,639.72 165.10,639.87 164.87,639.69 C164.64,639.51 163.93,638.99 163.76,638.73 C163.58,638.47 164.04,638.25 163.83,638.12 C163.61,637.98 162.78,637.91 162.46,637.93 C162.15,637.94 161.96,638.30 161.94,638.22 C161.92,638.14 162.49,637.66 162.35,637.45 C162.20,637.24 161.29,637.18 161.06,636.98 C160.83,636.78 160.96,636.39 160.95,636.25 C160.94,636.10 161.01,636.36 160.99,636.10 C160.96,635.84 160.73,635.06 160.79,634.69 C160.86,634.32 161.32,634.14 161.39,633.89 C161.45,633.63 161.20,633.37 161.17,633.17Z" fill="none" stroke="#000" stroke-width="0.95" shape-rendering="crispEdges"/>
<path d="M165.40,633.56 C165.44,633.38 165.61,633.12 165.69,633.02 C165.76,632.91 165.73,632.96 165.84,632.93 C165.96,632.91 166.23,632.91 166.37,632.86 C166.51,632.81 166.62,632.75 166.67,632.64 C166.72,632.53 166.70,632.28 166.67,632.19 C166.64,632.09 166.43,632.14 166.49,632.08 C166.54,632.02 166.84,631.99 166.99,631.82 C167.14,631.65 167.35,631.24 167.38,631.06 C167.42,630.87 167.13,630.99 167.20,630.71 C167.27,630.43 167.67,629.68 167.79,629.39 C167.91,629.10 167.77,629.01 167.93,628.96 C168.09,628.91 168.51,629.27 168.78,629.10 C169.04,628.93 169.17,628.09 169.52,627.94 C169.87,627.79 170.66,628.29 170.88,628.20 C171.10,628.10 170.69,627.46 170.85,627.37 C171.00,627.28 171.38,627.49 171.83,627.67 C172.27,627.85 173.16,628.44 173.51,628.47 C173.86,628.49 173.79,627.85 173.93,627.82 C174.07,627.80 174.21,628.24 174.34,628.32 C174.48,628.39 174.55,628.06 174.74,628.29 C174.92,628.52 175.23,629.52 175.43,629.69 C175.64,629.86 175.86,629.27 175.96,629.31 C176.05,629.36 175.93,629.71 176.01,629.97 C176.09,630.23 176.29,630.54 176.43,630.85 C176.56,631.16 176.92,631.66 176.84,631.83 C176.75,631.99 175.92,631.72 175.93,631.85 C175.95,631.99 176.85,632.42 176.91,632.65 C176.97,632.87 176.35,632.91 176.30,633.20 C176.26,633.49 176.64,634.08 176.62,634.39 C176.61,634.69 176.29,635.01 176.21,635.04 C176.12,635.07 176.11,634.50 176.11,634.58 C176.10,634.66 176.35,635.13 176.16,635.49 C175.97,635.86 175.23,636.52 174.97,636.76 C174.70,637.00 174.62,636.73 174.57,636.92 C174.53,637.10 174.79,637.74 174.70,637.87 C174.61,638.00 174.30,637.63 174.05,637.71 C173.79,637.79 173.42,638.13 173.17,638.38 C172.93,638.63 172.82,639.02 172.57,639.22 C172.32,639.42 172.11,639.48 171.67,639.58 C171.23,639.69 170.29,639.70 169.91,639.85 C169.53,639.99 169.69,640.47 169.40,640.46 C169.12,640.45 168.61,640.09 168.20,639.79 C167.78,639.48 167.12,638.87 166.90,638.65 C166.68,638.43 167.11,638.66 166.89,638.47 C166.68,638.28 165.84,637.66 165.61,637.53 C165.37,637.40 165.35,637.85 165.47,637.71 C165.58,637.57 166.19,636.89 166.30,636.69 C166.40,636.49 166.15,636.47 166.08,636.50 C166.02,636.53 165.94,636.85 165.89,636.86 C165.84,636.87 165.85,636.79 165.78,636.54 C165.71,636.30 165.50,635.54 165.46,635.39 C165.43,635.23 165.64,635.70 165.60,635.63 C165.56,635.56 165.25,635.22 165.21,634.96 C165.18,634.70 165.36,634.24 165.40,634.09 C165.44,633.95 165.46,634.18 165.46,634.09 C165.46,634.00 165.36,633.74 165.40,633.56Z" fill="none" stroke="#000" stroke-width="0.95" shape-rendering="crispEdges"/>
<path d="M187.59,622.00 C187.66,621.83 188.16,622.43 188.51,622.41 C188.86,622.39 189.12,622.02 189.67,621.87 C190.22,621.73 191.29,621.51 191.83,621.52 C192.38,621.53 192.70,621.92 192.95,621.95 C193.20,621.98 193.08,621.82 193.33,621.68 C193.57,621.55 193.97,621.24 194.44,621.15 C194.91,621.05 195.69,621.02 196.14,621.11 C196.60,621.21 197.08,621.80 197.17,621.72 C197.26,621.65 196.48,620.71 196.69,620.67 C196.91,620.63 198.07,621.42 198.46,621.50 C198.86,621.59 198.72,621.19 199.04,621.19 C199.36,621.18 199.85,621.42 200.40,621.46 C200.95,621.50 202.04,621.43 202.35,621.42 C202.65,621.41 202.01,621.40 202.23,621.42 C202.45,621.44 203.25,621.50 203.68,621.54 C204.10,621.58 204.28,621.65 204.78,621.65 C205.28,621.65 206.22,621.54 206.66,621.52 C207.11,621.50 207.22,621.68 207.46,621.51 C207.71,621.34 207.77,620.50 208.14,620.48 C208.52,620.46 209.56,621.19 209.72,621.41 C209.88,621.64 208.95,621.75 209.11,621.84 C209.27,621.92 210.12,621.86 210.69,621.93 C211.26,622.01 212.06,622.01 212.51,622.26 C212.95,622.51 213.25,623.21 213.36,623.44 C213.47,623.66 213.13,623.53 213.14,623.60 C213.16,623.67 213.44,623.55 213.45,623.86 C213.45,624.17 213.31,625.03 213.20,625.46 C213.09,625.90 213.05,626.15 212.80,626.50 C212.56,626.84 212.01,627.31 211.74,627.51 C211.48,627.71 211.56,627.60 211.23,627.69 C210.90,627.78 210.12,627.88 209.77,628.07 C209.43,628.25 209.44,628.70 209.16,628.81 C208.89,628.93 208.70,628.88 208.14,628.78 C207.58,628.68 206.35,628.25 205.81,628.22 C205.26,628.18 205.05,628.51 204.85,628.59 C204.65,628.66 204.73,628.71 204.59,628.65 C204.45,628.59 204.30,628.18 203.99,628.22 C203.67,628.26 203.25,628.67 202.73,628.90 C202.21,629.14 201.38,629.63 200.85,629.63 C200.32,629.64 199.81,629.00 199.55,628.92 C199.28,628.84 199.37,629.13 199.27,629.15 C199.16,629.18 199.18,629.16 198.93,629.08 C198.67,629.00 198.20,628.78 197.72,628.67 C197.23,628.56 196.43,628.40 196.01,628.44 C195.60,628.47 195.48,628.88 195.21,628.88 C194.94,628.87 194.79,628.24 194.39,628.38 C193.99,628.52 193.38,629.59 192.82,629.73 C192.26,629.88 191.31,629.35 191.04,629.26 C190.77,629.16 191.27,629.39 191.19,629.15 C191.12,628.91 190.65,628.26 190.59,627.82 C190.52,627.38 190.91,626.78 190.81,626.50 C190.71,626.22 190.19,626.42 189.99,626.15 C189.79,625.88 189.93,625.17 189.61,624.87 C189.29,624.58 188.32,624.62 188.06,624.38 C187.80,624.14 188.14,623.82 188.06,623.42 C187.98,623.03 187.52,622.17 187.59,622.00Z" fill="none" stroke="#000" stroke-width="0.6" shape-rendering="crispEdges"/>
<path d="M193.58,623.64 C193.73,623.72 193.22,623.85 193.27,623.71 C193.32,623.57 193.62,622.86 193.88,622.79 C194.13,622.71 194.51,623.22 194.80,623.26 C195.09,623.30 195.45,623.03 195.62,623.03 C195.78,623.04 195.69,623.28 195.80,623.27 C195.92,623.27 196.20,623.18 196.30,622.99 C196.40,622.81 196.06,622.29 196.42,622.17 C196.77,622.04 198.11,622.28 198.43,622.24 C198.75,622.20 198.15,621.90 198.33,621.92 C198.51,621.93 199.41,622.27 199.52,622.33 C199.64,622.38 198.76,622.12 199.01,622.24 C199.27,622.35 200.86,622.83 201.06,623.01 C201.25,623.19 200.22,623.40 200.20,623.33 C200.19,623.25 200.60,622.62 200.95,622.57 C201.30,622.53 202.09,622.96 202.32,623.05 C202.55,623.14 202.18,623.13 202.32,623.12 C202.47,623.11 202.75,623.04 203.17,622.98 C203.59,622.92 204.71,622.76 204.85,622.74 C204.99,622.73 203.93,622.78 204.00,622.87 C204.07,622.95 204.86,623.31 205.26,623.25 C205.66,623.20 206.16,622.47 206.38,622.54 C206.61,622.61 206.38,623.45 206.60,623.68 C206.83,623.91 207.54,623.79 207.74,623.91 C207.95,624.04 207.83,624.28 207.81,624.44 C207.80,624.60 207.58,624.80 207.65,624.87 C207.72,624.95 208.33,624.85 208.24,624.90 C208.16,624.95 207.31,625.14 207.11,625.17 C206.92,625.20 207.01,624.87 207.07,625.11 C207.14,625.34 207.61,626.47 207.48,626.58 C207.34,626.70 206.40,625.86 206.26,625.80 C206.11,625.73 206.78,626.01 206.60,626.21 C206.43,626.40 205.45,626.82 205.21,626.98 C204.96,627.15 205.32,627.19 205.14,627.19 C204.95,627.20 204.28,626.96 204.10,627.03 C203.93,627.09 204.35,627.48 204.07,627.58 C203.80,627.68 202.67,627.67 202.45,627.60 C202.23,627.54 203.05,627.35 202.76,627.17 C202.48,627.00 200.96,626.62 200.75,626.57 C200.55,626.51 201.55,626.80 201.54,626.85 C201.52,626.91 201.05,626.89 200.64,626.89 C200.24,626.89 199.29,626.88 199.08,626.86 C198.88,626.83 199.54,626.57 199.40,626.75 C199.25,626.92 198.50,627.92 198.21,627.89 C197.93,627.87 198.00,626.61 197.67,626.61 C197.34,626.62 196.49,627.91 196.22,627.93 C195.95,627.95 196.12,626.75 196.04,626.73 C195.97,626.72 195.98,627.84 195.77,627.85 C195.56,627.87 195.07,626.92 194.78,626.81 C194.49,626.71 194.05,627.36 194.04,627.23 C194.04,627.10 194.67,626.16 194.74,626.02 C194.81,625.89 194.61,626.51 194.46,626.40 C194.32,626.29 194.17,625.58 193.89,625.34 C193.61,625.10 192.92,625.07 192.80,624.95 C192.68,624.84 193.23,624.93 193.16,624.65 C193.08,624.37 192.28,623.41 192.35,623.25 C192.42,623.08 193.43,623.57 193.58,623.64Z" fill="none" stroke="#000" stroke-width="0.6" shape-rendering="crispEdges"/>
<circle cx="231.1" cy="637.8" r="0.55" fill="#222"/>
<circle cx="210.3" cy="633.4" r="0.55" fill="#222"/>
<circle cx="229.6" cy="622.6" r="0.55" fill="#222"/>
<circle cx="196.7" cy="636.6" r="0.55" fill="#222"/>
<circle cx="231.8" cy="628.6" r="0.55" fill="#222"/>
<circle cx="204.5" cy="632.5" r="0.55" fill="#222"/>
<circle cx="216.5" cy="635.4" r="0.55" fill="#222"/>
<circle cx="190.5" cy="631.9" r="0.55" fill="#222"/>
<circle cx="192.9" cy="632.6" r="0.55" fill="#222"/>
<circle cx="201.5" cy="633.9" r="0.55" fill="#222"/>
<circle cx="222.7" cy="623.3" r="0.55" fill="#222"/>
<circle cx="227.7" cy="635.5" r="0.55" fill="#222"/>
<circle cx="227.6" cy="636.6" r="0.55" fill="#222"/>
<circle cx="218.2" cy="629.1" r="0.55" fill="#222"/>
<circle cx="227.0" cy="628.6" r="0.55" fill="#222"/>
<circle cx="211.9" cy="630.3" r="0.55" fill="#222"/>
<circle cx="212.3" cy="631.8" r="0.55" fill="#222"/>
<circle cx="197.7" cy="632.8" r="0.55" fill="#222"/>
<circle cx="219.3" cy="633.5" r="0.55" fill="#222"/>
<circle cx="207.9" cy="624.9" r="0.55" fill="#222"/>
<circle cx="191.2" cy="637.6" r="0.55" fill="#222"/>
<circle cx="212.2" cy="631.2" r="0.55" fill="#222"/>
<path d="M277.79,637.82 C278.39,637.51 278.76,636.65 279.20,636.30 C279.64,635.95 279.87,635.98 280.44,635.74 C281.01,635.50 281.99,635.18 282.63,634.87 C283.26,634.57 283.71,634.23 284.25,633.92 C284.79,633.61 285.23,633.35 285.87,632.99 C286.50,632.63 287.42,631.97 288.08,631.74 C288.74,631.50 289.26,631.70 289.81,631.59 C290.36,631.47 290.71,631.25 291.39,631.04 C292.08,630.83 293.19,630.45 293.93,630.34 C294.67,630.22 295.20,630.41 295.85,630.34 C296.50,630.27 297.31,629.88 297.84,629.91 C298.38,629.94 298.41,630.44 299.06,630.49 C299.71,630.55 301.08,630.32 301.74,630.26 C302.39,630.19 302.36,630.11 302.99,630.13 C303.62,630.14 304.74,630.14 305.50,630.34 C306.26,630.54 307.08,630.96 307.57,631.34 C308.05,631.72 307.96,632.14 308.39,632.59 C308.81,633.04 309.48,633.68 310.12,634.05 C310.76,634.43 311.67,634.47 312.24,634.82 C312.82,635.18 313.19,635.62 313.55,636.19 C313.92,636.76 314.33,637.67 314.43,638.22 C314.53,638.78 314.04,639.00 314.13,639.52 C314.22,640.04 314.97,640.78 314.96,641.35 C314.94,641.91 314.31,642.27 314.06,642.89 C313.82,643.52 313.84,644.41 313.47,645.09 C313.10,645.77 312.22,646.46 311.83,646.99 C311.44,647.52 311.51,647.92 311.14,648.28 C310.78,648.65 310.22,648.77 309.63,649.18 C309.04,649.60 308.15,650.52 307.59,650.79 C307.04,651.06 306.81,650.66 306.32,650.81 C305.83,650.96 305.28,651.25 304.63,651.69 C303.99,652.14 303.07,653.22 302.43,653.46 C301.78,653.69 301.41,653.11 300.76,653.10 C300.12,653.09 299.30,653.20 298.56,653.39 C297.83,653.57 297.06,654.13 296.35,654.20 C295.65,654.27 294.87,653.86 294.32,653.83 C293.77,653.79 293.55,653.97 293.05,654.01 C292.56,654.04 291.94,653.97 291.33,654.06 C290.72,654.15 290.08,654.54 289.39,654.55 C288.69,654.56 287.89,654.27 287.16,654.12 C286.43,653.97 285.63,653.84 285.01,653.63 C284.39,653.43 284.07,653.06 283.44,652.89 C282.80,652.73 281.89,652.87 281.19,652.65 C280.48,652.44 279.76,651.92 279.20,651.61 C278.65,651.30 278.40,651.05 277.88,650.80 C277.36,650.55 276.68,650.56 276.06,650.12 C275.45,649.67 274.77,648.58 274.19,648.15 C273.61,647.72 273.07,647.88 272.58,647.51 C272.09,647.15 271.62,646.38 271.26,645.97 C270.90,645.57 270.64,645.64 270.42,645.08 C270.20,644.52 269.89,643.27 269.95,642.61 C270.02,641.95 270.49,641.55 270.83,641.14 C271.17,640.72 271.46,640.49 271.98,640.12 C272.50,639.75 273.35,639.23 273.96,638.90 C274.56,638.58 274.98,638.37 275.62,638.19 C276.26,638.01 277.20,638.14 277.79,637.82Z" fill="none" stroke="#000" stroke-width="0.95" shape-rendering="crispEdges"/>
<path d="M281.04,638.34 C281.55,638.18 281.72,638.42 282.17,638.15 C282.62,637.88 283.31,637.10 283.73,636.70 C284.16,636.31 284.38,636.05 284.74,635.78 C285.10,635.51 285.40,635.26 285.89,635.06 C286.38,634.87 287.23,634.99 287.69,634.63 C288.14,634.27 288.19,633.26 288.64,632.90 C289.10,632.55 289.92,632.52 290.42,632.50 C290.92,632.49 291.15,632.82 291.65,632.80 C292.15,632.78 292.80,632.47 293.41,632.38 C294.03,632.29 294.65,632.45 295.34,632.29 C296.02,632.12 296.98,631.37 297.51,631.39 C298.04,631.42 298.02,632.33 298.53,632.45 C299.04,632.57 299.95,632.08 300.59,632.12 C301.23,632.17 301.85,632.65 302.35,632.73 C302.86,632.81 303.25,632.53 303.62,632.60 C304.00,632.67 304.24,632.84 304.62,633.14 C305.01,633.45 305.42,634.12 305.92,634.42 C306.42,634.73 307.12,634.71 307.61,634.96 C308.09,635.21 308.52,635.51 308.84,635.93 C309.15,636.34 309.24,636.94 309.50,637.48 C309.76,638.01 310.17,638.65 310.42,639.15 C310.66,639.66 310.92,640.00 310.96,640.50 C311.00,641.00 310.82,641.68 310.65,642.16 C310.49,642.63 310.06,642.87 309.98,643.36 C309.90,643.85 310.25,644.64 310.16,645.09 C310.08,645.55 309.75,645.62 309.49,646.09 C309.23,646.55 309.06,647.42 308.61,647.88 C308.16,648.35 307.19,648.66 306.79,648.88 C306.39,649.09 306.57,648.98 306.22,649.17 C305.88,649.36 305.29,649.67 304.72,649.99 C304.15,650.31 303.40,650.75 302.81,651.09 C302.21,651.42 301.53,651.88 301.14,652.01 C300.74,652.13 300.84,651.84 300.44,651.83 C300.03,651.81 299.31,651.83 298.72,651.92 C298.13,652.01 297.48,652.23 296.90,652.36 C296.33,652.49 295.83,652.68 295.26,652.69 C294.69,652.69 294.19,652.30 293.48,652.39 C292.76,652.48 291.55,653.18 290.95,653.23 C290.35,653.28 290.41,652.93 289.86,652.70 C289.31,652.48 288.23,652.11 287.66,651.87 C287.10,651.63 286.80,651.34 286.46,651.28 C286.11,651.22 285.97,651.57 285.57,651.53 C285.17,651.48 284.65,651.27 284.05,651.01 C283.46,650.75 282.49,650.27 282.00,649.96 C281.51,649.64 281.50,649.39 281.13,649.14 C280.76,648.89 280.20,648.82 279.77,648.48 C279.34,648.14 279.03,647.41 278.56,647.09 C278.10,646.77 277.45,646.80 277.00,646.55 C276.54,646.30 276.11,645.99 275.82,645.58 C275.53,645.17 275.38,644.54 275.26,644.09 C275.13,643.63 275.02,643.32 275.06,642.83 C275.10,642.34 275.23,641.50 275.48,641.16 C275.74,640.82 276.08,641.00 276.59,640.79 C277.10,640.58 278.14,640.21 278.56,639.92 C278.98,639.64 278.69,639.35 279.10,639.08 C279.51,638.82 280.52,638.49 281.04,638.34Z" fill="none" stroke="#000" stroke-width="0.95" shape-rendering="crispEdges"/>
<path d="M283.59,639.57 C283.92,639.30 284.71,639.14 284.99,638.85 C285.27,638.57 285.05,638.14 285.29,637.86 C285.53,637.59 286.07,637.35 286.43,637.20 C286.79,637.05 287.08,637.18 287.46,636.95 C287.83,636.72 288.27,636.12 288.70,635.81 C289.13,635.49 289.58,635.31 290.04,635.05 C290.50,634.80 291.00,634.40 291.44,634.30 C291.88,634.21 292.33,634.57 292.70,634.49 C293.06,634.41 293.20,634.06 293.63,633.82 C294.07,633.58 294.83,633.05 295.29,633.04 C295.75,633.04 295.95,633.63 296.37,633.78 C296.80,633.94 297.38,633.94 297.84,633.95 C298.31,633.97 298.74,633.82 299.15,633.89 C299.57,633.96 299.81,634.29 300.33,634.37 C300.84,634.45 301.79,634.14 302.25,634.36 C302.71,634.57 302.82,635.37 303.07,635.66 C303.32,635.94 303.41,635.79 303.74,636.07 C304.07,636.34 304.80,637.00 305.07,637.32 C305.34,637.63 305.18,637.80 305.36,637.96 C305.54,638.11 305.79,638.01 306.12,638.23 C306.46,638.45 307.15,638.79 307.40,639.28 C307.64,639.77 307.59,640.66 307.61,641.17 C307.63,641.68 307.60,642.02 307.51,642.32 C307.43,642.62 307.27,642.70 307.10,642.98 C306.93,643.26 306.59,643.56 306.48,644.02 C306.37,644.48 306.54,645.36 306.45,645.74 C306.35,646.13 306.16,646.11 305.89,646.34 C305.62,646.57 305.14,646.78 304.84,647.11 C304.54,647.44 304.36,648.00 304.11,648.32 C303.85,648.65 303.68,648.78 303.32,649.05 C302.96,649.31 302.46,649.66 301.94,649.90 C301.41,650.14 300.70,650.37 300.19,650.50 C299.67,650.63 299.28,650.51 298.83,650.70 C298.38,650.90 297.99,651.46 297.50,651.66 C297.01,651.86 296.27,651.93 295.90,651.92 C295.53,651.91 295.64,651.70 295.26,651.58 C294.88,651.46 294.25,651.29 293.62,651.21 C293.00,651.12 292.09,651.15 291.50,651.07 C290.91,650.99 290.40,650.86 290.08,650.73 C289.75,650.61 289.88,650.44 289.56,650.31 C289.24,650.18 288.64,650.09 288.14,649.98 C287.64,649.86 287.01,649.67 286.58,649.63 C286.15,649.58 285.89,649.83 285.59,649.71 C285.29,649.59 285.04,649.14 284.80,648.89 C284.55,648.64 284.37,648.51 284.11,648.20 C283.85,647.89 283.56,647.24 283.23,647.01 C282.89,646.79 282.41,647.06 282.11,646.83 C281.81,646.60 281.55,645.92 281.42,645.61 C281.29,645.30 281.37,645.21 281.30,644.99 C281.24,644.76 281.15,644.71 281.01,644.28 C280.86,643.86 280.50,642.86 280.44,642.44 C280.38,642.03 280.43,642.00 280.65,641.81 C280.86,641.62 281.43,641.45 281.72,641.32 C282.01,641.19 282.16,641.17 282.37,641.03 C282.58,640.89 282.77,640.71 282.97,640.46 C283.17,640.22 283.25,639.84 283.59,639.57Z" fill="none" stroke="#000" stroke-width="0.95" shape-rendering="crispEdges"/>
<path d="M287.13,640.06 C287.31,640.01 287.46,640.35 287.62,640.17 C287.77,640.00 288.00,639.34 288.07,638.99 C288.15,638.65 287.93,638.24 288.07,638.09 C288.20,637.94 288.61,638.35 288.88,638.08 C289.14,637.81 289.40,636.86 289.67,636.49 C289.95,636.13 290.16,635.96 290.53,635.89 C290.89,635.82 291.41,636.23 291.88,636.07 C292.35,635.92 292.98,635.20 293.33,634.98 C293.69,634.76 293.60,634.68 294.01,634.74 C294.41,634.80 295.33,635.20 295.75,635.33 C296.18,635.47 296.23,635.50 296.55,635.55 C296.87,635.60 297.33,635.63 297.69,635.63 C298.04,635.64 298.28,635.44 298.68,635.57 C299.09,635.71 299.80,636.22 300.11,636.44 C300.41,636.65 300.31,636.71 300.51,636.86 C300.71,637.01 301.15,637.26 301.29,637.34 C301.43,637.43 301.24,637.18 301.36,637.39 C301.48,637.59 301.70,638.33 301.99,638.57 C302.28,638.81 302.89,638.67 303.12,638.81 C303.35,638.95 303.26,639.08 303.37,639.43 C303.49,639.78 303.82,640.48 303.82,640.91 C303.83,641.33 303.36,641.80 303.41,641.97 C303.45,642.15 304.05,641.83 304.08,641.97 C304.12,642.11 303.66,642.39 303.61,642.80 C303.55,643.20 303.88,644.10 303.78,644.39 C303.68,644.68 303.09,644.25 302.98,644.53 C302.87,644.81 303.17,645.80 303.13,646.10 C303.09,646.40 303.02,646.15 302.76,646.32 C302.50,646.49 301.83,646.84 301.58,647.13 C301.33,647.41 301.44,647.76 301.28,648.02 C301.12,648.29 300.83,648.48 300.64,648.70 C300.45,648.91 300.41,649.19 300.15,649.33 C299.90,649.46 299.62,649.29 299.10,649.49 C298.57,649.70 297.58,650.31 297.02,650.56 C296.46,650.81 296.11,651.05 295.74,650.99 C295.37,650.93 295.20,650.22 294.79,650.18 C294.38,650.14 293.72,650.72 293.29,650.76 C292.85,650.80 292.61,650.52 292.20,650.43 C291.79,650.35 291.18,650.36 290.84,650.23 C290.49,650.11 290.42,649.90 290.13,649.69 C289.83,649.48 289.30,649.22 289.06,648.97 C288.81,648.71 288.90,648.36 288.65,648.17 C288.40,647.98 287.70,648.01 287.56,647.80 C287.42,647.60 287.91,647.19 287.80,646.93 C287.69,646.67 287.04,646.30 286.90,646.23 C286.77,646.17 287.10,646.67 287.00,646.54 C286.89,646.40 286.56,645.77 286.27,645.43 C285.98,645.09 285.40,644.62 285.28,644.48 C285.17,644.35 285.50,644.69 285.56,644.61 C285.62,644.53 285.72,644.35 285.63,644.03 C285.54,643.70 285.09,642.96 285.02,642.64 C284.94,642.31 285.10,642.13 285.19,642.05 C285.28,641.98 285.45,642.23 285.56,642.19 C285.67,642.16 285.69,642.15 285.85,641.86 C286.01,641.57 286.31,640.76 286.52,640.46 C286.73,640.16 286.95,640.10 287.13,640.06Z" fill="none" stroke="#000" stroke-width="0.95" shape-rendering="crispEdges"/>
<path d="M289.29,641.29 C289.39,641.08 289.23,640.33 289.31,640.12 C289.40,639.92 289.72,640.22 289.79,640.05 C289.87,639.87 289.78,639.39 289.77,639.09 C289.75,638.79 289.59,638.46 289.70,638.26 C289.81,638.06 290.21,638.08 290.45,637.87 C290.68,637.66 290.75,637.12 291.09,636.99 C291.43,636.87 292.06,637.24 292.48,637.11 C292.90,636.98 293.26,636.33 293.59,636.21 C293.93,636.08 294.27,636.28 294.48,636.34 C294.70,636.41 294.60,636.63 294.88,636.58 C295.16,636.53 295.81,635.95 296.14,636.03 C296.48,636.11 296.63,636.92 296.90,637.07 C297.16,637.22 297.43,636.89 297.73,636.94 C298.04,636.99 298.44,637.27 298.71,637.37 C298.98,637.48 299.19,637.36 299.34,637.57 C299.48,637.77 299.43,638.31 299.57,638.58 C299.72,638.85 300.09,638.99 300.19,639.20 C300.29,639.40 300.02,639.64 300.18,639.81 C300.34,639.99 301.00,640.01 301.14,640.22 C301.28,640.44 301.06,640.96 301.00,641.11 C300.94,641.26 300.67,641.00 300.77,641.11 C300.87,641.22 301.54,641.54 301.60,641.76 C301.65,641.97 301.10,642.19 301.11,642.42 C301.13,642.65 301.62,642.99 301.69,643.14 C301.77,643.30 301.70,643.14 301.56,643.37 C301.42,643.59 300.99,644.20 300.85,644.50 C300.72,644.80 300.75,645.08 300.74,645.19 C300.72,645.30 300.86,644.99 300.75,645.14 C300.64,645.30 300.20,645.87 300.10,646.10 C300.00,646.33 300.28,646.35 300.16,646.50 C300.04,646.66 299.62,646.78 299.38,647.03 C299.14,647.29 298.94,647.73 298.72,648.05 C298.50,648.36 298.27,648.67 298.08,648.92 C297.89,649.17 297.87,649.47 297.58,649.56 C297.29,649.66 296.78,649.40 296.32,649.48 C295.87,649.56 295.22,650.04 294.85,650.02 C294.48,650.01 294.52,649.58 294.08,649.39 C293.64,649.19 292.57,648.89 292.20,648.86 C291.82,648.83 292.08,649.26 291.83,649.21 C291.58,649.15 290.92,648.74 290.72,648.54 C290.53,648.35 290.68,648.34 290.64,648.04 C290.59,647.73 290.56,647.02 290.46,646.72 C290.36,646.42 290.26,646.35 290.04,646.24 C289.81,646.13 289.25,646.22 289.13,646.05 C289.00,645.88 289.32,645.42 289.28,645.21 C289.24,645.00 289.00,644.96 288.89,644.80 C288.78,644.64 288.70,644.39 288.62,644.25 C288.54,644.11 288.42,644.02 288.43,643.94 C288.43,643.86 288.58,643.83 288.67,643.76 C288.77,643.69 288.99,643.70 289.01,643.53 C289.03,643.36 288.80,642.97 288.79,642.75 C288.78,642.53 288.98,642.35 288.93,642.20 C288.89,642.04 288.50,641.95 288.52,641.84 C288.54,641.73 289.02,641.62 289.05,641.55 C289.07,641.48 288.63,641.44 288.67,641.40 C288.71,641.36 289.18,641.50 289.29,641.29Z" fill="none" stroke="#000" stroke-width="0.95" shape-rendering="crispEdges"/>
<path d="M43.62,739.95 C43.68,739.44 44.85,739.21 45.35,738.94 C45.85,738.66 46.27,738.54 46.63,738.30 C47.00,738.06 47.17,737.81 47.55,737.51 C47.94,737.21 48.44,736.83 48.93,736.50 C49.43,736.18 49.94,735.68 50.52,735.54 C51.11,735.41 51.92,735.86 52.45,735.69 C52.99,735.51 53.17,734.67 53.73,734.49 C54.28,734.31 55.20,734.79 55.80,734.62 C56.40,734.45 56.77,733.88 57.32,733.47 C57.86,733.05 58.57,732.47 59.07,732.11 C59.56,731.76 59.98,731.66 60.30,731.35 C60.62,731.05 60.56,730.39 60.98,730.28 C61.39,730.17 62.24,730.72 62.80,730.71 C63.36,730.70 63.72,730.37 64.33,730.20 C64.94,730.04 65.83,729.90 66.45,729.72 C67.06,729.55 67.56,729.26 68.02,729.14 C68.47,729.03 68.63,728.90 69.19,729.02 C69.75,729.13 70.80,729.57 71.37,729.84 C71.93,730.11 72.07,730.45 72.55,730.64 C73.03,730.84 73.68,730.73 74.25,731.00 C74.81,731.26 75.64,731.80 75.96,732.23 C76.28,732.67 75.96,733.08 76.16,733.61 C76.37,734.14 76.86,734.96 77.20,735.42 C77.53,735.87 77.83,735.96 78.15,736.33 C78.47,736.71 78.94,737.09 79.12,737.68 C79.30,738.27 79.19,739.29 79.21,739.87 C79.24,740.44 79.41,740.65 79.26,741.13 C79.12,741.62 78.51,742.28 78.35,742.79 C78.18,743.29 78.40,743.74 78.27,744.17 C78.14,744.60 77.85,744.89 77.56,745.38 C77.26,745.86 76.85,746.59 76.51,747.09 C76.17,747.60 75.79,747.86 75.52,748.40 C75.26,748.93 75.31,749.89 74.91,750.32 C74.52,750.75 73.77,750.71 73.17,750.98 C72.57,751.24 71.78,751.55 71.33,751.90 C70.88,752.26 70.84,752.86 70.49,753.09 C70.14,753.31 69.76,753.02 69.24,753.27 C68.72,753.51 68.00,754.27 67.37,754.54 C66.74,754.81 66.03,754.85 65.46,754.90 C64.89,754.94 64.50,754.68 63.95,754.82 C63.40,754.95 62.74,755.63 62.18,755.73 C61.62,755.82 61.07,755.46 60.60,755.38 C60.13,755.30 59.87,755.47 59.36,755.26 C58.85,755.04 58.02,754.33 57.55,754.08 C57.07,753.83 56.88,753.96 56.51,753.76 C56.14,753.57 55.83,753.31 55.32,752.92 C54.82,752.53 54.00,751.75 53.49,751.40 C52.98,751.05 52.59,751.20 52.27,750.80 C51.96,750.40 52.04,749.46 51.58,748.99 C51.12,748.53 50.03,748.32 49.50,748.00 C48.97,747.68 48.71,747.45 48.39,747.05 C48.08,746.64 48.04,746.00 47.63,745.57 C47.22,745.14 46.33,744.84 45.92,744.48 C45.51,744.11 45.32,743.78 45.16,743.37 C45.01,742.96 45.24,742.57 44.98,742.00 C44.73,741.43 43.56,740.46 43.62,739.95Z" fill="none" stroke="#000" stroke-width="0.95" shape-rendering="crispEdges"/>
<path d="M47.68,740.58 C47.72,740.14 48.52,739.47 48.96,739.24 C49.40,739.01 49.90,739.32 50.31,739.18 C50.71,739.04 51.11,738.73 51.41,738.41 C51.70,738.08 51.78,737.46 52.06,737.21 C52.33,736.96 52.66,737.14 53.03,736.91 C53.40,736.68 53.82,736.07 54.26,735.82 C54.71,735.56 55.22,735.56 55.69,735.38 C56.17,735.20 56.72,734.92 57.12,734.74 C57.52,734.55 57.71,734.47 58.08,734.28 C58.45,734.10 58.94,733.79 59.33,733.61 C59.72,733.44 59.94,733.56 60.42,733.25 C60.90,732.94 61.74,732.01 62.21,731.75 C62.69,731.49 62.84,731.78 63.28,731.69 C63.71,731.60 64.24,731.19 64.82,731.22 C65.40,731.25 66.25,731.87 66.75,731.86 C67.25,731.84 67.45,731.35 67.80,731.13 C68.16,730.91 68.41,730.53 68.85,730.55 C69.30,730.57 69.89,731.04 70.46,731.22 C71.03,731.41 71.90,731.38 72.29,731.68 C72.68,731.98 72.45,732.82 72.81,733.04 C73.18,733.25 74.10,732.78 74.49,732.96 C74.89,733.14 74.96,733.55 75.18,734.12 C75.40,734.69 75.56,735.82 75.83,736.36 C76.10,736.91 76.65,737.05 76.82,737.38 C76.98,737.72 76.75,737.91 76.82,738.37 C76.90,738.83 77.10,739.60 77.28,740.12 C77.46,740.63 77.94,741.10 77.90,741.44 C77.87,741.79 77.22,741.70 77.05,742.16 C76.88,742.63 77.01,743.69 76.87,744.21 C76.73,744.74 76.46,744.93 76.22,745.32 C75.98,745.70 75.79,746.14 75.43,746.51 C75.08,746.88 74.41,747.24 74.08,747.53 C73.74,747.83 73.79,747.97 73.43,748.28 C73.07,748.58 72.33,748.97 71.91,749.34 C71.49,749.72 71.16,750.24 70.90,750.52 C70.64,750.80 70.65,750.73 70.35,751.03 C70.05,751.33 69.50,752.08 69.09,752.30 C68.68,752.53 68.42,752.33 67.87,752.40 C67.33,752.47 66.40,752.63 65.81,752.71 C65.23,752.79 64.77,752.71 64.37,752.89 C63.97,753.06 63.75,753.68 63.39,753.77 C63.03,753.87 62.66,753.57 62.22,753.47 C61.78,753.36 61.30,753.33 60.75,753.15 C60.20,752.97 59.29,752.58 58.91,752.36 C58.53,752.15 58.77,752.09 58.47,751.83 C58.16,751.58 57.59,751.09 57.09,750.82 C56.58,750.55 55.86,750.46 55.43,750.21 C55.00,749.96 54.73,749.68 54.50,749.30 C54.28,748.93 54.42,748.26 54.07,747.98 C53.73,747.70 52.82,747.98 52.44,747.62 C52.06,747.25 52.17,746.29 51.81,745.81 C51.45,745.33 50.57,744.98 50.30,744.74 C50.02,744.49 50.47,744.57 50.17,744.33 C49.87,744.10 48.75,743.71 48.51,743.30 C48.26,742.89 48.86,742.34 48.73,741.89 C48.59,741.43 47.64,741.03 47.68,740.58Z" fill="none" stroke="#000" stroke-width="0.95" shape-rendering="crispEdges"/>
<path d="M51.37,740.68 C51.42,740.39 51.61,739.71 52.00,739.52 C52.38,739.32 53.33,739.58 53.68,739.51 C54.03,739.45 53.90,739.33 54.09,739.15 C54.29,738.97 54.51,738.74 54.86,738.43 C55.22,738.12 55.93,737.56 56.22,737.31 C56.51,737.06 56.39,737.03 56.63,736.94 C56.86,736.85 57.27,736.90 57.61,736.76 C57.95,736.62 58.32,736.22 58.64,736.11 C58.97,736.00 59.21,736.31 59.55,736.10 C59.90,735.90 60.33,735.14 60.73,734.89 C61.12,734.64 61.59,734.76 61.93,734.60 C62.27,734.44 62.43,734.17 62.79,733.96 C63.14,733.75 63.64,733.55 64.06,733.32 C64.48,733.09 64.90,732.71 65.29,732.59 C65.69,732.46 66.11,732.49 66.43,732.56 C66.75,732.63 66.85,733.01 67.21,733.01 C67.57,733.01 68.07,732.55 68.58,732.56 C69.09,732.56 69.87,732.90 70.27,733.06 C70.68,733.22 70.66,733.30 71.00,733.50 C71.35,733.70 72.03,734.07 72.34,734.26 C72.66,734.45 72.66,734.47 72.87,734.66 C73.08,734.86 73.30,735.08 73.60,735.43 C73.91,735.77 74.46,736.29 74.70,736.74 C74.94,737.18 74.85,737.73 75.05,738.08 C75.24,738.44 75.73,738.55 75.90,738.88 C76.06,739.22 76.00,739.67 76.04,740.08 C76.08,740.50 76.21,741.01 76.14,741.38 C76.06,741.75 75.76,741.89 75.59,742.30 C75.41,742.70 75.23,743.38 75.09,743.80 C74.95,744.23 74.87,744.59 74.75,744.84 C74.63,745.08 74.60,744.93 74.36,745.29 C74.12,745.66 73.56,746.71 73.32,747.03 C73.08,747.36 73.27,747.05 72.92,747.25 C72.56,747.46 71.66,748.02 71.19,748.26 C70.72,748.50 70.44,748.45 70.08,748.70 C69.72,748.95 69.26,749.43 69.02,749.74 C68.79,750.05 69.01,750.35 68.67,750.55 C68.34,750.74 67.38,750.90 67.01,750.92 C66.63,750.94 66.66,750.56 66.40,750.68 C66.14,750.80 65.91,751.46 65.45,751.64 C64.99,751.81 64.09,751.79 63.63,751.74 C63.17,751.69 62.91,751.43 62.68,751.33 C62.44,751.23 62.60,751.33 62.21,751.15 C61.83,750.96 60.77,750.47 60.34,750.21 C59.92,749.94 60.00,749.77 59.67,749.56 C59.34,749.35 58.64,749.22 58.36,748.94 C58.09,748.66 58.24,748.11 58.01,747.88 C57.78,747.64 57.38,747.74 56.98,747.53 C56.58,747.33 55.87,746.90 55.60,746.66 C55.33,746.42 55.63,746.24 55.37,746.08 C55.12,745.92 54.29,745.92 54.07,745.71 C53.86,745.50 54.32,745.24 54.09,744.83 C53.87,744.42 53.07,743.58 52.71,743.26 C52.36,742.95 52.13,743.26 51.96,742.93 C51.80,742.59 51.83,741.65 51.73,741.27 C51.63,740.90 51.33,740.97 51.37,740.68Z" fill="none" stroke="#000" stroke-width="0.95" shape-rendering="crispEdges"/>
<path d="M55.30,741.21 C55.37,740.94 56.12,740.24 56.27,740.08 C56.41,739.92 56.02,740.34 56.17,740.25 C56.32,740.16 56.99,739.84 57.17,739.52 C57.36,739.21 57.06,738.55 57.29,738.36 C57.52,738.16 58.33,738.33 58.55,738.35 C58.77,738.37 58.40,738.54 58.62,738.47 C58.84,738.40 59.65,738.08 59.89,737.93 C60.13,737.78 59.92,737.70 60.07,737.56 C60.23,737.42 60.51,737.38 60.83,737.12 C61.14,736.85 61.63,736.16 61.97,735.96 C62.30,735.76 62.62,736.16 62.85,735.94 C63.09,735.71 63.11,734.85 63.40,734.61 C63.69,734.37 64.32,734.55 64.62,734.48 C64.91,734.41 64.93,734.27 65.19,734.20 C65.44,734.14 65.77,734.11 66.13,734.09 C66.50,734.07 66.95,734.10 67.39,734.09 C67.84,734.07 68.46,733.99 68.81,734.01 C69.16,734.03 69.24,734.15 69.48,734.23 C69.72,734.30 69.99,734.35 70.25,734.46 C70.50,734.57 70.69,734.63 71.04,734.88 C71.38,735.12 72.09,735.64 72.30,735.94 C72.50,736.24 72.06,736.47 72.26,736.68 C72.46,736.89 73.23,736.89 73.50,737.18 C73.76,737.46 73.77,737.97 73.83,738.40 C73.90,738.82 73.86,739.39 73.91,739.71 C73.95,740.03 74.02,739.98 74.13,740.31 C74.24,740.64 74.61,741.34 74.57,741.69 C74.53,742.04 74.01,742.18 73.89,742.42 C73.78,742.66 74.00,742.91 73.88,743.13 C73.75,743.35 73.40,743.54 73.14,743.76 C72.87,743.97 72.51,744.07 72.28,744.43 C72.04,744.79 71.89,745.62 71.73,745.91 C71.58,746.19 71.57,745.90 71.33,746.15 C71.10,746.40 70.52,747.14 70.34,747.41 C70.16,747.68 70.51,747.69 70.25,747.76 C69.99,747.82 69.17,747.69 68.78,747.80 C68.39,747.92 68.23,748.28 67.92,748.44 C67.62,748.61 67.23,748.63 66.94,748.81 C66.65,749.00 66.33,749.48 66.16,749.55 C65.99,749.61 66.24,749.18 65.94,749.20 C65.63,749.22 64.71,749.69 64.30,749.67 C63.89,749.64 63.82,749.22 63.49,749.05 C63.17,748.88 62.60,748.78 62.35,748.66 C62.11,748.55 62.25,748.48 62.01,748.35 C61.78,748.22 61.28,748.10 60.95,747.90 C60.61,747.70 60.26,747.37 60.00,747.17 C59.75,746.97 59.63,746.94 59.42,746.70 C59.20,746.45 58.90,745.94 58.72,745.71 C58.55,745.48 58.48,745.42 58.36,745.31 C58.25,745.19 58.16,745.14 58.05,745.00 C57.93,744.86 57.83,744.63 57.68,744.46 C57.53,744.30 57.37,744.29 57.15,744.01 C56.93,743.73 56.46,743.14 56.34,742.80 C56.23,742.45 56.55,742.15 56.47,741.97 C56.40,741.78 56.09,741.83 55.90,741.70 C55.70,741.58 55.24,741.48 55.30,741.21Z" fill="none" stroke="#000" stroke-width="0.95" shape-rendering="crispEdges"/>
<path d="M58.79,741.30 C58.79,741.17 59.71,740.88 59.92,740.77 C60.14,740.65 60.09,740.74 60.06,740.61 C60.04,740.47 59.71,740.07 59.78,739.95 C59.85,739.83 60.24,739.94 60.47,739.88 C60.70,739.82 61.00,739.66 61.14,739.57 C61.27,739.48 61.19,739.45 61.30,739.32 C61.42,739.19 61.73,739.04 61.82,738.78 C61.91,738.51 61.75,737.93 61.82,737.74 C61.89,737.56 62.08,737.69 62.24,737.68 C62.39,737.66 62.50,737.76 62.76,737.64 C63.02,737.52 63.52,737.13 63.81,736.95 C64.11,736.78 64.31,736.81 64.53,736.60 C64.74,736.39 64.83,735.75 65.11,735.69 C65.39,735.64 65.92,736.22 66.19,736.26 C66.45,736.30 66.44,736.07 66.68,735.93 C66.91,735.79 67.32,735.47 67.61,735.41 C67.90,735.36 68.28,735.53 68.43,735.61 C68.58,735.68 68.25,735.78 68.49,735.86 C68.72,735.94 69.51,735.88 69.85,736.10 C70.19,736.33 70.36,737.07 70.52,737.23 C70.69,737.38 70.73,736.93 70.86,737.05 C70.98,737.17 71.09,737.70 71.27,737.95 C71.45,738.19 71.81,738.41 71.96,738.53 C72.11,738.65 72.18,738.51 72.19,738.68 C72.19,738.85 71.88,739.29 71.98,739.57 C72.08,739.85 72.67,740.15 72.79,740.34 C72.91,740.54 72.84,740.52 72.71,740.74 C72.58,740.97 72.08,741.33 72.02,741.68 C71.97,742.03 72.39,742.57 72.40,742.82 C72.41,743.06 72.23,742.95 72.09,743.15 C71.95,743.35 71.72,743.83 71.54,744.03 C71.36,744.24 71.13,744.19 71.04,744.36 C70.94,744.53 71.08,744.74 70.97,745.05 C70.87,745.37 70.79,746.07 70.42,746.25 C70.05,746.44 69.03,746.05 68.77,746.18 C68.51,746.30 69.03,746.95 68.87,747.02 C68.71,747.09 68.14,746.51 67.82,746.59 C67.49,746.66 67.18,747.37 66.92,747.48 C66.66,747.58 66.49,747.27 66.26,747.22 C66.02,747.17 65.60,747.24 65.50,747.17 C65.40,747.09 65.75,746.76 65.65,746.75 C65.56,746.73 65.12,747.02 64.91,747.05 C64.69,747.09 64.66,746.99 64.37,746.95 C64.07,746.91 63.38,747.04 63.13,746.82 C62.87,746.59 63.04,745.78 62.83,745.59 C62.61,745.40 62.00,745.77 61.83,745.68 C61.66,745.59 61.94,745.21 61.82,745.04 C61.69,744.86 61.24,744.68 61.08,744.62 C60.92,744.56 61.01,744.74 60.86,744.66 C60.71,744.57 60.20,744.39 60.18,744.12 C60.15,743.84 60.64,743.17 60.69,743.01 C60.75,742.84 60.58,743.25 60.49,743.12 C60.41,742.99 60.38,742.44 60.20,742.23 C60.02,742.02 59.48,741.99 59.42,741.88 C59.37,741.77 59.99,741.66 59.89,741.56 C59.78,741.47 58.78,741.43 58.79,741.30Z" fill="none" stroke="#000" stroke-width="0.95" shape-rendering="crispEdges"/>
<path d="M62.96,741.06 C62.91,740.88 62.93,740.50 62.89,740.50 C62.85,740.51 62.73,741.01 62.74,741.09 C62.75,741.17 62.92,741.14 62.96,740.97 C63.00,740.80 62.92,740.26 62.98,740.05 C63.04,739.85 63.26,739.72 63.31,739.76 C63.36,739.79 63.17,740.26 63.27,740.28 C63.36,740.29 63.81,739.96 63.91,739.85 C64.00,739.74 63.75,739.79 63.83,739.64 C63.91,739.48 64.27,739.19 64.38,738.93 C64.50,738.66 64.42,738.18 64.51,738.04 C64.61,737.90 64.79,738.10 64.94,738.09 C65.09,738.09 65.34,738.15 65.42,738.00 C65.50,737.85 65.24,737.34 65.44,737.19 C65.64,737.04 66.41,737.10 66.62,737.11 C66.84,737.12 66.65,737.16 66.74,737.25 C66.82,737.34 66.86,737.65 67.12,737.65 C67.38,737.65 68.08,737.29 68.31,737.25 C68.54,737.22 68.40,737.36 68.50,737.44 C68.60,737.52 68.82,737.69 68.89,737.75 C68.97,737.81 68.87,737.62 68.95,737.80 C69.03,737.98 69.20,738.73 69.37,738.86 C69.55,738.98 69.78,738.39 70.01,738.54 C70.23,738.69 70.64,739.61 70.73,739.75 C70.81,739.89 70.57,739.37 70.53,739.38 C70.48,739.40 70.42,739.68 70.45,739.85 C70.48,740.01 70.67,740.17 70.71,740.36 C70.74,740.55 70.60,740.72 70.64,741.01 C70.68,741.30 70.88,741.93 70.95,742.12 C71.01,742.31 71.10,742.05 71.03,742.17 C70.96,742.29 70.65,742.66 70.51,742.83 C70.37,743.00 70.37,743.05 70.20,743.17 C70.04,743.30 69.57,743.48 69.54,743.60 C69.51,743.71 70.12,743.67 70.05,743.85 C69.98,744.03 69.31,744.58 69.13,744.70 C68.95,744.82 69.20,744.55 68.99,744.56 C68.78,744.58 68.12,744.70 67.88,744.79 C67.63,744.88 67.55,744.97 67.51,745.10 C67.46,745.22 67.67,745.61 67.60,745.55 C67.53,745.48 67.37,744.74 67.07,744.71 C66.77,744.68 65.92,745.29 65.78,745.34 C65.65,745.39 66.28,745.16 66.24,745.00 C66.21,744.84 65.78,744.37 65.58,744.40 C65.37,744.42 65.08,745.06 65.00,745.14 C64.92,745.21 65.10,745.04 65.08,744.84 C65.07,744.65 65.13,744.19 64.91,743.99 C64.69,743.78 63.93,743.65 63.77,743.62 C63.60,743.60 63.87,743.86 63.93,743.85 C63.99,743.85 64.18,743.68 64.13,743.59 C64.09,743.50 63.80,743.45 63.67,743.33 C63.54,743.20 63.49,742.91 63.34,742.82 C63.20,742.72 62.89,742.79 62.82,742.75 C62.75,742.71 62.85,742.77 62.93,742.60 C63.01,742.43 63.32,741.91 63.29,741.71 C63.26,741.52 62.75,741.43 62.74,741.41 C62.74,741.39 63.20,741.65 63.24,741.59 C63.27,741.53 63.02,741.24 62.96,741.06Z" fill="none" stroke="#000" stroke-width="0.95" shape-rendering="crispEdges"/>
<path d="M142.90,753.46 C143.18,752.96 144.32,752.69 145.12,752.26 C145.91,751.82 146.66,751.25 147.67,750.85 C148.68,750.46 150.22,750.15 151.18,749.87 C152.13,749.59 152.64,749.44 153.41,749.17 C154.19,748.91 155.03,748.52 155.82,748.28 C156.61,748.03 157.35,748.04 158.16,747.69 C158.97,747.34 159.82,746.57 160.66,746.17 C161.50,745.77 162.27,745.48 163.19,745.28 C164.11,745.09 165.25,745.33 166.18,745.00 C167.11,744.66 167.91,743.56 168.75,743.29 C169.60,743.02 170.44,743.54 171.27,743.35 C172.10,743.16 172.81,742.49 173.71,742.16 C174.61,741.83 175.74,741.64 176.66,741.38 C177.58,741.12 178.37,740.89 179.26,740.60 C180.15,740.30 181.05,739.95 182.00,739.60 C182.96,739.25 184.17,738.94 184.97,738.50 C185.76,738.06 185.88,737.15 186.77,736.95 C187.66,736.76 189.37,737.17 190.29,737.34 C191.21,737.52 191.44,737.89 192.29,737.99 C193.15,738.10 194.40,737.99 195.43,737.97 C196.46,737.95 197.62,737.58 198.44,737.87 C199.27,738.15 199.69,739.20 200.39,739.69 C201.09,740.18 202.11,740.24 202.63,740.81 C203.16,741.39 203.21,742.26 203.56,743.14 C203.91,744.02 204.53,745.24 204.75,746.10 C204.96,746.96 205.12,747.57 204.87,748.31 C204.62,749.05 203.63,749.68 203.26,750.54 C202.88,751.40 202.96,752.50 202.62,753.48 C202.28,754.47 201.52,755.57 201.20,756.46 C200.87,757.36 201.12,758.19 200.67,758.84 C200.21,759.50 199.21,759.78 198.49,760.38 C197.76,760.97 196.97,761.75 196.33,762.43 C195.68,763.11 195.34,763.96 194.63,764.46 C193.92,764.96 192.85,765.30 192.05,765.44 C191.26,765.58 190.76,765.23 189.86,765.30 C188.96,765.36 187.59,765.50 186.65,765.80 C185.71,766.11 185.15,766.89 184.21,767.13 C183.27,767.37 181.98,767.32 181.01,767.26 C180.04,767.20 179.18,766.75 178.36,766.77 C177.54,766.79 177.02,767.21 176.08,767.36 C175.14,767.52 173.74,767.62 172.74,767.72 C171.73,767.82 170.92,767.92 170.05,767.96 C169.18,768.01 168.38,768.06 167.52,768.00 C166.66,767.94 165.89,767.75 164.91,767.60 C163.94,767.46 162.67,767.18 161.67,767.13 C160.68,767.08 159.81,767.27 158.94,767.30 C158.07,767.33 157.29,767.39 156.45,767.32 C155.60,767.25 154.66,767.17 153.85,766.90 C153.05,766.63 152.61,765.98 151.62,765.70 C150.64,765.42 148.96,765.32 147.96,765.23 C146.96,765.13 146.31,765.33 145.62,765.11 C144.93,764.88 144.10,764.59 143.81,763.87 C143.52,763.15 143.90,761.71 143.86,760.77 C143.82,759.83 143.64,759.13 143.57,758.22 C143.50,757.31 143.55,756.08 143.44,755.29 C143.33,754.50 142.62,753.97 142.90,753.46Z" fill="none" stroke="#000" stroke-width="0.95" shape-rendering="crispEdges"/>
<path d="M148.27,753.57 C148.76,753.05 149.84,752.82 150.41,752.59 C150.99,752.36 151.11,752.53 151.73,752.17 C152.35,751.82 153.34,750.82 154.13,750.47 C154.91,750.12 155.71,750.32 156.43,750.06 C157.16,749.80 157.82,749.16 158.46,748.91 C159.10,748.65 159.56,748.80 160.28,748.52 C161.01,748.24 162.02,747.49 162.80,747.24 C163.59,746.99 164.21,747.23 165.00,747.01 C165.78,746.79 166.76,746.26 167.50,745.92 C168.23,745.58 168.75,745.29 169.42,744.97 C170.09,744.66 170.77,744.35 171.54,744.05 C172.32,743.75 173.22,743.37 174.08,743.20 C174.93,743.03 175.88,743.30 176.68,743.04 C177.49,742.77 178.20,741.92 178.91,741.61 C179.62,741.30 180.28,741.31 180.95,741.18 C181.61,741.06 182.11,741.12 182.92,740.84 C183.72,740.57 184.92,739.80 185.80,739.52 C186.67,739.24 187.44,739.15 188.15,739.17 C188.87,739.19 189.29,739.53 190.10,739.66 C190.91,739.80 192.25,739.88 192.99,739.99 C193.73,740.10 193.80,740.05 194.55,740.32 C195.31,740.58 196.69,741.14 197.52,741.58 C198.35,742.02 199.19,742.50 199.54,742.97 C199.88,743.44 199.45,743.66 199.57,744.40 C199.69,745.15 200.21,746.56 200.28,747.45 C200.34,748.33 200.09,749.04 199.98,749.71 C199.86,750.39 199.83,750.77 199.58,751.51 C199.33,752.25 198.77,753.46 198.47,754.16 C198.16,754.86 197.99,755.09 197.73,755.69 C197.47,756.30 197.39,757.02 196.91,757.78 C196.42,758.53 195.37,759.65 194.82,760.22 C194.28,760.80 194.20,760.73 193.64,761.23 C193.07,761.72 192.07,762.75 191.42,763.17 C190.77,763.59 190.39,763.57 189.75,763.75 C189.12,763.93 188.36,764.12 187.60,764.27 C186.85,764.41 186.08,764.52 185.23,764.63 C184.37,764.74 183.31,764.81 182.49,764.94 C181.67,765.07 181.00,765.31 180.31,765.39 C179.61,765.47 179.17,765.30 178.31,765.44 C177.45,765.57 176.05,766.08 175.16,766.22 C174.27,766.35 173.75,766.10 172.95,766.23 C172.14,766.35 171.16,766.91 170.34,766.96 C169.51,767.02 168.72,766.61 167.99,766.56 C167.27,766.50 166.82,766.60 165.97,766.64 C165.12,766.69 163.80,766.94 162.90,766.84 C161.99,766.74 161.24,766.16 160.55,766.05 C159.85,765.93 159.45,766.29 158.73,766.15 C158.01,766.00 157.00,765.40 156.23,765.20 C155.47,764.99 154.83,765.12 154.12,764.94 C153.41,764.76 152.71,764.28 152.00,764.12 C151.28,763.96 150.53,764.18 149.83,763.97 C149.12,763.77 148.04,763.42 147.76,762.90 C147.47,762.38 148.05,761.62 148.13,760.85 C148.21,760.08 148.37,759.12 148.26,758.27 C148.15,757.42 147.46,756.53 147.46,755.75 C147.46,754.97 147.78,754.10 148.27,753.57Z" fill="none" stroke="#000" stroke-width="0.95" shape-rendering="crispEdges"/>
<path d="M152.89,753.22 C153.10,752.88 153.73,753.42 154.32,753.34 C154.90,753.26 155.92,752.99 156.42,752.72 C156.91,752.45 156.73,752.00 157.28,751.72 C157.84,751.45 159.15,751.40 159.75,751.07 C160.36,750.75 160.34,749.96 160.93,749.76 C161.51,749.56 162.63,750.06 163.27,749.88 C163.92,749.69 164.20,748.91 164.78,748.66 C165.37,748.41 166.15,748.58 166.77,748.37 C167.39,748.17 167.98,747.75 168.51,747.41 C169.05,747.07 169.42,746.64 170.00,746.35 C170.57,746.06 171.29,745.94 171.98,745.67 C172.67,745.41 173.40,744.98 174.13,744.75 C174.86,744.52 175.74,744.49 176.35,744.29 C176.97,744.08 177.22,743.74 177.83,743.52 C178.45,743.30 179.29,743.25 180.04,742.98 C180.80,742.72 181.75,742.19 182.36,741.93 C182.96,741.67 183.12,741.45 183.68,741.44 C184.24,741.42 185.05,741.86 185.73,741.83 C186.41,741.80 187.01,741.22 187.75,741.28 C188.50,741.34 189.43,742.00 190.20,742.18 C190.97,742.37 191.80,742.13 192.35,742.39 C192.90,742.65 193.00,743.41 193.52,743.74 C194.03,744.08 195.07,743.91 195.45,744.41 C195.83,744.90 195.63,745.98 195.79,746.70 C195.95,747.42 196.49,748.16 196.41,748.72 C196.33,749.28 195.59,749.56 195.33,750.07 C195.06,750.57 194.97,751.19 194.81,751.76 C194.65,752.33 194.54,752.81 194.35,753.49 C194.16,754.17 193.96,755.17 193.66,755.82 C193.37,756.48 192.92,756.91 192.58,757.44 C192.23,757.96 191.97,758.44 191.57,758.98 C191.17,759.51 190.66,760.15 190.16,760.66 C189.67,761.18 189.18,761.86 188.59,762.06 C188.00,762.27 187.20,761.82 186.64,761.89 C186.07,761.97 185.84,762.29 185.21,762.49 C184.58,762.69 183.53,763.00 182.86,763.09 C182.19,763.17 181.72,762.89 181.19,763.00 C180.65,763.10 180.22,763.55 179.66,763.73 C179.10,763.92 178.49,764.03 177.85,764.11 C177.21,764.19 176.61,764.11 175.80,764.23 C175.00,764.35 173.74,764.63 173.00,764.85 C172.26,765.07 172.05,765.50 171.39,765.54 C170.72,765.57 169.84,765.16 169.01,765.07 C168.18,764.98 167.23,764.88 166.40,765.00 C165.57,765.12 164.80,765.75 164.03,765.80 C163.26,765.85 162.45,765.54 161.79,765.29 C161.13,765.05 160.64,764.60 160.06,764.34 C159.48,764.09 158.96,763.91 158.31,763.79 C157.66,763.67 156.79,763.69 156.15,763.62 C155.52,763.55 155.00,763.57 154.52,763.38 C154.05,763.18 153.60,762.84 153.29,762.46 C152.97,762.07 152.72,761.66 152.64,761.08 C152.56,760.50 152.81,759.56 152.80,758.98 C152.78,758.41 152.50,758.22 152.54,757.62 C152.59,757.01 153.01,756.11 153.07,755.38 C153.12,754.65 152.68,753.56 152.89,753.22Z" fill="none" stroke="#000" stroke-width="0.95" shape-rendering="crispEdges"/>
<path d="M158.05,754.10 C158.23,753.66 158.48,753.32 158.76,753.10 C159.04,752.87 159.33,752.91 159.71,752.76 C160.10,752.61 160.54,752.40 161.04,752.21 C161.55,752.03 162.29,751.90 162.75,751.65 C163.22,751.40 163.53,750.87 163.86,750.73 C164.18,750.59 164.20,750.96 164.69,750.81 C165.18,750.65 166.36,750.08 166.80,749.79 C167.25,749.50 166.97,749.27 167.36,749.06 C167.75,748.85 168.57,748.75 169.16,748.53 C169.75,748.32 170.32,747.94 170.89,747.79 C171.46,747.64 171.99,747.77 172.58,747.62 C173.16,747.48 173.83,747.23 174.38,746.93 C174.93,746.63 175.31,746.09 175.89,745.81 C176.48,745.53 177.27,745.40 177.89,745.23 C178.51,745.07 179.08,744.95 179.59,744.79 C180.10,744.64 180.47,744.48 180.96,744.28 C181.45,744.08 181.98,743.67 182.52,743.61 C183.07,743.55 183.69,743.88 184.23,743.93 C184.77,743.98 185.23,743.90 185.78,743.92 C186.32,743.93 186.98,743.93 187.50,744.02 C188.02,744.12 188.39,744.32 188.89,744.50 C189.39,744.67 190.13,744.69 190.48,745.06 C190.83,745.42 190.85,746.16 190.97,746.69 C191.09,747.22 191.05,747.77 191.20,748.21 C191.35,748.65 191.82,748.87 191.85,749.33 C191.89,749.79 191.57,750.45 191.42,750.96 C191.27,751.47 191.28,751.94 190.95,752.39 C190.63,752.85 189.73,753.21 189.46,753.69 C189.18,754.17 189.53,754.67 189.32,755.29 C189.10,755.92 188.47,756.94 188.18,757.44 C187.88,757.94 187.86,757.97 187.55,758.27 C187.24,758.56 186.80,758.85 186.32,759.21 C185.84,759.57 185.11,760.14 184.67,760.41 C184.24,760.69 184.08,760.70 183.71,760.85 C183.34,760.99 182.98,761.14 182.48,761.29 C181.98,761.44 181.22,761.70 180.70,761.77 C180.19,761.84 179.79,761.60 179.39,761.73 C178.99,761.87 178.71,762.38 178.31,762.59 C177.91,762.79 177.46,762.93 177.00,762.97 C176.54,763.01 176.21,762.82 175.55,762.83 C174.89,762.83 173.68,762.75 173.04,762.99 C172.40,763.23 172.29,764.08 171.73,764.24 C171.17,764.41 170.39,763.95 169.68,763.98 C168.96,764.01 168.24,764.36 167.45,764.44 C166.66,764.52 165.70,764.61 164.95,764.46 C164.20,764.31 163.57,763.68 162.95,763.53 C162.32,763.38 161.59,763.67 161.18,763.53 C160.76,763.39 160.82,762.87 160.46,762.69 C160.10,762.51 159.46,762.62 159.03,762.44 C158.60,762.25 158.18,761.86 157.89,761.60 C157.60,761.34 157.56,761.08 157.28,760.88 C156.99,760.68 156.24,760.83 156.19,760.38 C156.13,759.94 156.75,758.77 156.95,758.22 C157.14,757.67 157.23,757.51 157.35,757.09 C157.48,756.67 157.59,756.19 157.70,755.69 C157.82,755.19 157.88,754.53 158.05,754.10Z" fill="none" stroke="#000" stroke-width="0.95" shape-rendering="crispEdges"/>
<path d="M162.50,754.48 C162.62,754.32 162.86,754.23 163.03,754.04 C163.20,753.85 163.24,753.43 163.53,753.33 C163.81,753.24 164.35,753.51 164.71,753.46 C165.07,753.41 165.36,753.17 165.69,753.04 C166.02,752.90 166.44,752.84 166.72,752.63 C166.99,752.43 167.12,752.08 167.36,751.79 C167.60,751.50 167.80,751.05 168.16,750.87 C168.52,750.70 169.21,750.90 169.51,750.71 C169.81,750.53 169.68,749.94 169.97,749.76 C170.25,749.59 170.72,749.85 171.20,749.65 C171.68,749.44 172.32,748.76 172.83,748.53 C173.34,748.31 173.86,748.45 174.26,748.30 C174.67,748.14 174.72,747.86 175.25,747.60 C175.77,747.35 176.95,746.91 177.42,746.77 C177.88,746.62 177.62,746.76 178.04,746.74 C178.46,746.72 179.49,746.75 179.93,746.66 C180.37,746.56 180.36,746.33 180.68,746.17 C181.01,746.01 181.31,745.71 181.87,745.69 C182.43,745.68 183.54,745.98 184.05,746.07 C184.55,746.17 184.56,746.16 184.88,746.26 C185.21,746.35 185.58,746.35 185.97,746.62 C186.37,746.89 187.04,747.56 187.23,747.88 C187.43,748.20 187.02,748.26 187.14,748.56 C187.25,748.86 187.92,749.31 187.94,749.68 C187.96,750.05 187.46,750.38 187.28,750.81 C187.10,751.24 187.00,751.91 186.85,752.26 C186.69,752.61 186.48,752.59 186.36,752.91 C186.23,753.23 186.32,753.79 186.09,754.16 C185.86,754.52 185.25,754.81 184.97,755.12 C184.69,755.42 184.67,755.66 184.40,755.98 C184.12,756.30 183.65,756.73 183.34,757.05 C183.03,757.36 182.82,757.62 182.53,757.89 C182.24,758.15 181.77,758.41 181.59,758.61 C181.40,758.81 181.55,758.89 181.41,759.08 C181.27,759.27 181.08,759.66 180.73,759.75 C180.38,759.84 179.68,759.52 179.33,759.64 C178.98,759.76 178.97,760.29 178.64,760.46 C178.31,760.63 177.75,760.57 177.38,760.64 C177.00,760.72 176.79,760.80 176.38,760.91 C175.98,761.01 175.42,761.11 174.93,761.26 C174.44,761.42 173.90,761.71 173.45,761.84 C173.00,761.96 172.84,761.80 172.22,762.03 C171.61,762.27 170.45,763.03 169.78,763.24 C169.11,763.45 168.72,763.28 168.20,763.31 C167.68,763.34 167.25,763.40 166.65,763.41 C166.06,763.42 165.16,763.54 164.62,763.36 C164.08,763.18 163.83,762.67 163.41,762.34 C162.99,762.01 162.31,761.55 162.09,761.38 C161.87,761.22 162.23,761.53 162.09,761.34 C161.94,761.16 161.37,760.53 161.21,760.27 C161.06,760.00 161.27,759.88 161.16,759.73 C161.06,759.57 160.55,759.64 160.56,759.33 C160.57,759.01 161.04,758.33 161.25,757.84 C161.46,757.34 161.66,756.82 161.84,756.35 C162.01,755.87 162.18,755.29 162.30,754.98 C162.41,754.67 162.38,754.63 162.50,754.48Z" fill="none" stroke="#000" stroke-width="0.95" shape-rendering="crispEdges"/>
<path d="M167.46,754.73 C167.65,754.53 167.75,754.31 167.77,754.14 C167.79,753.96 167.58,753.79 167.59,753.69 C167.60,753.58 167.68,753.51 167.84,753.48 C168.00,753.46 168.33,753.62 168.55,753.55 C168.77,753.48 168.98,753.28 169.17,753.07 C169.37,752.86 169.59,752.47 169.70,752.28 C169.81,752.10 169.67,752.01 169.82,751.95 C169.97,751.90 170.35,752.05 170.61,751.95 C170.88,751.84 171.17,751.53 171.40,751.32 C171.63,751.12 171.79,750.91 172.00,750.69 C172.20,750.47 172.31,750.16 172.65,750.02 C172.99,749.88 173.69,749.92 174.05,749.85 C174.40,749.78 174.46,749.85 174.76,749.61 C175.06,749.38 175.40,748.65 175.83,748.43 C176.26,748.21 176.90,748.29 177.32,748.28 C177.75,748.27 178.03,748.37 178.36,748.38 C178.69,748.38 178.97,748.36 179.29,748.31 C179.62,748.26 179.98,748.21 180.33,748.10 C180.67,747.98 181.12,747.65 181.38,747.62 C181.64,747.60 181.65,747.80 181.91,747.94 C182.16,748.09 182.65,748.20 182.91,748.47 C183.18,748.75 183.31,749.36 183.49,749.59 C183.66,749.83 183.91,749.70 183.96,749.89 C184.02,750.08 183.94,750.26 183.84,750.73 C183.73,751.20 183.61,752.29 183.35,752.74 C183.10,753.19 182.55,753.24 182.31,753.45 C182.08,753.65 182.02,753.69 181.92,753.96 C181.82,754.23 181.93,754.88 181.70,755.05 C181.47,755.22 180.73,754.83 180.55,754.98 C180.36,755.13 180.66,755.76 180.58,755.93 C180.51,756.11 180.26,755.94 180.09,756.01 C179.91,756.09 179.84,756.23 179.54,756.39 C179.25,756.54 178.47,756.78 178.34,756.93 C178.21,757.09 178.85,757.21 178.78,757.31 C178.71,757.40 178.18,757.39 177.90,757.51 C177.62,757.62 177.23,757.87 177.08,758.00 C176.92,758.13 177.04,758.16 176.96,758.27 C176.87,758.38 176.72,758.41 176.57,758.65 C176.43,758.89 176.38,759.58 176.08,759.71 C175.78,759.84 175.18,759.29 174.78,759.42 C174.37,759.55 174.05,760.26 173.67,760.50 C173.28,760.74 172.91,760.63 172.47,760.88 C172.03,761.13 171.57,761.90 171.03,762.00 C170.49,762.10 169.84,761.44 169.24,761.48 C168.63,761.51 167.96,762.07 167.40,762.20 C166.85,762.33 166.38,762.50 165.90,762.26 C165.42,762.01 164.70,761.11 164.52,760.75 C164.33,760.39 164.84,760.22 164.77,760.08 C164.70,759.95 164.15,760.10 164.10,759.97 C164.04,759.83 164.28,759.54 164.45,759.28 C164.61,759.03 165.02,758.77 165.10,758.43 C165.18,758.09 164.78,757.45 164.95,757.22 C165.12,757.00 165.84,757.30 166.12,757.08 C166.41,756.86 166.58,756.19 166.67,755.89 C166.75,755.60 166.50,755.50 166.63,755.30 C166.76,755.11 167.27,754.92 167.46,754.73Z" fill="none" stroke="#000" stroke-width="0.95" shape-rendering="crispEdges"/>
<circle cx="203.1" cy="748.3" r="0.55" fill="#222"/>
<circle cx="201.8" cy="755.1" r="0.55" fill="#222"/>
<circle cx="206.3" cy="756.0" r="0.55" fill="#222"/>
<circle cx="205.6" cy="757.4" r="0.55" fill="#222"/>
<circle cx="204.1" cy="756.4" r="0.55" fill="#222"/>
<circle cx="201.6" cy="751.5" r="0.55" fill="#222"/>
<circle cx="201.0" cy="754.6" r="0.55" fill="#222"/>
<circle cx="203.1" cy="754.7" r="0.55" fill="#222"/>
<path d="M271.26,756.47 C271.70,756.04 272.69,756.58 273.46,756.42 C274.22,756.25 274.88,755.82 275.84,755.50 C276.81,755.19 278.32,754.69 279.25,754.53 C280.18,754.37 280.73,754.65 281.43,754.52 C282.13,754.40 282.57,753.97 283.44,753.78 C284.31,753.58 285.68,753.55 286.63,753.35 C287.59,753.14 288.42,752.77 289.18,752.55 C289.95,752.32 290.41,752.03 291.22,752.00 C292.03,751.96 293.12,752.38 294.02,752.33 C294.93,752.28 295.82,751.89 296.64,751.70 C297.46,751.52 298.20,751.37 298.97,751.20 C299.73,751.03 300.34,750.69 301.24,750.71 C302.15,750.73 303.48,751.29 304.39,751.32 C305.30,751.34 305.94,750.77 306.71,750.85 C307.47,750.93 308.19,751.38 308.97,751.80 C309.75,752.22 310.80,752.79 311.37,753.39 C311.93,753.98 312.06,754.74 312.36,755.36 C312.65,755.98 313.08,756.31 313.14,757.11 C313.20,757.90 312.85,759.20 312.74,760.12 C312.63,761.04 312.36,761.83 312.49,762.63 C312.61,763.42 313.39,764.09 313.47,764.89 C313.55,765.69 313.10,766.48 312.95,767.46 C312.79,768.44 312.74,769.95 312.54,770.78 C312.35,771.61 311.99,771.65 311.78,772.44 C311.57,773.23 311.51,774.69 311.27,775.52 C311.02,776.35 310.61,776.60 310.31,777.42 C310.00,778.25 309.81,779.67 309.42,780.45 C309.03,781.23 308.41,781.52 307.98,782.11 C307.55,782.70 307.36,783.40 306.84,783.99 C306.31,784.59 305.55,785.05 304.85,785.67 C304.15,786.29 303.47,787.23 302.63,787.71 C301.79,788.19 300.57,788.28 299.82,788.56 C299.07,788.85 298.86,789.00 298.12,789.41 C297.39,789.83 296.16,790.90 295.40,791.05 C294.64,791.19 294.34,790.26 293.56,790.29 C292.77,790.33 291.68,791.12 290.69,791.25 C289.70,791.37 288.61,791.11 287.65,791.03 C286.68,790.94 285.67,790.81 284.89,790.74 C284.11,790.66 283.70,790.75 282.97,790.58 C282.24,790.40 281.43,789.77 280.52,789.69 C279.62,789.61 278.42,790.16 277.55,790.08 C276.67,790.00 276.07,789.40 275.26,789.18 C274.45,788.96 273.48,789.16 272.68,788.77 C271.88,788.38 270.83,787.54 270.46,786.85 C270.09,786.16 270.56,785.46 270.48,784.64 C270.41,783.83 270.10,782.81 270.00,781.95 C269.90,781.10 269.99,780.28 269.89,779.49 C269.79,778.70 269.51,778.00 269.42,777.22 C269.32,776.44 269.33,775.63 269.31,774.80 C269.29,773.97 269.20,773.13 269.30,772.22 C269.40,771.32 269.75,770.31 269.89,769.37 C270.03,768.43 270.03,767.43 270.14,766.57 C270.24,765.70 270.47,764.92 270.51,764.19 C270.54,763.46 270.29,763.03 270.34,762.17 C270.40,761.31 270.70,759.98 270.86,759.03 C271.01,758.08 270.83,756.91 271.26,756.47Z" fill="none" stroke="#000" stroke-width="0.95" shape-rendering="crispEdges"/>
<path d="M273.73,757.81 C274.24,757.34 275.01,757.26 275.74,757.05 C276.48,756.85 277.50,756.63 278.14,756.58 C278.78,756.52 278.95,756.79 279.58,756.72 C280.22,756.64 281.05,756.36 281.97,756.11 C282.88,755.87 284.33,755.56 285.08,755.23 C285.82,754.91 285.77,754.36 286.42,754.15 C287.07,753.94 288.08,753.98 288.96,753.97 C289.85,753.96 290.91,754.26 291.73,754.07 C292.54,753.88 293.06,753.09 293.84,752.82 C294.62,752.55 295.66,752.49 296.40,752.43 C297.14,752.37 297.46,752.55 298.26,752.49 C299.06,752.42 300.37,751.96 301.21,752.03 C302.05,752.10 302.51,752.77 303.30,752.90 C304.09,753.03 305.11,752.73 305.93,752.81 C306.75,752.90 307.52,753.05 308.22,753.41 C308.93,753.76 309.66,754.46 310.18,754.96 C310.69,755.46 311.24,755.85 311.33,756.40 C311.41,756.95 310.70,757.55 310.69,758.27 C310.67,758.99 311.12,759.94 311.25,760.72 C311.39,761.50 311.40,762.18 311.49,762.97 C311.57,763.76 311.87,764.67 311.76,765.46 C311.65,766.26 310.97,766.92 310.83,767.76 C310.70,768.60 311.00,769.71 310.95,770.49 C310.91,771.27 310.66,771.61 310.55,772.46 C310.44,773.31 310.46,774.70 310.29,775.59 C310.12,776.47 309.95,777.06 309.53,777.77 C309.12,778.48 308.15,779.25 307.80,779.86 C307.44,780.48 307.74,780.85 307.41,781.46 C307.07,782.06 306.28,782.97 305.77,783.48 C305.27,783.99 305.01,784.06 304.39,784.51 C303.77,784.96 302.85,785.68 302.05,786.19 C301.25,786.70 300.30,787.24 299.61,787.56 C298.93,787.87 298.59,787.82 297.93,788.09 C297.28,788.35 296.49,788.93 295.69,789.16 C294.88,789.38 293.99,789.40 293.08,789.46 C292.17,789.51 291.06,789.44 290.25,789.51 C289.44,789.57 288.95,789.81 288.19,789.84 C287.43,789.87 286.42,789.80 285.70,789.67 C284.98,789.54 284.54,789.33 283.88,789.06 C283.22,788.79 282.51,788.19 281.73,788.05 C280.94,787.91 279.95,788.30 279.17,788.20 C278.38,788.11 277.83,787.80 277.01,787.49 C276.20,787.18 275.00,786.70 274.28,786.36 C273.56,786.02 273.10,785.95 272.71,785.45 C272.32,784.95 272.03,784.07 271.95,783.37 C271.87,782.66 272.27,781.93 272.22,781.23 C272.16,780.53 271.70,779.88 271.63,779.15 C271.57,778.41 271.86,777.57 271.81,776.82 C271.77,776.07 271.36,775.40 271.37,774.65 C271.37,773.91 271.69,773.13 271.84,772.33 C271.98,771.53 272.26,770.73 272.23,769.85 C272.20,768.97 271.68,767.83 271.66,767.04 C271.64,766.26 271.98,765.95 272.10,765.15 C272.22,764.36 272.30,763.16 272.39,762.27 C272.47,761.39 272.41,760.61 272.64,759.86 C272.86,759.12 273.21,758.28 273.73,757.81Z" fill="none" stroke="#000" stroke-width="0.95" shape-rendering="crispEdges"/>
<path d="M276.46,760.14 C276.80,759.73 277.17,759.61 277.70,759.34 C278.23,759.07 279.02,758.75 279.64,758.53 C280.26,758.32 280.82,758.29 281.42,758.04 C282.02,757.79 282.54,757.32 283.22,757.05 C283.90,756.77 284.78,756.48 285.49,756.40 C286.20,756.32 286.86,756.78 287.47,756.58 C288.08,756.38 288.39,755.53 289.16,755.22 C289.93,754.91 291.33,754.73 292.08,754.72 C292.84,754.72 293.01,755.25 293.69,755.17 C294.37,755.09 295.50,754.44 296.17,754.27 C296.84,754.09 297.06,754.02 297.70,754.10 C298.34,754.18 299.17,754.60 300.01,754.76 C300.84,754.91 301.95,754.92 302.72,755.04 C303.48,755.17 304.00,755.30 304.62,755.50 C305.25,755.71 305.84,756.13 306.46,756.27 C307.08,756.41 307.99,756.06 308.34,756.35 C308.70,756.63 308.45,757.35 308.56,758.00 C308.68,758.64 308.97,759.45 309.04,760.21 C309.11,760.97 308.94,761.94 308.97,762.56 C308.99,763.19 309.15,763.35 309.19,763.98 C309.23,764.60 309.17,765.55 309.22,766.30 C309.26,767.05 309.49,767.83 309.46,768.48 C309.44,769.12 309.17,769.52 309.05,770.18 C308.93,770.84 308.88,771.66 308.74,772.42 C308.60,773.18 308.40,774.00 308.20,774.75 C308.00,775.49 307.73,776.31 307.52,776.88 C307.31,777.45 307.23,777.61 306.94,778.17 C306.65,778.72 306.21,779.53 305.80,780.22 C305.39,780.91 304.91,781.68 304.48,782.31 C304.05,782.94 303.75,783.62 303.23,783.98 C302.71,784.33 302.01,784.16 301.35,784.44 C300.70,784.72 300.02,785.25 299.27,785.65 C298.52,786.06 297.50,786.53 296.83,786.89 C296.17,787.25 295.91,787.67 295.27,787.84 C294.62,788.01 293.67,788.01 292.95,787.91 C292.24,787.81 291.63,787.30 290.98,787.21 C290.34,787.12 289.76,787.41 289.06,787.37 C288.37,787.33 287.61,786.97 286.80,786.97 C286.00,786.96 285.00,787.50 284.26,787.36 C283.51,787.22 282.94,786.41 282.31,786.12 C281.68,785.82 281.01,785.62 280.50,785.59 C280.00,785.57 279.81,786.14 279.29,785.96 C278.76,785.78 277.92,784.87 277.34,784.50 C276.77,784.13 276.25,784.17 275.84,783.76 C275.42,783.35 275.01,782.71 274.85,782.02 C274.70,781.33 274.93,780.34 274.91,779.62 C274.88,778.91 274.79,778.35 274.71,777.73 C274.63,777.12 274.38,776.58 274.43,775.94 C274.48,775.29 275.06,774.53 274.99,773.86 C274.93,773.19 274.19,772.63 274.03,771.93 C273.87,771.24 273.86,770.37 274.04,769.69 C274.23,769.01 274.91,768.49 275.15,767.86 C275.39,767.23 275.47,766.67 275.47,765.91 C275.47,765.15 275.11,763.96 275.14,763.28 C275.17,762.60 275.42,762.34 275.64,761.82 C275.86,761.30 276.12,760.55 276.46,760.14Z" fill="none" stroke="#000" stroke-width="0.95" shape-rendering="crispEdges"/>
<path d="M279.00,761.60 C279.40,761.16 280.33,761.20 280.84,761.04 C281.35,760.88 281.57,760.89 282.06,760.63 C282.56,760.36 283.41,759.64 283.83,759.46 C284.26,759.28 284.13,759.76 284.62,759.55 C285.10,759.34 286.17,758.53 286.72,758.22 C287.27,757.92 287.35,757.79 287.92,757.73 C288.49,757.67 289.52,758.05 290.15,757.89 C290.78,757.73 291.06,756.97 291.71,756.78 C292.36,756.59 293.34,756.68 294.07,756.74 C294.80,756.81 295.43,757.17 296.08,757.19 C296.72,757.21 297.41,756.99 297.93,756.86 C298.46,756.74 298.67,756.40 299.22,756.45 C299.76,756.50 300.66,756.95 301.19,757.18 C301.73,757.41 301.89,757.60 302.42,757.82 C302.96,758.04 303.84,758.17 304.40,758.49 C304.95,758.81 305.54,759.43 305.75,759.74 C305.95,760.05 305.48,759.92 305.64,760.35 C305.80,760.79 306.47,761.82 306.70,762.32 C306.92,762.83 307.00,762.78 307.02,763.36 C307.03,763.93 306.80,765.13 306.80,765.78 C306.80,766.42 306.89,766.79 306.99,767.24 C307.10,767.69 307.53,767.86 307.42,768.47 C307.32,769.09 306.49,770.32 306.37,770.92 C306.25,771.52 306.64,771.56 306.70,772.06 C306.75,772.57 306.90,773.35 306.69,773.95 C306.48,774.55 305.80,775.09 305.43,775.67 C305.07,776.24 304.68,776.83 304.50,777.40 C304.31,777.97 304.48,778.60 304.32,779.07 C304.15,779.54 304.00,779.82 303.51,780.23 C303.02,780.65 301.94,781.18 301.40,781.59 C300.85,782.00 300.69,782.30 300.23,782.70 C299.78,783.10 299.24,783.58 298.68,783.99 C298.13,784.41 297.46,784.88 296.91,785.17 C296.36,785.47 296.04,785.75 295.36,785.77 C294.68,785.80 293.43,785.40 292.83,785.33 C292.23,785.25 292.36,785.33 291.76,785.32 C291.17,785.31 290.00,785.27 289.28,785.27 C288.55,785.28 287.94,785.55 287.43,785.35 C286.92,785.16 286.63,784.32 286.22,784.09 C285.81,783.87 285.54,784.08 284.97,783.99 C284.39,783.90 283.24,783.77 282.75,783.55 C282.26,783.34 282.52,783.02 282.02,782.72 C281.51,782.42 280.33,782.00 279.74,781.77 C279.15,781.54 278.70,781.59 278.49,781.32 C278.28,781.05 278.54,780.74 278.49,780.14 C278.43,779.54 278.22,778.38 278.18,777.72 C278.14,777.07 278.29,776.73 278.25,776.22 C278.21,775.71 278.03,775.15 277.94,774.68 C277.84,774.22 277.61,773.96 277.68,773.43 C277.75,772.89 278.29,772.10 278.35,771.48 C278.41,770.87 278.02,770.29 278.05,769.76 C278.09,769.24 278.56,768.81 278.53,768.32 C278.51,767.84 277.92,767.49 277.89,766.85 C277.86,766.22 278.25,765.04 278.34,764.51 C278.44,763.98 278.35,764.17 278.46,763.69 C278.57,763.20 278.60,762.04 279.00,761.60Z" fill="none" stroke="#000" stroke-width="0.95" shape-rendering="crispEdges"/>
<path d="M283.02,763.92 C283.27,763.59 283.49,763.83 283.66,763.69 C283.83,763.54 283.71,763.23 284.04,763.05 C284.37,762.86 285.30,762.85 285.64,762.59 C285.97,762.34 285.72,761.76 286.07,761.51 C286.42,761.25 287.26,761.29 287.74,761.08 C288.23,760.86 288.43,760.52 288.98,760.24 C289.52,759.95 290.48,759.50 291.02,759.38 C291.56,759.27 291.84,759.55 292.23,759.56 C292.62,759.58 292.87,759.57 293.36,759.48 C293.85,759.38 294.64,758.98 295.18,758.98 C295.72,758.98 296.08,759.34 296.58,759.48 C297.08,759.61 297.77,759.63 298.18,759.79 C298.58,759.95 298.56,760.25 299.01,760.41 C299.45,760.57 300.48,760.62 300.86,760.72 C301.24,760.83 301.04,760.87 301.31,761.02 C301.58,761.17 302.12,761.29 302.50,761.60 C302.88,761.90 303.34,762.51 303.57,762.86 C303.80,763.22 303.84,763.30 303.89,763.74 C303.94,764.19 303.85,765.10 303.89,765.55 C303.94,766.00 304.18,766.07 304.16,766.44 C304.14,766.81 303.75,767.26 303.76,767.79 C303.77,768.33 304.04,769.12 304.21,769.68 C304.38,770.23 304.70,770.76 304.77,771.11 C304.85,771.46 304.88,771.40 304.67,771.78 C304.46,772.16 303.78,772.90 303.52,773.38 C303.26,773.85 303.17,774.16 303.10,774.61 C303.02,775.06 303.18,775.57 303.05,776.07 C302.93,776.57 302.67,777.05 302.36,777.62 C302.05,778.19 301.58,779.03 301.20,779.51 C300.81,780.00 300.40,780.23 300.06,780.53 C299.71,780.82 299.58,780.99 299.14,781.27 C298.69,781.55 297.79,782.02 297.38,782.20 C296.97,782.37 297.12,782.17 296.69,782.33 C296.26,782.50 295.37,783.02 294.79,783.19 C294.21,783.37 293.70,783.43 293.20,783.38 C292.71,783.32 292.28,782.90 291.81,782.85 C291.34,782.79 290.88,783.12 290.37,783.06 C289.87,783.00 289.23,782.69 288.79,782.49 C288.34,782.28 288.15,782.04 287.68,781.81 C287.21,781.59 286.32,781.31 285.98,781.15 C285.64,781.00 285.96,781.06 285.63,780.88 C285.30,780.69 284.32,780.28 283.98,780.03 C283.65,779.77 283.89,779.56 283.62,779.35 C283.35,779.13 282.54,779.05 282.38,778.76 C282.22,778.46 282.60,777.96 282.65,777.58 C282.69,777.21 282.84,776.92 282.64,776.50 C282.45,776.07 281.61,775.50 281.50,775.02 C281.40,774.53 281.91,773.93 282.02,773.59 C282.13,773.24 282.18,773.35 282.15,772.95 C282.13,772.54 282.05,771.54 281.88,771.14 C281.71,770.74 281.14,770.94 281.13,770.56 C281.11,770.18 281.63,769.30 281.77,768.86 C281.91,768.42 281.92,768.28 281.97,767.92 C282.02,767.56 282.04,767.06 282.07,766.68 C282.10,766.31 281.99,766.15 282.15,765.69 C282.31,765.23 282.77,764.26 283.02,763.92Z" fill="none" stroke="#000" stroke-width="0.95" shape-rendering="crispEdges"/>
<path d="M286.25,765.99 C286.30,765.77 286.28,766.10 286.34,765.96 C286.39,765.81 286.36,765.33 286.58,765.11 C286.81,764.89 287.50,764.88 287.69,764.64 C287.88,764.41 287.51,763.99 287.71,763.71 C287.92,763.43 288.64,763.27 288.92,762.96 C289.21,762.66 289.08,762.08 289.44,761.87 C289.79,761.66 290.56,761.93 291.05,761.72 C291.54,761.52 291.97,760.69 292.38,760.62 C292.78,760.56 292.97,761.23 293.48,761.34 C293.99,761.44 295.04,761.17 295.42,761.24 C295.79,761.31 295.37,761.68 295.73,761.77 C296.08,761.86 297.14,761.67 297.53,761.76 C297.91,761.86 297.89,762.07 298.03,762.34 C298.16,762.61 298.15,763.21 298.33,763.39 C298.51,763.58 298.75,763.31 299.10,763.43 C299.45,763.56 300.15,763.81 300.41,764.15 C300.67,764.50 300.66,765.25 300.69,765.52 C300.71,765.79 300.53,765.54 300.56,765.77 C300.59,766.00 300.66,766.56 300.89,766.90 C301.13,767.24 301.82,767.55 301.97,767.84 C302.11,768.12 301.76,768.29 301.74,768.62 C301.72,768.96 301.82,769.53 301.83,769.84 C301.83,770.15 301.71,770.17 301.77,770.47 C301.82,770.77 302.07,771.17 302.16,771.64 C302.25,772.10 302.46,772.93 302.31,773.28 C302.15,773.62 301.42,773.43 301.24,773.71 C301.07,773.99 301.36,774.50 301.26,774.97 C301.15,775.45 300.78,776.17 300.61,776.58 C300.44,776.98 300.48,777.05 300.24,777.42 C300.00,777.79 299.59,778.51 299.18,778.81 C298.77,779.10 298.09,779.02 297.78,779.21 C297.47,779.40 297.58,779.79 297.33,779.96 C297.07,780.13 296.77,780.07 296.25,780.21 C295.72,780.34 294.67,780.67 294.17,780.78 C293.67,780.89 293.65,780.86 293.24,780.86 C292.83,780.87 292.06,780.78 291.72,780.79 C291.39,780.80 291.53,781.10 291.23,780.93 C290.93,780.76 290.31,780.07 289.93,779.76 C289.55,779.45 289.34,779.18 288.97,779.06 C288.60,778.94 287.97,779.26 287.69,779.04 C287.41,778.83 287.34,778.08 287.28,777.76 C287.22,777.43 287.49,777.30 287.33,777.08 C287.17,776.86 286.42,776.56 286.30,776.44 C286.18,776.31 286.72,776.56 286.61,776.33 C286.49,776.10 285.68,775.39 285.59,775.07 C285.49,774.75 286.03,774.55 286.04,774.40 C286.04,774.25 285.73,774.39 285.60,774.18 C285.48,773.96 285.39,773.47 285.28,773.12 C285.18,772.76 285.00,772.38 284.98,772.03 C284.96,771.67 285.15,771.29 285.15,770.99 C285.15,770.68 285.02,770.36 284.99,770.18 C284.96,770.00 284.91,770.14 284.96,769.90 C285.02,769.66 285.21,769.20 285.31,768.75 C285.42,768.31 285.49,767.48 285.61,767.24 C285.73,767.00 285.92,767.51 286.02,767.30 C286.13,767.09 286.20,766.21 286.25,765.99Z" fill="none" stroke="#000" stroke-width="0.95" shape-rendering="crispEdges"/>
<rect x="269.2" y="753.5" width="1.6" height="38" fill="#111"/>
</svg>
</body></html>
